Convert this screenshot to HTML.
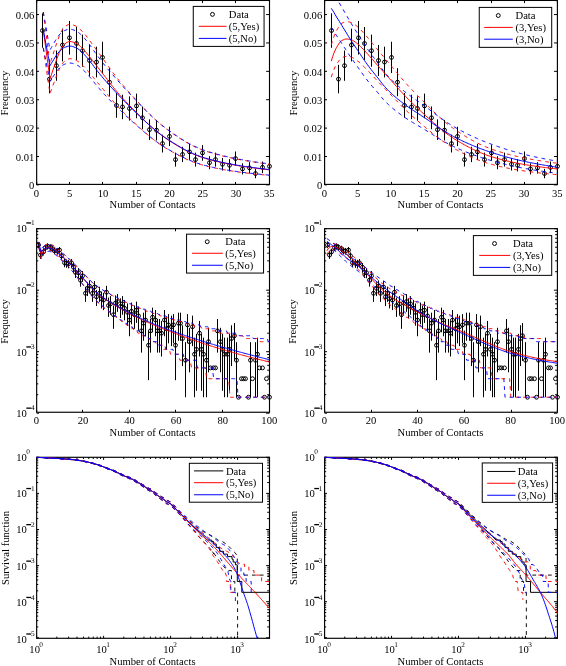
<!DOCTYPE html>
<html><head><meta charset="utf-8"><title>Figure</title><style>html,body{margin:0;padding:0;background:#fff}</style></head><body>
<svg width="566" height="666" viewBox="0 0 566 666" style="font-family:'Liberation Serif',serif;display:block;will-change:transform">
<rect width="566" height="666" fill="#fff"/>
<clipPath id="ca0"><rect x="36.06" y="-0.15" width="236.64" height="185.15"/></clipPath>
<rect x="36.66" y="0.45" width="232.84" height="183.95" fill="none" stroke="#000" stroke-width="1.15"/>
<path d="M36.66 184.4v-2.5M36.66 0.45v2.6M69.5 184.4v-2.5M69.5 0.45v2.6M102.5 184.4v-2.5M102.5 0.45v2.6M136.5 184.4v-2.5M136.5 0.45v2.6M169.5 184.4v-2.5M169.5 0.45v2.6M202.5 184.4v-2.5M202.5 0.45v2.6M235.5 184.4v-2.5M235.5 0.45v2.6M269.5 184.4v-2.5M269.5 0.45v2.6" stroke="#000" stroke-width="1"/>
<text x="36.46" y="196.5" font-size="10.6" text-anchor="middle">0</text>
<text x="69.72" y="196.5" font-size="10.6" text-anchor="middle">5</text>
<text x="102.99" y="196.5" font-size="10.6" text-anchor="middle">10</text>
<text x="136.25" y="196.5" font-size="10.6" text-anchor="middle">15</text>
<text x="169.51" y="196.5" font-size="10.6" text-anchor="middle">20</text>
<text x="202.77" y="196.5" font-size="10.6" text-anchor="middle">25</text>
<text x="236.04" y="196.5" font-size="10.6" text-anchor="middle">30</text>
<text x="269.3" y="196.5" font-size="10.6" text-anchor="middle">35</text>
<path d="M36.66 184.9h2.4M269.5 184.9h-3.4M36.66 156.51h2.4M269.5 156.51h-3.4M36.66 128.12h2.4M269.5 128.12h-3.4M36.66 99.73h2.4M269.5 99.73h-3.4M36.66 71.34h2.4M269.5 71.34h-3.4M36.66 42.95h2.4M269.5 42.95h-3.4M36.66 14.56h2.4M269.5 14.56h-3.4" stroke="#000" stroke-width="1"/>
<text x="34.26" y="188.6" font-size="10.6" text-anchor="end">0</text>
<text x="34.26" y="160.71" font-size="10.6" text-anchor="end">0.01</text>
<text x="34.26" y="132.32" font-size="10.6" text-anchor="end">0.02</text>
<text x="34.26" y="103.93" font-size="10.6" text-anchor="end">0.03</text>
<text x="34.26" y="75.54" font-size="10.6" text-anchor="end">0.04</text>
<text x="34.26" y="47.15" font-size="10.6" text-anchor="end">0.05</text>
<text x="34.26" y="18.76" font-size="10.6" text-anchor="end">0.06</text>
<text x="152.58" y="208.4" font-size="10.6" text-anchor="middle">Number of Contacts</text>
<text transform="translate(8.21 93.12) rotate(-90)" font-size="10.6" text-anchor="middle">Frequency</text>
<g clip-path="url(#ca0)">
<path d="M42.5 13.33V47.78M49.5 64.82V93.34M56.5 50.52V80.8M62.5 28.61V61.41M69.5 20.97V54.6M76.5 26.97V59.95M82.5 34.62V66.75M89.5 45.03V75.96M96.5 46.68V77.41M102.5 41.74V73.06M109.5 68.12V96.23M116.5 93.04V117.77M122.5 94.71V119.2M129.5 96.38V120.62M136.5 93.6V118.25M142.5 106.44V129.15M149.5 119.36V139.97M156.5 119.93V140.44M162.5 134.69V152.52M169.5 126.72V146.04M175.5 152.63V166.58M182.5 146.79V162.1M189.5 143.89V159.83M195.5 152.63V166.58M202.5 145.05V160.74M209.5 156.17V169.24M215.5 152.63V166.58M222.5 157.95V170.55M229.5 159.14V171.43M235.5 151.46V165.69M242.5 163.35V174.44M249.5 162.14V173.59M255.5 168.87V178.22M262.5 161.54V173.16M269.5 160.34V172.29" stroke="#000" stroke-width="1"/>
<g fill="none" stroke="#000" stroke-width="1">
<circle cx="42.5" cy="30.56" r="1.95"/>
<circle cx="49.5" cy="79.08" r="1.95"/>
<circle cx="56.5" cy="65.66" r="1.95"/>
<circle cx="62.5" cy="45.01" r="1.95"/>
<circle cx="69.5" cy="37.78" r="1.95"/>
<circle cx="76.5" cy="43.46" r="1.95"/>
<circle cx="82.5" cy="50.69" r="1.95"/>
<circle cx="89.5" cy="60.5" r="1.95"/>
<circle cx="96.5" cy="62.05" r="1.95"/>
<circle cx="102.5" cy="57.4" r="1.95"/>
<circle cx="109.5" cy="82.18" r="1.95"/>
<circle cx="116.5" cy="105.41" r="1.95"/>
<circle cx="122.5" cy="106.95" r="1.95"/>
<circle cx="129.5" cy="108.5" r="1.95"/>
<circle cx="136.5" cy="105.92" r="1.95"/>
<circle cx="142.5" cy="117.79" r="1.95"/>
<circle cx="149.5" cy="129.67" r="1.95"/>
<circle cx="156.5" cy="130.18" r="1.95"/>
<circle cx="162.5" cy="143.6" r="1.95"/>
<circle cx="169.5" cy="136.38" r="1.95"/>
<circle cx="175.5" cy="159.61" r="1.95"/>
<circle cx="182.5" cy="154.44" r="1.95"/>
<circle cx="189.5" cy="151.86" r="1.95"/>
<circle cx="195.5" cy="159.61" r="1.95"/>
<circle cx="202.5" cy="152.9" r="1.95"/>
<circle cx="209.5" cy="162.7" r="1.95"/>
<circle cx="215.5" cy="159.61" r="1.95"/>
<circle cx="222.5" cy="164.25" r="1.95"/>
<circle cx="229.5" cy="165.28" r="1.95"/>
<circle cx="235.5" cy="158.57" r="1.95"/>
<circle cx="242.5" cy="168.9" r="1.95"/>
<circle cx="249.5" cy="167.87" r="1.95"/>
<circle cx="255.5" cy="173.54" r="1.95"/>
<circle cx="262.5" cy="167.35" r="1.95"/>
<circle cx="269.5" cy="166.32" r="1.95"/>
</g>
<path d="M43.31 30.17L44.64 39.88L45.97 49.59L47.3 59.3L48.63 69.01L49.97 78.72L51.3 74.86L52.63 71L53.96 67.14L55.29 63.27L56.62 59.41L57.95 56.05L59.28 52.69L60.61 49.66L61.94 47.2L63.27 45.5L64.6 44.25L65.93 43.15L67.26 42.28L68.59 41.72L69.92 41.53L71.25 41.65L72.58 41.97L73.91 42.42L75.24 42.95L76.58 43.51L77.91 44.27L79.24 45.32L80.57 46.55L81.9 47.87L83.23 49.19L84.56 50.6L85.89 52.16L87.22 53.81L88.55 55.48L89.88 57.14L91.21 58.8L92.54 60.51L93.87 62.23L95.2 63.95L96.53 65.66L97.86 67.35L99.19 69.04L100.52 70.74L101.86 72.45L103.19 74.18L104.52 75.92L105.85 77.68L107.18 79.43L108.51 81.17L109.84 82.9L111.17 84.61L112.5 86.3L113.83 87.97L115.16 89.6L116.49 91.21L117.82 92.78L119.15 94.32L120.48 95.82L121.81 97.3L123.14 98.75L124.47 100.19L125.8 101.6L127.13 103.01L128.47 104.39L129.8 105.77L131.13 107.13L132.46 108.49L133.79 109.84L135.12 111.17L136.45 112.5L137.78 113.83L139.11 115.16L140.44 116.48L141.77 117.8L143.1 119.11L144.43 120.4L145.76 121.68L147.09 122.94L148.42 124.19L149.75 125.41L151.08 126.61L152.41 127.79L153.75 128.95L155.08 130.08L156.41 131.19L157.74 132.27L159.07 133.33L160.4 134.36L161.73 135.37L163.06 136.35L164.39 137.31L165.72 138.24L167.05 139.15L168.38 140.04L169.71 140.89L171.04 141.74L172.37 142.58L173.7 143.42L175.03 144.25L176.36 145.07L177.69 145.88L179.03 146.67L180.36 147.44L181.69 148.2L183.02 148.95L184.35 149.67L185.68 150.37L187.01 151.06L188.34 151.72L189.67 152.36L191 152.98L192.33 153.58L193.66 154.16L194.99 154.72L196.32 155.26L197.65 155.78L198.98 156.27L200.31 156.75L201.64 157.21L202.97 157.64L204.3 158.06L205.64 158.47L206.97 158.86L208.3 159.24L209.63 159.61L210.96 159.97L212.29 160.32L213.62 160.66L214.95 160.99L216.28 161.3L217.61 161.62L218.94 161.92L220.27 162.22L221.6 162.5L222.93 162.79L224.26 163.06L225.59 163.33L226.92 163.6L228.25 163.86L229.58 164.11L230.92 164.36L232.25 164.6L233.58 164.84L234.91 165.08L236.24 165.31L237.57 165.54L238.9 165.76L240.23 165.97L241.56 166.18L242.89 166.39L244.22 166.59L245.55 166.79L246.88 166.98L248.21 167.17L249.54 167.36L250.87 167.54L252.2 167.72L253.53 167.9L254.86 168.08L256.19 168.25L257.53 168.42L258.86 168.58L260.19 168.75L261.52 168.91L262.85 169.07L264.18 169.23L265.51 169.39L266.84 169.55L268.17 169.7L269.5 169.85" fill="none" stroke="#ff0000" stroke-width="1.0" stroke-linejoin="round"/>
<path d="M43.31 48.04L44.64 57.18L45.97 66.3L47.3 75.4L48.63 84.48L49.97 93.53L51.3 89.93L52.63 86.33L53.96 82.73L55.29 79.12L56.62 75.51L57.95 72.36L59.28 69.22L60.61 66.37L61.94 64.07L63.27 62.47L64.6 61.29L65.93 60.26L67.26 59.44L68.59 58.92L69.92 58.73L71.25 58.85L72.58 59.15L73.91 59.57L75.24 60.07L76.58 60.6L77.91 61.31L79.24 62.3L80.57 63.45L81.9 64.69L83.23 65.93L84.56 67.25L85.89 68.72L87.22 70.26L88.55 71.83L89.88 73.38L91.21 74.94L92.54 76.53L93.87 78.14L95.2 79.75L96.53 81.35L97.86 82.93L99.19 84.51L100.52 86.09L101.86 87.68L103.19 89.3L104.52 90.92L105.85 92.56L107.18 94.19L108.51 95.81L109.84 97.41L111.17 99L112.5 100.57L113.83 102.12L115.16 103.63L116.49 105.12L117.82 106.57L119.15 107.99L120.48 109.38L121.81 110.75L123.14 112.09L124.47 113.41L125.8 114.72L127.13 116.01L128.47 117.29L129.8 118.55L131.13 119.81L132.46 121.05L133.79 122.29L135.12 123.51L136.45 124.73L137.78 125.95L139.11 127.16L140.44 128.37L141.77 129.57L143.1 130.76L144.43 131.94L145.76 133.11L147.09 134.25L148.42 135.38L149.75 136.49L151.08 137.58L152.41 138.65L153.75 139.7L155.08 140.72L156.41 141.72L157.74 142.7L159.07 143.65L160.4 144.58L161.73 145.48L163.06 146.37L164.39 147.22L165.72 148.06L167.05 148.87L168.38 149.66L169.71 150.43L171.04 151.18L172.37 151.93L173.7 152.68L175.03 153.41L176.36 154.14L177.69 154.85L179.03 155.55L180.36 156.24L181.69 156.91L183.02 157.56L184.35 158.2L185.68 158.82L187.01 159.41L188.34 160L189.67 160.56L191 161.1L192.33 161.62L193.66 162.13L194.99 162.62L196.32 163.08L197.65 163.53L198.98 163.96L200.31 164.37L201.64 164.77L202.97 165.15L204.3 165.51L205.64 165.86L206.97 166.2L208.3 166.52L209.63 166.84L210.96 167.15L212.29 167.44L213.62 167.73L214.95 168.01L216.28 168.28L217.61 168.55L218.94 168.81L220.27 169.06L221.6 169.3L222.93 169.54L224.26 169.78L225.59 170.01L226.92 170.23L228.25 170.45L229.58 170.66L230.92 170.87L232.25 171.08L233.58 171.28L234.91 171.48L236.24 171.67L237.57 171.86L238.9 172.05L240.23 172.23L241.56 172.4L242.89 172.57L244.22 172.74L245.55 172.91L246.88 173.07L248.21 173.22L249.54 173.38L250.87 173.53L252.2 173.68L253.53 173.83L254.86 173.97L256.19 174.11L257.53 174.25L258.86 174.39L260.19 174.52L261.52 174.66L262.85 174.79L264.18 174.92L265.51 175.05L266.84 175.18L268.17 175.3L269.5 175.43" fill="none" stroke="#ff0000" stroke-width="0.95" stroke-dasharray="3.8 4" stroke-linejoin="round"/>
<path d="M43.31 12.3L44.64 22.58L45.97 32.87L47.3 43.2L48.63 53.54L49.97 63.91L51.3 59.78L52.63 55.66L53.96 51.54L55.29 47.43L56.62 43.32L57.95 39.74L59.28 36.17L60.61 32.95L61.94 30.34L63.27 28.54L64.6 27.21L65.93 26.04L67.26 25.12L68.59 24.53L69.92 24.32L71.25 24.45L72.58 24.79L73.91 25.27L75.24 25.83L76.58 26.43L77.91 27.23L79.24 28.35L80.57 29.65L81.9 31.05L83.23 32.45L84.56 33.95L85.89 35.61L87.22 37.36L88.55 39.14L89.88 40.9L91.21 42.67L92.54 44.48L93.87 46.31L95.2 48.15L96.53 49.97L97.86 51.77L99.19 53.57L100.52 55.38L101.86 57.21L103.19 59.06L104.52 60.92L105.85 62.8L107.18 64.67L108.51 66.54L109.84 68.39L111.17 70.22L112.5 72.04L113.83 73.82L115.16 75.58L116.49 77.3L117.82 78.99L119.15 80.64L120.48 82.26L121.81 83.85L123.14 85.42L124.47 86.96L125.8 88.49L127.13 90L128.47 91.5L129.8 92.99L131.13 94.46L132.46 95.93L133.79 97.39L135.12 98.84L136.45 100.28L137.78 101.72L139.11 103.16L140.44 104.6L141.77 106.03L143.1 107.45L144.43 108.86L145.76 110.26L147.09 111.63L148.42 112.99L149.75 114.33L151.08 115.64L152.41 116.93L153.75 118.2L155.08 119.44L156.41 120.66L157.74 121.85L159.07 123.01L160.4 124.15L161.73 125.26L163.06 126.34L164.39 127.4L165.72 128.43L167.05 129.43L168.38 130.41L169.71 131.36L171.04 132.3L172.37 133.24L173.7 134.17L175.03 135.09L176.36 136L177.69 136.9L179.03 137.78L180.36 138.65L181.69 139.5L183.02 140.33L184.35 141.14L185.68 141.93L187.01 142.7L188.34 143.44L189.67 144.16L191 144.86L192.33 145.54L193.66 146.2L194.99 146.83L196.32 147.44L197.65 148.02L198.98 148.59L200.31 149.13L201.64 149.65L202.97 150.14L204.3 150.62L205.64 151.08L206.97 151.53L208.3 151.97L209.63 152.39L210.96 152.8L212.29 153.19L213.62 153.58L214.95 153.96L216.28 154.32L217.61 154.68L218.94 155.03L220.27 155.37L221.6 155.7L222.93 156.03L224.26 156.35L225.59 156.66L226.92 156.97L228.25 157.26L229.58 157.56L230.92 157.85L232.25 158.13L233.58 158.41L234.91 158.68L236.24 158.95L237.57 159.21L238.9 159.47L240.23 159.72L241.56 159.97L242.89 160.21L244.22 160.44L245.55 160.68L246.88 160.9L248.21 161.12L249.54 161.34L250.87 161.56L252.2 161.77L253.53 161.98L254.86 162.18L256.19 162.38L257.53 162.58L258.86 162.78L260.19 162.97L261.52 163.17L262.85 163.36L264.18 163.54L265.51 163.73L266.84 163.91L268.17 164.1L269.5 164.28" fill="none" stroke="#ff0000" stroke-width="0.95" stroke-dasharray="3.8 4" stroke-linejoin="round"/>
<path d="M43.31 29.89L44.64 37.04L45.97 44.2L47.3 51.35L48.63 58.5L49.97 65.66L51.3 63.5L52.63 61.34L53.96 59.19L55.29 57.03L56.62 54.87L57.95 53.17L59.28 51.52L60.61 50.06L61.94 48.88L63.27 48.06L64.6 47.43L65.93 46.88L67.26 46.45L68.59 46.17L69.92 46.07L71.25 46.19L72.58 46.52L73.91 46.97L75.24 47.5L76.58 48.06L77.91 48.79L79.24 49.78L80.57 50.95L81.9 52.19L83.23 53.45L84.56 54.79L85.89 56.28L87.22 57.86L88.55 59.48L89.88 61.12L91.21 62.81L92.54 64.58L93.87 66.39L95.2 68.18L96.53 69.92L97.86 71.6L99.19 73.27L100.52 74.91L101.86 76.54L103.19 78.15L104.52 79.73L105.85 81.27L107.18 82.78L108.51 84.26L109.84 85.72L111.17 87.17L112.5 88.61L113.83 90.05L115.16 91.48L116.49 92.91L117.82 94.34L119.15 95.75L120.48 97.15L121.81 98.53L123.14 99.91L124.47 101.27L125.8 102.62L127.13 103.96L128.47 105.29L129.8 106.61L131.13 107.92L132.46 109.22L133.79 110.52L135.12 111.8L136.45 113.07L137.78 114.34L139.11 115.61L140.44 116.88L141.77 118.15L143.1 119.41L144.43 120.65L145.76 121.88L147.09 123.1L148.42 124.3L149.75 125.49L151.08 126.65L152.41 127.79L153.75 128.92L155.08 130.02L156.41 131.1L157.74 132.15L159.07 133.19L160.4 134.2L161.73 135.18L163.06 136.14L164.39 137.08L165.72 138L167.05 138.89L168.38 139.76L169.71 140.61L171.04 141.45L172.37 142.28L173.7 143.12L175.03 143.94L176.36 144.76L177.69 145.56L179.03 146.35L180.36 147.13L181.69 147.89L183.02 148.63L184.35 149.36L185.68 150.06L187.01 150.75L188.34 151.42L189.67 152.06L191 152.68L192.33 153.29L193.66 153.87L194.99 154.43L196.32 154.97L197.65 155.49L198.98 155.99L200.31 156.47L201.64 156.92L202.97 157.36L204.3 157.78L205.64 158.19L206.97 158.58L208.3 158.96L209.63 159.33L210.96 159.69L212.29 160.03L213.62 160.37L214.95 160.7L216.28 161.02L217.61 161.33L218.94 161.64L220.27 161.93L221.6 162.22L222.93 162.5L224.26 162.78L225.59 163.05L226.92 163.31L228.25 163.57L229.58 163.83L230.92 164.08L232.25 164.32L233.58 164.56L234.91 164.79L236.24 165.03L237.57 165.25L238.9 165.47L240.23 165.69L241.56 165.9L242.89 166.11L244.22 166.31L245.55 166.51L246.88 166.7L248.21 166.89L249.54 167.08L250.87 167.26L252.2 167.44L253.53 167.62L254.86 167.79L256.19 167.96L257.53 168.13L258.86 168.3L260.19 168.47L261.52 168.63L262.85 168.79L264.18 168.95L265.51 169.11L266.84 169.26L268.17 169.42L269.5 169.57" fill="none" stroke="#0000ff" stroke-width="1.0" stroke-linejoin="round"/>
<path d="M43.31 47.78L44.64 54.51L45.97 61.24L47.3 67.96L48.63 74.66L49.97 81.35L51.3 79.33L52.63 77.32L53.96 75.3L55.29 73.28L56.62 71.26L57.95 69.66L59.28 68.12L60.61 66.75L61.94 65.64L63.27 64.87L64.6 64.28L65.93 63.76L67.26 63.35L68.59 63.09L69.92 63L71.25 63.12L72.58 63.42L73.91 63.84L75.24 64.34L76.58 64.87L77.91 65.55L79.24 66.49L80.57 67.58L81.9 68.74L83.23 69.93L84.56 71.18L85.89 72.58L87.22 74.05L88.55 75.58L89.88 77.1L91.21 78.68L92.54 80.35L93.87 82.03L95.2 83.71L96.53 85.33L97.86 86.9L99.19 88.45L100.52 89.98L101.86 91.5L103.19 93L104.52 94.47L105.85 95.9L107.18 97.3L108.51 98.68L109.84 100.03L111.17 101.38L112.5 102.71L113.83 104.04L115.16 105.37L116.49 106.7L117.82 108.01L119.15 109.32L120.48 110.61L121.81 111.89L123.14 113.15L124.47 114.41L125.8 115.65L127.13 116.89L128.47 118.11L129.8 119.32L131.13 120.53L132.46 121.72L133.79 122.91L135.12 124.08L136.45 125.25L137.78 126.41L139.11 127.57L140.44 128.73L141.77 129.89L143.1 131.03L144.43 132.17L145.76 133.29L147.09 134.4L148.42 135.49L149.75 136.56L151.08 137.62L152.41 138.65L153.75 139.67L155.08 140.66L156.41 141.64L157.74 142.59L159.07 143.52L160.4 144.43L161.73 145.31L163.06 146.18L164.39 147.02L165.72 147.84L167.05 148.64L168.38 149.42L169.71 150.17L171.04 150.92L172.37 151.66L173.7 152.4L175.03 153.14L176.36 153.86L177.69 154.57L179.03 155.27L180.36 155.96L181.69 156.63L183.02 157.29L184.35 157.92L185.68 158.54L187.01 159.15L188.34 159.73L189.67 160.3L191 160.84L192.33 161.37L193.66 161.87L194.99 162.36L196.32 162.83L197.65 163.28L198.98 163.72L200.31 164.13L201.64 164.52L202.97 164.9L204.3 165.26L205.64 165.61L206.97 165.95L208.3 166.28L209.63 166.6L210.96 166.9L212.29 167.2L213.62 167.49L214.95 167.77L216.28 168.04L217.61 168.31L218.94 168.57L220.27 168.82L221.6 169.06L222.93 169.3L224.26 169.54L225.59 169.77L226.92 169.99L228.25 170.21L229.58 170.42L230.92 170.63L232.25 170.84L233.58 171.04L234.91 171.24L236.24 171.43L237.57 171.62L238.9 171.81L240.23 171.99L241.56 172.16L242.89 172.34L244.22 172.5L245.55 172.67L246.88 172.83L248.21 172.99L249.54 173.14L250.87 173.3L252.2 173.44L253.53 173.59L254.86 173.74L256.19 173.88L257.53 174.02L258.86 174.15L260.19 174.29L261.52 174.42L262.85 174.56L264.18 174.69L265.51 174.82L266.84 174.94L268.17 175.07L269.5 175.2" fill="none" stroke="#0000ff" stroke-width="0.95" stroke-dasharray="3.8 4" stroke-linejoin="round"/>
<path d="M43.31 12L44.64 19.57L45.97 27.15L47.3 34.74L48.63 42.35L49.97 49.97L51.3 47.67L52.63 45.37L53.96 43.07L55.29 40.78L56.62 38.48L57.95 36.68L59.28 34.92L60.61 33.37L61.94 32.12L63.27 31.25L64.6 30.59L65.93 30L67.26 29.54L68.59 29.24L69.92 29.14L71.25 29.27L72.58 29.61L73.91 30.09L75.24 30.65L76.58 31.25L77.91 32.02L79.24 33.08L80.57 34.32L81.9 35.64L83.23 36.98L84.56 38.4L85.89 39.98L87.22 41.66L88.55 43.39L89.88 45.13L91.21 46.93L92.54 48.82L93.87 50.75L95.2 52.66L96.53 54.51L97.86 56.31L99.19 58.08L100.52 59.84L101.86 61.58L103.19 63.3L104.52 65L105.85 66.64L107.18 68.26L108.51 69.84L109.84 71.41L111.17 72.97L112.5 74.51L113.83 76.05L115.16 77.59L116.49 79.13L117.82 80.67L119.15 82.18L120.48 83.69L121.81 85.18L123.14 86.66L124.47 88.13L125.8 89.58L127.13 91.03L128.47 92.47L129.8 93.9L131.13 95.31L132.46 96.72L133.79 98.12L135.12 99.51L136.45 100.89L137.78 102.27L139.11 103.65L140.44 105.03L141.77 106.41L143.1 107.78L144.43 109.13L145.76 110.48L147.09 111.81L148.42 113.12L149.75 114.41L151.08 115.68L152.41 116.94L153.75 118.17L155.08 119.37L156.41 120.56L157.74 121.72L159.07 122.85L160.4 123.96L161.73 125.05L163.06 126.11L164.39 127.15L165.72 128.16L167.05 129.15L168.38 130.11L169.71 131.05L171.04 131.98L172.37 132.9L173.7 133.83L175.03 134.74L176.36 135.65L177.69 136.55L179.03 137.43L180.36 138.3L181.69 139.15L183.02 139.98L184.35 140.79L185.68 141.58L187.01 142.35L188.34 143.1L189.67 143.83L191 144.53L192.33 145.21L193.66 145.87L194.99 146.5L196.32 147.11L197.65 147.7L198.98 148.26L200.31 148.8L201.64 149.32L202.97 149.82L204.3 150.3L205.64 150.76L206.97 151.21L208.3 151.64L209.63 152.06L210.96 152.47L212.29 152.87L213.62 153.26L214.95 153.63L216.28 154L217.61 154.36L218.94 154.7L220.27 155.05L221.6 155.38L222.93 155.7L224.26 156.02L225.59 156.33L226.92 156.64L228.25 156.94L229.58 157.23L230.92 157.52L232.25 157.8L233.58 158.08L234.91 158.35L236.24 158.62L237.57 158.88L238.9 159.14L240.23 159.39L241.56 159.64L242.89 159.88L244.22 160.11L245.55 160.34L246.88 160.57L248.21 160.79L249.54 161.01L250.87 161.22L252.2 161.44L253.53 161.64L254.86 161.85L256.19 162.05L257.53 162.25L258.86 162.45L260.19 162.64L261.52 162.83L262.85 163.02L264.18 163.21L265.51 163.4L266.84 163.58L268.17 163.76L269.5 163.94" fill="none" stroke="#0000ff" stroke-width="0.95" stroke-dasharray="3.8 4" stroke-linejoin="round"/>
</g>
<rect x="193.26" y="6.4" width="70.8" height="40" fill="#fff" stroke="#000" stroke-width="1"/>
<circle cx="212.46" cy="14.37" r="1.95" fill="none" stroke="#000" stroke-width="1"/>
<text x="228.81" y="17.97" font-size="10.6">Data</text>
<path d="M198.81 26.3H226.51" stroke="#ff0000" stroke-width="1"/>
<text x="228.81" y="29.9" font-size="10.6">(5,Yes)</text>
<path d="M198.81 38.4H226.51" stroke="#0000ff" stroke-width="1"/>
<text x="228.81" y="42" font-size="10.6">(5,No)</text>
<clipPath id="ca1"><rect x="324" y="-0.15" width="236.6" height="185.15"/></clipPath>
<rect x="324.6" y="0.45" width="232.8" height="183.95" fill="none" stroke="#000" stroke-width="1.15"/>
<path d="M324.6 184.4v-2.5M324.6 0.45v2.6M358.5 184.4v-2.5M358.5 0.45v2.6M391.5 184.4v-2.5M391.5 0.45v2.6M424.5 184.4v-2.5M424.5 0.45v2.6M457.5 184.4v-2.5M457.5 0.45v2.6M491.5 184.4v-2.5M491.5 0.45v2.6M524.5 184.4v-2.5M524.5 0.45v2.6M557.4 184.4v-2.5M557.4 0.45v2.6" stroke="#000" stroke-width="1"/>
<text x="324.4" y="196.5" font-size="10.6" text-anchor="middle">0</text>
<text x="357.66" y="196.5" font-size="10.6" text-anchor="middle">5</text>
<text x="390.91" y="196.5" font-size="10.6" text-anchor="middle">10</text>
<text x="424.17" y="196.5" font-size="10.6" text-anchor="middle">15</text>
<text x="457.43" y="196.5" font-size="10.6" text-anchor="middle">20</text>
<text x="490.69" y="196.5" font-size="10.6" text-anchor="middle">25</text>
<text x="523.94" y="196.5" font-size="10.6" text-anchor="middle">30</text>
<text x="557.2" y="196.5" font-size="10.6" text-anchor="middle">35</text>
<path d="M324.6 184.9h2.4M557.4 184.9h-3.4M324.6 156.51h2.4M557.4 156.51h-3.4M324.6 128.12h2.4M557.4 128.12h-3.4M324.6 99.73h2.4M557.4 99.73h-3.4M324.6 71.34h2.4M557.4 71.34h-3.4M324.6 42.95h2.4M557.4 42.95h-3.4M324.6 14.56h2.4M557.4 14.56h-3.4" stroke="#000" stroke-width="1"/>
<text x="322.2" y="188.6" font-size="10.6" text-anchor="end">0</text>
<text x="322.2" y="160.71" font-size="10.6" text-anchor="end">0.01</text>
<text x="322.2" y="132.32" font-size="10.6" text-anchor="end">0.02</text>
<text x="322.2" y="103.93" font-size="10.6" text-anchor="end">0.03</text>
<text x="322.2" y="75.54" font-size="10.6" text-anchor="end">0.04</text>
<text x="322.2" y="47.15" font-size="10.6" text-anchor="end">0.05</text>
<text x="322.2" y="18.76" font-size="10.6" text-anchor="end">0.06</text>
<text x="440.5" y="208.4" font-size="10.6" text-anchor="middle">Number of Contacts</text>
<text transform="translate(296.65 93.12) rotate(-90)" font-size="10.6" text-anchor="middle">Frequency</text>
<g clip-path="url(#ca1)">
<path d="M331.5 13.33V47.78M338.5 64.82V93.34M344.5 50.52V80.8M351.5 28.61V61.41M358.5 20.97V54.6M364.5 26.97V59.95M371.5 34.62V66.75M378.5 45.03V75.96M384.5 46.68V77.41M391.5 41.74V73.06M397.5 68.12V96.23M404.5 93.04V117.77M411.5 94.71V119.2M417.5 96.38V120.62M424.5 93.6V118.25M431.5 106.44V129.15M437.5 119.36V139.97M444.5 119.93V140.44M451.5 134.69V152.52M457.5 126.72V146.04M464.5 152.63V166.58M471.5 146.79V162.1M477.5 143.89V159.83M484.5 152.63V166.58M491.5 145.05V160.74M497.5 156.17V169.24M504.5 152.63V166.58M511.5 157.95V170.55M517.5 159.14V171.43M524.5 151.46V165.69M530.5 163.35V174.44M537.5 162.14V173.59M544.5 168.87V178.22M550.5 161.54V173.16M557.5 160.34V172.29" stroke="#000" stroke-width="1"/>
<g fill="none" stroke="#000" stroke-width="1">
<circle cx="331.5" cy="30.56" r="1.95"/>
<circle cx="338.5" cy="79.08" r="1.95"/>
<circle cx="344.5" cy="65.66" r="1.95"/>
<circle cx="351.5" cy="45.01" r="1.95"/>
<circle cx="358.5" cy="37.78" r="1.95"/>
<circle cx="364.5" cy="43.46" r="1.95"/>
<circle cx="371.5" cy="50.69" r="1.95"/>
<circle cx="378.5" cy="60.5" r="1.95"/>
<circle cx="384.5" cy="62.05" r="1.95"/>
<circle cx="391.5" cy="57.4" r="1.95"/>
<circle cx="397.5" cy="82.18" r="1.95"/>
<circle cx="404.5" cy="105.41" r="1.95"/>
<circle cx="411.5" cy="106.95" r="1.95"/>
<circle cx="417.5" cy="108.5" r="1.95"/>
<circle cx="424.5" cy="105.92" r="1.95"/>
<circle cx="431.5" cy="117.79" r="1.95"/>
<circle cx="437.5" cy="129.67" r="1.95"/>
<circle cx="444.5" cy="130.18" r="1.95"/>
<circle cx="451.5" cy="143.6" r="1.95"/>
<circle cx="457.5" cy="136.38" r="1.95"/>
<circle cx="464.5" cy="159.61" r="1.95"/>
<circle cx="471.5" cy="154.44" r="1.95"/>
<circle cx="477.5" cy="151.86" r="1.95"/>
<circle cx="484.5" cy="159.61" r="1.95"/>
<circle cx="491.5" cy="152.9" r="1.95"/>
<circle cx="497.5" cy="162.7" r="1.95"/>
<circle cx="504.5" cy="159.61" r="1.95"/>
<circle cx="511.5" cy="164.25" r="1.95"/>
<circle cx="517.5" cy="165.28" r="1.95"/>
<circle cx="524.5" cy="158.57" r="1.95"/>
<circle cx="530.5" cy="168.9" r="1.95"/>
<circle cx="537.5" cy="167.87" r="1.95"/>
<circle cx="544.5" cy="173.54" r="1.95"/>
<circle cx="550.5" cy="167.35" r="1.95"/>
<circle cx="557.5" cy="166.32" r="1.95"/>
</g>
<path d="M331.25 61.12L332.58 56.79L333.91 53.08L335.24 50.01L336.57 47.42L337.9 45.22L339.23 43.16L340.56 41.5L341.89 40.55L343.22 39.82L344.55 39.29L345.88 39.01L347.21 39L348.55 39.18L349.88 39.48L351.21 39.82L352.54 40.35L353.87 41.13L355.2 42.06L356.53 43.07L357.86 44.08L359.19 45.19L360.52 46.47L361.85 47.83L363.18 49.22L364.51 50.61L365.84 52.02L367.17 53.49L368.5 54.98L369.83 56.49L371.16 57.99L372.49 59.51L373.82 61.05L375.15 62.6L376.48 64.14L377.81 65.66L379.14 67.15L380.47 68.63L381.8 70.1L383.13 71.57L384.46 73.04L385.79 74.51L387.12 75.97L388.45 77.44L389.78 78.92L391.11 80.42L392.44 81.93L393.77 83.44L395.11 84.95L396.44 86.45L397.77 87.94L399.1 89.42L400.43 90.89L401.76 92.34L403.09 93.77L404.42 95.19L405.75 96.58L407.08 97.95L408.41 99.3L409.74 100.63L411.07 101.94L412.4 103.24L413.73 104.53L415.06 105.81L416.39 107.07L417.72 108.33L419.05 109.58L420.38 110.82L421.71 112.05L423.04 113.27L424.37 114.49L425.7 115.71L427.03 116.93L428.36 118.15L429.69 119.37L431.02 120.58L432.35 121.78L433.68 122.97L435.01 124.15L436.34 125.3L437.67 126.45L439 127.57L440.33 128.67L441.67 129.75L443 130.81L444.33 131.84L445.66 132.85L446.99 133.84L448.32 134.81L449.65 135.75L450.98 136.66L452.31 137.56L453.64 138.43L454.97 139.27L456.3 140.09L457.63 140.89L458.96 141.68L460.29 142.46L461.62 143.23L462.95 143.99L464.28 144.74L465.61 145.47L466.94 146.2L468.27 146.91L469.6 147.6L470.93 148.28L472.26 148.95L473.59 149.59L474.92 150.23L476.25 150.84L477.58 151.44L478.91 152.02L480.24 152.59L481.57 153.13L482.9 153.67L484.23 154.18L485.56 154.68L486.89 155.16L488.23 155.63L489.56 156.08L490.89 156.51L492.22 156.93L493.55 157.34L494.88 157.74L496.21 158.13L497.54 158.51L498.87 158.88L500.2 159.24L501.53 159.6L502.86 159.94L504.19 160.28L505.52 160.6L506.85 160.92L508.18 161.24L509.51 161.54L510.84 161.84L512.17 162.13L513.5 162.41L514.83 162.69L516.16 162.96L517.49 163.22L518.82 163.48L520.15 163.74L521.48 163.98L522.81 164.22L524.14 164.46L525.47 164.69L526.8 164.91L528.13 165.13L529.46 165.34L530.79 165.54L532.12 165.75L533.45 165.94L534.79 166.13L536.12 166.32L537.45 166.51L538.78 166.69L540.11 166.87L541.44 167.04L542.77 167.22L544.1 167.39L545.43 167.55L546.76 167.72L548.09 167.89L549.42 168.05L550.75 168.21L552.08 168.37L553.41 168.53L554.74 168.69L556.07 168.84L557.4 169" fill="none" stroke="#ff0000" stroke-width="1.0" stroke-linejoin="round"/>
<path d="M331.25 77.1L332.58 73.05L333.91 69.58L335.24 66.69L336.57 64.27L337.9 62.2L339.23 60.27L340.56 58.71L341.89 57.81L343.22 57.12L344.55 56.63L345.88 56.36L347.21 56.36L348.55 56.53L349.88 56.81L351.21 57.13L352.54 57.62L353.87 58.36L355.2 59.23L356.53 60.18L357.86 61.13L359.19 62.18L360.52 63.37L361.85 64.65L363.18 65.96L364.51 67.26L365.84 68.58L367.17 69.96L368.5 71.36L369.83 72.77L371.16 74.18L372.49 75.6L373.82 77.04L375.15 78.49L376.48 79.93L377.81 81.35L379.14 82.74L380.47 84.12L381.8 85.5L383.13 86.87L384.46 88.24L385.79 89.6L387.12 90.97L388.45 92.34L389.78 93.72L391.11 95.11L392.44 96.51L393.77 97.92L395.11 99.31L396.44 100.71L397.77 102.09L399.1 103.46L400.43 104.82L401.76 106.16L403.09 107.49L404.42 108.8L405.75 110.08L407.08 111.35L408.41 112.59L409.74 113.82L411.07 115.03L412.4 116.23L413.73 117.41L415.06 118.59L416.39 119.75L417.72 120.9L419.05 122.05L420.38 123.18L421.71 124.31L423.04 125.43L424.37 126.55L425.7 127.66L427.03 128.78L428.36 129.89L429.69 131L431.02 132.11L432.35 133.2L433.68 134.28L435.01 135.35L436.34 136.4L437.67 137.43L439 138.45L440.33 139.44L441.67 140.42L443 141.37L444.33 142.31L445.66 143.22L446.99 144.11L448.32 144.98L449.65 145.82L450.98 146.64L452.31 147.44L453.64 148.22L454.97 148.98L456.3 149.71L457.63 150.43L458.96 151.13L460.29 151.82L461.62 152.5L462.95 153.18L464.28 153.84L465.61 154.5L466.94 155.14L468.27 155.76L469.6 156.38L470.93 156.98L472.26 157.56L473.59 158.13L474.92 158.69L476.25 159.23L477.58 159.75L478.91 160.26L480.24 160.75L481.57 161.23L482.9 161.7L484.23 162.14L485.56 162.58L486.89 163L488.23 163.4L489.56 163.79L490.89 164.17L492.22 164.53L493.55 164.88L494.88 165.23L496.21 165.56L497.54 165.89L498.87 166.21L500.2 166.52L501.53 166.82L502.86 167.12L504.19 167.41L505.52 167.69L506.85 167.96L508.18 168.23L509.51 168.49L510.84 168.74L512.17 168.99L513.5 169.23L514.83 169.46L516.16 169.69L517.49 169.91L518.82 170.13L520.15 170.35L521.48 170.55L522.81 170.76L524.14 170.96L525.47 171.15L526.8 171.34L528.13 171.52L529.46 171.69L530.79 171.87L532.12 172.03L533.45 172.2L534.79 172.36L536.12 172.52L537.45 172.67L538.78 172.82L540.11 172.97L541.44 173.11L542.77 173.26L544.1 173.4L545.43 173.54L546.76 173.68L548.09 173.81L549.42 173.95L550.75 174.08L552.08 174.21L553.41 174.34L554.74 174.47L556.07 174.6L557.4 174.73" fill="none" stroke="#ff0000" stroke-width="0.95" stroke-dasharray="3.8 4" stroke-linejoin="round"/>
<path d="M331.25 45.13L332.58 40.53L333.91 36.59L335.24 33.32L336.57 30.57L337.9 28.23L339.23 26.06L340.56 24.29L341.89 23.28L343.22 22.51L344.55 21.95L345.88 21.65L347.21 21.64L348.55 21.84L349.88 22.15L351.21 22.52L352.54 23.07L353.87 23.9L355.2 24.89L356.53 25.95L357.86 27.03L359.19 28.21L360.52 29.56L361.85 31.01L363.18 32.49L364.51 33.96L365.84 35.46L367.17 37.01L368.5 38.61L369.83 40.21L371.16 41.81L372.49 43.42L373.82 45.06L375.15 46.71L376.48 48.35L377.81 49.97L379.14 51.56L380.47 53.13L381.8 54.71L383.13 56.27L384.46 57.84L385.79 59.41L387.12 60.97L388.45 62.55L389.78 64.13L391.11 65.73L392.44 67.35L393.77 68.97L395.11 70.58L396.44 72.19L397.77 73.79L399.1 75.38L400.43 76.95L401.76 78.51L403.09 80.05L404.42 81.57L405.75 83.07L407.08 84.55L408.41 86L409.74 87.44L411.07 88.85L412.4 90.26L413.73 91.65L415.06 93.03L416.39 94.4L417.72 95.75L419.05 97.1L420.38 98.45L421.71 99.78L423.04 101.11L424.37 102.43L425.7 103.76L427.03 105.08L428.36 106.41L429.69 107.74L431.02 109.06L432.35 110.37L433.68 111.66L435.01 112.95L436.34 114.21L437.67 115.46L439 116.69L440.33 117.89L441.67 119.08L443 120.24L444.33 121.37L445.66 122.49L446.99 123.57L448.32 124.64L449.65 125.67L450.98 126.68L452.31 127.67L453.64 128.63L454.97 129.57L456.3 130.48L457.63 131.36L458.96 132.23L460.29 133.1L461.62 133.95L462.95 134.8L464.28 135.63L465.61 136.45L466.94 137.26L468.27 138.05L469.6 138.83L470.93 139.59L472.26 140.33L473.59 141.06L474.92 141.77L476.25 142.46L477.58 143.13L478.91 143.78L480.24 144.42L481.57 145.04L482.9 145.63L484.23 146.22L485.56 146.78L486.89 147.32L488.23 147.85L489.56 148.36L490.89 148.85L492.22 149.33L493.55 149.8L494.88 150.25L496.21 150.7L497.54 151.13L498.87 151.55L500.2 151.96L501.53 152.37L502.86 152.76L504.19 153.15L505.52 153.52L506.85 153.89L508.18 154.25L509.51 154.6L510.84 154.94L512.17 155.27L513.5 155.6L514.83 155.92L516.16 156.23L517.49 156.53L518.82 156.83L520.15 157.12L521.48 157.41L522.81 157.69L524.14 157.96L525.47 158.23L526.8 158.49L528.13 158.74L529.46 158.98L530.79 159.22L532.12 159.46L533.45 159.69L534.79 159.91L536.12 160.13L537.45 160.34L538.78 160.56L540.11 160.76L541.44 160.97L542.77 161.17L544.1 161.37L545.43 161.57L546.76 161.77L548.09 161.96L549.42 162.15L550.75 162.34L552.08 162.53L553.41 162.72L554.74 162.9L556.07 163.09L557.4 163.27" fill="none" stroke="#ff0000" stroke-width="0.95" stroke-dasharray="3.8 4" stroke-linejoin="round"/>
<path d="M331.25 8.31L332.58 10.21L333.91 12.48L335.24 14.79L336.57 17.02L337.9 19.1L339.23 21.18L340.56 23.37L341.89 25.58L343.22 27.76L344.55 29.89L345.88 32.03L347.21 34.24L348.55 36.44L349.88 38.59L351.21 40.67L352.54 42.7L353.87 44.69L355.2 46.67L356.53 48.65L357.86 50.61L359.19 52.61L360.52 54.63L361.85 56.65L363.18 58.63L364.51 60.55L365.84 62.43L367.17 64.28L368.5 66.1L369.83 67.89L371.16 69.63L372.49 71.32L373.82 72.96L375.15 74.59L376.48 76.22L377.81 77.87L379.14 79.58L380.47 81.35L381.8 83.11L383.13 84.8L384.46 86.38L385.79 87.86L387.12 89.26L388.45 90.61L389.78 91.92L391.11 93.2L392.44 94.44L393.77 95.64L395.11 96.81L396.44 97.94L397.77 99.04L399.1 100.12L400.43 101.18L401.76 102.22L403.09 103.25L404.42 104.27L405.75 105.26L407.08 106.22L408.41 107.15L409.74 108.05L411.07 108.94L412.4 109.82L413.73 110.69L415.06 111.55L416.39 112.4L417.72 113.26L419.05 114.12L420.38 114.99L421.71 115.85L423.04 116.73L424.37 117.61L425.7 118.51L427.03 119.42L428.36 120.34L429.69 121.26L431.02 122.19L432.35 123.12L433.68 124.05L435.01 124.97L436.34 125.88L437.67 126.79L439 127.68L440.33 128.57L441.67 129.44L443 130.29L444.33 131.13L445.66 131.96L446.99 132.77L448.32 133.56L449.65 134.34L450.98 135.1L452.31 135.84L453.64 136.56L454.97 137.27L456.3 137.95L457.63 138.62L458.96 139.28L460.29 139.92L461.62 140.56L462.95 141.19L464.28 141.81L465.61 142.41L466.94 143.01L468.27 143.6L469.6 144.18L470.93 144.76L472.26 145.32L473.59 145.87L474.92 146.41L476.25 146.95L477.58 147.47L478.91 147.99L480.24 148.5L481.57 148.99L482.9 149.48L484.23 149.97L485.56 150.44L486.89 150.9L488.23 151.36L489.56 151.81L490.89 152.25L492.22 152.68L493.55 153.11L494.88 153.54L496.21 153.95L497.54 154.37L498.87 154.77L500.2 155.17L501.53 155.57L502.86 155.95L504.19 156.34L505.52 156.71L506.85 157.08L508.18 157.44L509.51 157.8L510.84 158.15L512.17 158.5L513.5 158.84L514.83 159.17L516.16 159.5L517.49 159.82L518.82 160.13L520.15 160.44L521.48 160.75L522.81 161.04L524.14 161.34L525.47 161.62L526.8 161.9L528.13 162.18L529.46 162.45L530.79 162.71L532.12 162.97L533.45 163.23L534.79 163.48L536.12 163.72L537.45 163.97L538.78 164.21L540.11 164.45L541.44 164.68L542.77 164.91L544.1 165.14L545.43 165.36L546.76 165.59L548.09 165.81L549.42 166.03L550.75 166.24L552.08 166.46L553.41 166.67L554.74 166.88L556.07 167.09L557.4 167.3" fill="none" stroke="#0000ff" stroke-width="1.0" stroke-linejoin="round"/>
<path d="M331.25 27.4L332.58 29.21L333.91 31.35L335.24 33.53L336.57 35.64L337.9 37.6L339.23 39.57L340.56 41.64L341.89 43.72L343.22 45.78L344.55 47.78L345.88 49.8L347.21 51.87L348.55 53.95L349.88 55.97L351.21 57.93L352.54 59.83L353.87 61.71L355.2 63.57L356.53 65.42L357.86 67.26L359.19 69.13L360.52 71.03L361.85 72.92L363.18 74.77L364.51 76.57L365.84 78.33L367.17 80.06L368.5 81.77L369.83 83.43L371.16 85.06L372.49 86.63L373.82 88.17L375.15 89.68L376.48 91.2L377.81 92.73L379.14 94.33L380.47 95.98L381.8 97.61L383.13 99.18L384.46 100.65L385.79 102.01L387.12 103.31L388.45 104.56L389.78 105.77L391.11 106.96L392.44 108.11L393.77 109.22L395.11 110.29L396.44 111.34L397.77 112.36L399.1 113.35L400.43 114.33L401.76 115.29L403.09 116.24L404.42 117.17L405.75 118.09L407.08 118.97L408.41 119.82L409.74 120.65L411.07 121.47L412.4 122.27L413.73 123.06L415.06 123.85L416.39 124.64L417.72 125.42L419.05 126.21L420.38 127L421.71 127.79L423.04 128.59L424.37 129.4L425.7 130.22L427.03 131.05L428.36 131.88L429.69 132.73L431.02 133.57L432.35 134.41L433.68 135.26L435.01 136.09L436.34 136.92L437.67 137.74L439 138.55L440.33 139.35L441.67 140.14L443 140.91L444.33 141.67L445.66 142.42L446.99 143.15L448.32 143.86L449.65 144.56L450.98 145.24L452.31 145.9L453.64 146.55L454.97 147.18L456.3 147.8L457.63 148.4L458.96 148.98L460.29 149.56L461.62 150.13L462.95 150.69L464.28 151.24L465.61 151.78L466.94 152.31L468.27 152.84L469.6 153.35L470.93 153.86L472.26 154.36L473.59 154.85L474.92 155.33L476.25 155.8L477.58 156.26L478.91 156.72L480.24 157.17L481.57 157.61L482.9 158.04L484.23 158.46L485.56 158.87L486.89 159.28L488.23 159.68L489.56 160.08L490.89 160.46L492.22 160.84L493.55 161.21L494.88 161.58L496.21 161.95L497.54 162.31L498.87 162.66L500.2 163.01L501.53 163.35L502.86 163.69L504.19 164.02L505.52 164.34L506.85 164.66L508.18 164.97L509.51 165.28L510.84 165.58L512.17 165.88L513.5 166.17L514.83 166.46L516.16 166.74L517.49 167.01L518.82 167.28L520.15 167.55L521.48 167.81L522.81 168.06L524.14 168.31L525.47 168.55L526.8 168.79L528.13 169.03L529.46 169.25L530.79 169.48L532.12 169.7L533.45 169.92L534.79 170.13L536.12 170.34L537.45 170.54L538.78 170.74L540.11 170.94L541.44 171.14L542.77 171.33L544.1 171.53L545.43 171.72L546.76 171.9L548.09 172.09L549.42 172.27L550.75 172.45L552.08 172.63L553.41 172.81L554.74 172.98L556.07 173.15L557.4 173.33" fill="none" stroke="#0000ff" stroke-width="0.95" stroke-dasharray="3.8 4" stroke-linejoin="round"/>
<path d="M331.25 -10.79L332.58 -8.78L333.91 -6.39L335.24 -3.95L336.57 -1.6L337.9 0.6L339.23 2.8L340.56 5.11L341.89 7.44L343.22 9.75L344.55 12L345.88 14.27L347.21 16.6L348.55 18.93L349.88 21.21L351.21 23.42L352.54 25.56L353.87 27.68L355.2 29.78L356.53 31.87L357.86 33.96L359.19 36.08L360.52 38.23L361.85 40.37L363.18 42.48L364.51 44.52L365.84 46.52L367.17 48.5L368.5 50.44L369.83 52.35L371.16 54.21L372.49 56.01L373.82 57.76L375.15 59.5L376.48 61.24L377.81 63L379.14 64.84L380.47 66.73L381.8 68.61L383.13 70.43L384.46 72.12L385.79 73.7L387.12 75.21L388.45 76.66L389.78 78.06L391.11 79.44L392.44 80.78L393.77 82.07L395.11 83.32L396.44 84.54L397.77 85.73L399.1 86.89L400.43 88.03L401.76 89.16L403.09 90.27L404.42 91.37L405.75 92.44L407.08 93.47L408.41 94.48L409.74 95.46L411.07 96.42L412.4 97.37L413.73 98.31L415.06 99.24L416.39 100.17L417.72 101.1L419.05 102.03L420.38 102.97L421.71 103.91L423.04 104.87L424.37 105.83L425.7 106.8L427.03 107.79L428.36 108.79L429.69 109.8L431.02 110.81L432.35 111.83L433.68 112.84L435.01 113.84L436.34 114.84L437.67 115.83L439 116.81L440.33 117.78L441.67 118.73L443 119.67L444.33 120.6L445.66 121.51L446.99 122.4L448.32 123.27L449.65 124.12L450.98 124.96L452.31 125.77L453.64 126.57L454.97 127.35L456.3 128.11L457.63 128.85L458.96 129.57L460.29 130.29L461.62 130.99L462.95 131.69L464.28 132.37L465.61 133.05L466.94 133.71L468.27 134.37L469.6 135.02L470.93 135.65L472.26 136.28L473.59 136.89L474.92 137.5L476.25 138.09L477.58 138.68L478.91 139.26L480.24 139.83L481.57 140.38L482.9 140.93L484.23 141.47L485.56 142L486.89 142.53L488.23 143.04L489.56 143.54L490.89 144.04L492.22 144.53L493.55 145.01L494.88 145.49L496.21 145.96L497.54 146.43L498.87 146.88L500.2 147.34L501.53 147.78L502.86 148.22L504.19 148.66L505.52 149.08L506.85 149.5L508.18 149.92L509.51 150.32L510.84 150.72L512.17 151.12L513.5 151.5L514.83 151.88L516.16 152.26L517.49 152.62L518.82 152.98L520.15 153.34L521.48 153.68L522.81 154.03L524.14 154.36L525.47 154.69L526.8 155.01L528.13 155.33L529.46 155.64L530.79 155.94L532.12 156.24L533.45 156.54L534.79 156.83L536.12 157.11L537.45 157.39L538.78 157.67L540.11 157.95L541.44 158.22L542.77 158.49L544.1 158.75L545.43 159.01L546.76 159.27L548.09 159.53L549.42 159.78L550.75 160.04L552.08 160.29L553.41 160.54L554.74 160.78L556.07 161.03L557.4 161.27" fill="none" stroke="#0000ff" stroke-width="0.95" stroke-dasharray="3.8 4" stroke-linejoin="round"/>
</g>
<rect x="479.25" y="7.4" width="72.45" height="39.95" fill="#fff" stroke="#000" stroke-width="1"/>
<circle cx="498.3" cy="15.55" r="1.95" fill="none" stroke="#000" stroke-width="1"/>
<text x="515.5" y="19.15" font-size="10.6">Data</text>
<path d="M484.2 27.4H512.8" stroke="#ff0000" stroke-width="1"/>
<text x="515.5" y="31" font-size="10.6">(3,Yes)</text>
<path d="M484.2 39.2H512.8" stroke="#0000ff" stroke-width="1"/>
<text x="515.5" y="42.8" font-size="10.6">(3,No)</text>
<clipPath id="cb0"><rect x="36.06" y="228.06" width="236.64" height="184.79"/></clipPath>
<rect x="36.66" y="228.66" width="232.84" height="183.59" fill="none" stroke="#000" stroke-width="1.15"/>
<path d="M36.66 412.25v-2.5M36.66 228.66v2.6M82.5 412.25v-2.5M82.5 228.66v2.6M129.5 412.25v-2.5M129.5 228.66v2.6M175.5 412.25v-2.5M175.5 228.66v2.6M222.5 412.25v-2.5M222.5 228.66v2.6M269.5 412.25v-2.5M269.5 228.66v2.6" stroke="#000" stroke-width="1"/>
<text x="36.46" y="424.35" font-size="10.6" text-anchor="middle">0</text>
<text x="83.03" y="424.35" font-size="10.6" text-anchor="middle">20</text>
<text x="129.6" y="424.35" font-size="10.6" text-anchor="middle">40</text>
<text x="176.16" y="424.35" font-size="10.6" text-anchor="middle">60</text>
<text x="222.73" y="424.35" font-size="10.6" text-anchor="middle">80</text>
<text x="269.3" y="424.35" font-size="10.6" text-anchor="middle">100</text>
<path d="M36.66 413.2h2.4M269.5 413.2h-3.4M36.66 351.7h2.4M269.5 351.7h-3.4M36.66 290.2h2.4M269.5 290.2h-3.4M36.66 228.7h2.4M269.5 228.7h-3.4" stroke="#000" stroke-width="1"/>
<path d="M36.66 394.69h1.6M269.5 394.69h-2.3M36.66 383.86h1.6M269.5 383.86h-2.3M36.66 376.17h1.6M269.5 376.17h-2.3M36.66 370.21h1.6M269.5 370.21h-2.3M36.66 365.34h1.6M269.5 365.34h-2.3M36.66 361.23h1.6M269.5 361.23h-2.3M36.66 357.66h1.6M269.5 357.66h-2.3M36.66 354.51h1.6M269.5 354.51h-2.3M36.66 333.19h1.6M269.5 333.19h-2.3M36.66 322.36h1.6M269.5 322.36h-2.3M36.66 314.67h1.6M269.5 314.67h-2.3M36.66 308.71h1.6M269.5 308.71h-2.3M36.66 303.84h1.6M269.5 303.84h-2.3M36.66 299.73h1.6M269.5 299.73h-2.3M36.66 296.16h1.6M269.5 296.16h-2.3M36.66 293.01h1.6M269.5 293.01h-2.3M36.66 271.69h1.6M269.5 271.69h-2.3M36.66 260.86h1.6M269.5 260.86h-2.3M36.66 253.17h1.6M269.5 253.17h-2.3M36.66 247.21h1.6M269.5 247.21h-2.3M36.66 242.34h1.6M269.5 242.34h-2.3M36.66 238.23h1.6M269.5 238.23h-2.3M36.66 234.66h1.6M269.5 234.66h-2.3M36.66 231.51h1.6M269.5 231.51h-2.3" stroke="#000" stroke-width="1"/>
<text x="16.31" y="416.9" font-size="10.6">10</text>
<rect x="26.31" y="407.5" width="4.8" height="1.3" fill="#000"/>
<text x="30.91" y="410.4" font-size="7.3" style="text-rendering:geometricPrecision">4</text>
<text x="16.31" y="355.7" font-size="10.6">10</text>
<rect x="26.31" y="346.3" width="4.8" height="1.3" fill="#000"/>
<text x="30.91" y="349.2" font-size="7.3" style="text-rendering:geometricPrecision">3</text>
<text x="16.31" y="293.75" font-size="10.6">10</text>
<rect x="26.31" y="284.35" width="4.8" height="1.3" fill="#000"/>
<text x="30.91" y="287.25" font-size="7.3" style="text-rendering:geometricPrecision">2</text>
<text x="16.31" y="231.7" font-size="10.6">10</text>
<rect x="26.31" y="222.3" width="4.8" height="1.3" fill="#000"/>
<text x="30.91" y="225.2" font-size="7.3" style="text-rendering:geometricPrecision">1</text>
<text x="152.58" y="436.25" font-size="10.6" text-anchor="middle">Number of Contacts</text>
<text transform="translate(7.96 321.45) rotate(-90)" font-size="10.6" text-anchor="middle">Frequency</text>
<g clip-path="url(#cb0)">
<path d="M38.5 242.15V248.14M40.5 251.68V258.93M43.5 248.68V255.5M45.5 244.64V250.94M47.5 243.37V249.5M50.5 244.37V250.62M52.5 245.69V252.12M54.5 247.61V254.28M57.5 247.92V254.64M59.5 246.99V253.58M61.5 252.43V259.78M64.5 258.84V267.21M66.5 259.33V267.79M68.5 259.83V268.37M71.5 259V267.4M73.5 263.05V272.18M75.5 267.86V277.94M78.5 268.09V278.22M80.5 274.97V286.68M82.5 271.04V281.81M85.5 286.78V301.9M87.5 282.34V296.05M89.5 280.38V293.53M92.5 286.78V301.9M94.5 281.14V294.51M96.5 289.88V306.08M99.5 286.78V301.9M101.5 291.59V308.43M103.5 292.8V310.11M106.5 285.83V300.63M108.5 297.56V316.88M110.5 296.11V314.78M113.5 305.47V328.83M115.5 295.41V313.78M117.5 294.07V311.89M120.5 298.33V317.99M122.5 296.11V314.78M124.5 299.93V320.35M127.5 303.48V325.73M129.5 310.02V336.24M131.5 302.54V324.29M134.5 305.47V328.83M136.5 301.64V322.91M138.5 306.53V330.52M141.5 319.03V352.62M143.5 312.66V340.77M145.5 310.02V336.24M148.5 330.63V380.18M150.5 319.03V352.62M152.5 307.64V332.31M155.5 310.02V336.24M157.5 319.03V352.62M159.5 319.03V352.62M161.5 320.94V356.48M164.5 310.02V336.24M166.5 317.27V349.19M168.5 314.1V343.33M171.5 315.64V346.12M173.5 314.1V343.33M175.5 330.63V380.18M178.5 312.66V340.77M180.5 312.66V340.77M182.5 325.28V366.08M185.5 342.16V397.23M187.5 314.1V343.33M189.5 327.8V372.32M192.5 315.64V346.12M194.5 337.63V397.23M196.5 333.86V390.8M199.5 320.94V356.48M201.5 333.86V390.8M203.5 337.63V397.23M206.5 342.16V397.23M208.5 327.8V372.32M217.5 319.03V352.62M220.5 327.8V372.32M222.5 333.86V390.8M224.5 337.63V397.23M227.5 337.63V397.23M229.5 333.86V390.8M231.5 325.28V366.08M234.5 323.01V360.9M236.5 342.16V397.23M250.5 342.16V397.23M255.5 342.16V397.23M257.5 337.63V397.23" stroke="#000" stroke-width="1"/>
<g fill="none" stroke="#000" stroke-width="1">
<circle cx="38.5" cy="244.98" r="1.95"/>
<circle cx="40.5" cy="255.06" r="1.95"/>
<circle cx="43.5" cy="251.87" r="1.95"/>
<circle cx="45.5" cy="247.6" r="1.95"/>
<circle cx="47.5" cy="246.26" r="1.95"/>
<circle cx="50.5" cy="247.31" r="1.95"/>
<circle cx="52.5" cy="248.71" r="1.95"/>
<circle cx="54.5" cy="250.74" r="1.95"/>
<circle cx="57.5" cy="251.07" r="1.95"/>
<circle cx="59.5" cy="250.08" r="1.95"/>
<circle cx="61.5" cy="255.85" r="1.95"/>
<circle cx="64.5" cy="262.7" r="1.95"/>
<circle cx="66.5" cy="263.23" r="1.95"/>
<circle cx="68.5" cy="263.76" r="1.95"/>
<circle cx="71.5" cy="262.87" r="1.95"/>
<circle cx="73.5" cy="267.22" r="1.95"/>
<circle cx="75.5" cy="272.43" r="1.95"/>
<circle cx="78.5" cy="272.68" r="1.95"/>
<circle cx="80.5" cy="280.19" r="1.95"/>
<circle cx="82.5" cy="275.88" r="1.95"/>
<circle cx="85.5" cy="293.29" r="1.95"/>
<circle cx="87.5" cy="288.32" r="1.95"/>
<circle cx="89.5" cy="286.15" r="1.95"/>
<circle cx="92.5" cy="293.29" r="1.95"/>
<circle cx="94.5" cy="287" r="1.95"/>
<circle cx="96.5" cy="296.77" r="1.95"/>
<circle cx="99.5" cy="293.29" r="1.95"/>
<circle cx="101.5" cy="298.71" r="1.95"/>
<circle cx="103.5" cy="300.08" r="1.95"/>
<circle cx="106.5" cy="292.22" r="1.95"/>
<circle cx="108.5" cy="305.51" r="1.95"/>
<circle cx="110.5" cy="303.84" r="1.95"/>
<circle cx="113.5" cy="314.67" r="1.95"/>
<circle cx="115.5" cy="303.05" r="1.95"/>
<circle cx="117.5" cy="301.52" r="1.95"/>
<circle cx="120.5" cy="306.39" r="1.95"/>
<circle cx="122.5" cy="303.84" r="1.95"/>
<circle cx="124.5" cy="308.23" r="1.95"/>
<circle cx="127.5" cy="312.35" r="1.95"/>
<circle cx="129.5" cy="320.03" r="1.95"/>
<circle cx="131.5" cy="311.26" r="1.95"/>
<circle cx="134.5" cy="314.67" r="1.95"/>
<circle cx="136.5" cy="310.21" r="1.95"/>
<circle cx="138.5" cy="315.92" r="1.95"/>
<circle cx="141.5" cy="330.86" r="1.95"/>
<circle cx="143.5" cy="323.18" r="1.95"/>
<circle cx="145.5" cy="320.03" r="1.95"/>
<circle cx="148.5" cy="345.26" r="1.95"/>
<circle cx="150.5" cy="330.86" r="1.95"/>
<circle cx="152.5" cy="317.22" r="1.95"/>
<circle cx="155.5" cy="320.03" r="1.95"/>
<circle cx="157.5" cy="330.86" r="1.95"/>
<circle cx="159.5" cy="330.86" r="1.95"/>
<circle cx="161.5" cy="333.19" r="1.95"/>
<circle cx="164.5" cy="320.03" r="1.95"/>
<circle cx="166.5" cy="328.72" r="1.95"/>
<circle cx="168.5" cy="324.9" r="1.95"/>
<circle cx="171.5" cy="326.75" r="1.95"/>
<circle cx="173.5" cy="324.9" r="1.95"/>
<circle cx="175.5" cy="345.26" r="1.95"/>
<circle cx="178.5" cy="323.18" r="1.95"/>
<circle cx="180.5" cy="323.18" r="1.95"/>
<circle cx="182.5" cy="338.55" r="1.95"/>
<circle cx="185.5" cy="360.21" r="1.95"/>
<circle cx="187.5" cy="324.9" r="1.95"/>
<circle cx="189.5" cy="341.69" r="1.95"/>
<circle cx="192.5" cy="326.75" r="1.95"/>
<circle cx="194.5" cy="354.25" r="1.95"/>
<circle cx="196.5" cy="349.38" r="1.95"/>
<circle cx="199.5" cy="333.19" r="1.95"/>
<circle cx="201.5" cy="349.38" r="1.95"/>
<circle cx="203.5" cy="354.25" r="1.95"/>
<circle cx="206.5" cy="360.21" r="1.95"/>
<circle cx="208.5" cy="341.69" r="1.95"/>
<circle cx="210.5" cy="367.89" r="1.95"/>
<circle cx="213.5" cy="367.89" r="1.95"/>
<circle cx="215.5" cy="367.89" r="1.95"/>
<circle cx="217.5" cy="330.86" r="1.95"/>
<circle cx="220.5" cy="341.69" r="1.95"/>
<circle cx="222.5" cy="349.38" r="1.95"/>
<circle cx="224.5" cy="354.25" r="1.95"/>
<circle cx="227.5" cy="354.25" r="1.95"/>
<circle cx="229.5" cy="349.38" r="1.95"/>
<circle cx="231.5" cy="338.55" r="1.95"/>
<circle cx="234.5" cy="335.73" r="1.95"/>
<circle cx="236.5" cy="360.21" r="1.95"/>
<circle cx="238.5" cy="397.23" r="1.95"/>
<circle cx="241.5" cy="378.72" r="1.95"/>
<circle cx="243.5" cy="378.72" r="1.95"/>
<circle cx="245.5" cy="378.72" r="1.95"/>
<circle cx="248.5" cy="397.23" r="1.95"/>
<circle cx="250.5" cy="360.21" r="1.95"/>
<circle cx="252.5" cy="378.72" r="1.95"/>
<circle cx="255.5" cy="360.21" r="1.95"/>
<circle cx="257.5" cy="354.25" r="1.95"/>
<circle cx="259.5" cy="367.89" r="1.95"/>
<circle cx="262.5" cy="367.89" r="1.95"/>
<circle cx="264.5" cy="397.23" r="1.95"/>
<circle cx="266.5" cy="378.72" r="1.95"/>
<circle cx="269.5" cy="397.23" r="1.95"/>
</g>
<path d="M38.99 244.91L40.15 249.47L41.32 254.97L42.48 252.64L43.65 250.51L44.81 248.8L45.97 247.7L47.14 247.16L48.3 246.95L49.47 247.07L50.63 247.32L51.79 247.78L52.96 248.42L54.12 249.17L55.29 250.03L56.45 250.93L57.62 251.87L58.78 252.83L59.94 253.85L61.11 254.93L62.27 256.04L63.44 257.18L64.6 258.31L65.77 259.44L66.93 260.55L68.09 261.68L69.26 262.82L70.42 263.99L71.59 265.2L72.75 266.45L73.91 267.75L75.08 269.09L76.24 270.44L77.41 271.81L78.57 273.17L79.74 274.53L80.9 275.87L82.06 277.2L83.23 278.49L84.39 279.81L85.56 281.16L86.72 282.53L87.88 283.89L89.05 285.24L90.21 286.56L91.38 287.83L92.54 289.05L93.71 290.21L94.87 291.29L96.03 292.31L97.2 293.29L98.36 294.23L99.53 295.14L100.69 296.02L101.86 296.87L103.02 297.71L104.18 298.52L105.35 299.32L106.51 300.11L107.68 300.88L108.84 301.63L110 302.35L111.17 303.06L112.33 303.76L113.5 304.45L114.66 305.13L115.83 305.81L116.99 306.48L118.15 307.16L119.32 307.83L120.48 308.51L121.65 309.18L122.81 309.84L123.97 310.5L125.14 311.16L126.3 311.8L127.47 312.44L128.63 313.07L129.8 313.69L130.96 314.3L132.12 314.9L133.29 315.5L134.45 316.08L135.62 316.66L136.78 317.24L137.95 317.8L139.11 318.37L140.27 318.92L141.44 319.47L142.6 320.01L143.77 320.55L144.93 321.09L146.09 321.61L147.26 322.14L148.42 322.65L149.59 323.17L150.75 323.68L151.92 324.18L153.08 324.68L154.24 325.18L155.41 325.67L156.57 326.15L157.74 326.63L158.9 327.11L160.07 327.58L161.23 328.04L162.39 328.51L163.56 328.97L164.72 329.42L165.89 329.88L167.05 330.33L168.21 330.78L169.38 331.22L170.54 331.67L171.71 332.11L172.87 332.55L174.04 332.99L175.2 333.43L176.36 333.86L177.53 334.3L178.69 334.73L179.86 335.17L181.02 335.6L182.19 336.03L183.35 336.45L184.51 336.88L185.68 337.3L186.84 337.72L188.01 338.14L189.17 338.56L190.33 338.98L191.5 339.39L192.66 339.8L193.83 340.21L194.99 340.62L196.16 341.03L197.32 341.43L198.48 341.83L199.65 342.23L200.81 342.62L201.98 343.01L203.14 343.4L204.3 343.79L205.47 344.18L206.63 344.56L207.8 344.94L208.96 345.32L210.13 345.69L211.29 346.07L212.45 346.44L213.62 346.8L214.78 347.17L215.95 347.53L217.11 347.89L218.28 348.24L219.44 348.6L220.6 348.95L221.77 349.3L222.93 349.64L224.1 349.99L225.26 350.33L226.42 350.67L227.59 351.01L228.75 351.34L229.92 351.68L231.08 352.01L232.25 352.34L233.41 352.66L234.57 352.99L235.74 353.31L236.9 353.64L238.07 353.96L239.23 354.28L240.4 354.59L241.56 354.91L242.72 355.22L243.89 355.53L245.05 355.84L246.22 356.15L247.38 356.46L248.54 356.77L249.71 357.07L250.87 357.37L252.04 357.67L253.2 357.97L254.37 358.27L255.53 358.56L256.69 358.86L257.86 359.15L259.02 359.44L260.19 359.73L261.35 360.02L262.51 360.31L263.68 360.59L264.84 360.88L266.01 361.16L267.17 361.44L268.34 361.72L269.5 362" fill="none" stroke="#ff0000" stroke-width="1.0" stroke-linejoin="round"/>
<path d="M38.99 248.19L40.15 253.06L41.32 258.98L42.48 256.47L43.65 254.17L44.81 252.34L45.97 251.16L47.14 250.59L48.3 250.36L49.47 250.49L50.63 250.76L51.79 251.25L52.96 251.93L54.12 252.74L55.29 253.66L56.45 254.62L57.62 255.64L58.78 256.68L59.94 257.77L61.11 258.93L62.27 260.14L63.44 261.37L64.6 262.6L65.77 263.83L66.93 265.05L68.09 266.28L69.26 267.53L70.42 268.81L71.59 270.14L72.75 271.52L73.91 272.96L75.08 274.44L76.24 275.95L77.41 277.47L78.57 279L79.74 280.53L80.9 282.04L82.06 283.54L83.23 285.02L84.39 286.51L85.56 288.06L86.72 289.63L87.88 291.21L89.05 292.77L90.21 294.31L91.38 295.8L92.54 296.77L93.71 298.05L94.87 299.38L96.03 300.79L97.2 301.52L98.36 303.05L99.53 303.84L100.69 304.67L101.86 305.51L103.02 307.29L104.18 308.23L105.35 309.2L106.51 310.21L107.68 311.26L108.84 311.26L110 312.35L111.17 313.49L112.33 314.67L113.5 314.67L114.66 315.92L115.83 317.22L116.99 317.22L118.15 318.59L119.32 320.03L120.48 320.03L121.65 321.56L122.81 321.56L123.97 323.18L125.14 323.18L126.3 324.9L127.47 324.9L128.63 326.75L129.8 326.75L130.96 326.75L132.12 328.72L133.29 328.72L134.45 330.86L135.62 330.86L136.78 330.86L137.95 333.19L139.11 333.19L140.27 333.19L141.44 335.73L142.6 335.73L143.77 335.73L144.93 335.73L146.09 338.55L147.26 338.55L148.42 338.55L149.59 338.55L150.75 341.69L151.92 341.69L153.08 341.69L154.24 341.69L155.41 341.69L156.57 345.26L157.74 345.26L158.9 345.26L160.07 345.26L161.23 345.26L162.39 345.26L163.56 349.38L164.72 349.38L165.89 349.38L167.05 349.38L168.21 349.38L169.38 349.38L170.54 354.25L171.71 354.25L172.87 354.25L174.04 354.25L175.2 354.25L176.36 354.25L177.53 354.25L178.69 354.25L179.86 360.21L181.02 360.21L182.19 360.21L183.35 360.21L184.51 360.21L185.68 360.21L186.84 360.21L188.01 360.21L189.17 360.21L190.33 360.21L191.5 367.89L192.66 367.89L193.83 367.89L194.99 367.89L196.16 367.89L197.32 367.89L198.48 367.89L199.65 367.89L200.81 367.89L201.98 367.89L203.14 367.89L204.3 367.89L205.47 367.89L206.63 378.72L207.8 378.72L208.96 378.72L210.13 378.72L211.29 378.72L212.45 378.72L213.62 378.72L214.78 378.72L215.95 378.72L217.11 378.72L218.28 378.72L219.44 378.72L220.6 378.72L221.77 378.72L222.93 378.72L224.1 378.72L225.26 378.72L226.42 378.72L227.59 378.72L228.75 378.72L229.92 397.23L231.08 397.23L232.25 397.23L233.41 397.23L234.57 397.23L235.74 397.23L236.9 397.23L238.07 397.23L239.23 397.23L240.4 397.23L241.56 397.23L242.72 397.23L243.89 397.23L245.05 397.23L246.22 397.23L247.38 397.23L248.54 397.23L249.71 397.23L250.87 397.23L252.04 397.23L253.2 397.23L254.37 397.23L255.53 397.23L256.69 397.23L257.86 397.23L259.02 397.23L260.19 397.23L261.35 397.23L262.51 397.23L263.68 397.23L264.84 397.23L266.01 397.23L267.17 397.23L268.34 397.23L269.5 397.23" fill="none" stroke="#ff0000" stroke-width="0.95" stroke-dasharray="3.8 4" stroke-linejoin="round"/>
<path d="M38.99 241.99L40.15 246.3L41.32 251.48L42.48 249.3L43.65 247.28L44.81 245.67L45.97 244.63L47.14 244.12L48.3 243.92L49.47 244.04L50.63 244.27L51.79 244.71L52.96 245.31L54.12 246.02L55.29 246.83L56.45 247.68L57.62 248.57L58.78 249.48L59.94 250.43L61.11 251.44L62.27 252.49L63.44 253.55L64.6 254.61L65.77 255.67L66.93 256.71L68.09 257.76L69.26 258.82L70.42 259.91L71.59 261.03L72.75 262.19L73.91 263.4L75.08 264.63L76.24 265.88L77.41 267.14L78.57 268.39L79.74 269.63L80.9 270.86L82.06 272.07L83.23 273.26L84.39 274.45L85.56 275.68L86.72 276.92L87.88 278.15L89.05 279.37L90.21 280.56L91.38 281.7L92.54 282.64L93.71 283.76L94.87 284.93L96.03 285.74L97.2 286.57L98.36 287.43L99.53 288.32L100.69 288.78L101.86 289.72L103.02 290.2L104.18 291.19L105.35 291.7L106.51 292.75L107.68 293.29L108.84 293.84L110 294.4L111.17 294.97L112.33 295.56L113.5 296.16L114.66 296.77L115.83 297.4L116.99 298.05L118.15 298.71L119.32 299.38L120.48 300.08L121.65 300.08L122.81 300.79L123.97 301.52L125.14 302.27L126.3 302.27L127.47 303.05L128.63 303.84L129.8 303.84L130.96 304.67L132.12 305.51L133.29 305.51L134.45 306.39L135.62 306.39L136.78 307.29L137.95 307.29L139.11 308.23L140.27 308.23L141.44 309.2L142.6 309.2L143.77 310.21L144.93 310.21L146.09 311.26L147.26 311.26L148.42 311.26L149.59 312.35L150.75 312.35L151.92 312.35L153.08 313.49L154.24 313.49L155.41 314.67L156.57 314.67L157.74 314.67L158.9 314.67L160.07 315.92L161.23 315.92L162.39 315.92L163.56 317.22L164.72 317.22L165.89 317.22L167.05 317.22L168.21 318.59L169.38 318.59L170.54 318.59L171.71 318.59L172.87 320.03L174.04 320.03L175.2 320.03L176.36 320.03L177.53 321.56L178.69 321.56L179.86 321.56L181.02 321.56L182.19 323.18L183.35 323.18L184.51 323.18L185.68 323.18L186.84 323.18L188.01 324.9L189.17 324.9L190.33 324.9L191.5 324.9L192.66 324.9L193.83 324.9L194.99 326.75L196.16 326.75L197.32 326.75L198.48 326.75L199.65 326.75L200.81 326.75L201.98 328.72L203.14 328.72L204.3 328.72L205.47 328.72L206.63 328.72L207.8 328.72L208.96 328.72L210.13 330.86L211.29 330.86L212.45 330.86L213.62 330.86L214.78 330.86L215.95 330.86L217.11 330.86L218.28 330.86L219.44 333.19L220.6 333.19L221.77 333.19L222.93 333.19L224.1 333.19L225.26 333.19L226.42 333.19L227.59 333.19L228.75 333.19L229.92 333.19L231.08 335.73L232.25 335.73L233.41 335.73L234.57 335.73L235.74 335.73L236.9 335.73L238.07 335.73L239.23 335.73L240.4 335.73L241.56 335.73L242.72 335.73L243.89 338.55L245.05 338.55L246.22 338.55L247.38 338.55L248.54 338.55L249.71 338.55L250.87 338.55L252.04 338.55L253.2 338.55L254.37 338.55L255.53 338.55L256.69 338.55L257.86 338.55L259.02 338.55L260.19 341.69L261.35 341.69L262.51 341.69L263.68 341.69L264.84 341.69L266.01 341.69L267.17 341.69L268.34 341.69L269.5 341.69" fill="none" stroke="#ff0000" stroke-width="0.95" stroke-dasharray="3.8 4" stroke-linejoin="round"/>
<path d="M38.99 244.86L40.15 248.14L41.32 251.87L42.48 250.69L43.65 249.56L44.81 248.73L45.97 248.19L47.14 247.92L48.3 247.81L49.47 247.93L50.63 248.19L51.79 248.64L52.96 249.27L54.12 250.01L55.29 250.87L56.45 251.83L57.62 252.84L58.78 253.83L59.94 254.83L61.11 255.81L62.27 256.79L63.44 257.78L64.6 258.8L65.77 259.85L66.93 260.91L68.09 262L69.26 263.11L70.42 264.24L71.59 265.41L72.75 266.62L73.91 267.87L75.08 269.16L76.24 270.48L77.41 271.8L78.57 273.13L79.74 274.45L80.9 275.76L82.06 277.05L83.23 278.32L84.39 279.61L85.56 280.95L86.72 282.3L87.88 283.66L89.05 285L90.21 286.31L91.38 287.58L92.54 288.79L93.71 289.94L94.87 291.01L96.03 292.03L97.2 292.99L98.36 293.92L99.53 294.82L100.69 295.69L101.86 296.53L103.02 297.36L104.18 298.16L105.35 298.95L106.51 299.73L107.68 300.48L108.84 301.22L110 301.94L111.17 302.63L112.33 303.32L113.5 304L114.66 304.67L115.83 305.33L116.99 306L118.15 306.66L119.32 307.32L120.48 307.98L121.65 308.64L122.81 309.29L123.97 309.94L125.14 310.58L126.3 311.21L127.47 311.84L128.63 312.45L129.8 313.05L130.96 313.65L132.12 314.24L133.29 314.81L134.45 315.39L135.62 315.95L136.78 316.51L137.95 317.06L139.11 317.61L140.27 318.15L141.44 318.68L142.6 319.21L143.77 319.73L144.93 320.25L146.09 320.76L147.26 321.27L148.42 321.77L149.59 322.27L150.75 322.76L151.92 323.24L153.08 323.73L154.24 324.2L155.41 324.68L156.57 325.14L157.74 325.61L158.9 326.06L160.07 326.52L161.23 326.97L162.39 327.41L163.56 327.85L164.72 328.29L165.89 328.73L167.05 329.16L168.21 329.59L169.38 330.01L170.54 330.44L171.71 330.86L172.87 331.28L174.04 331.7L175.2 332.11L176.36 332.53L177.53 332.94L178.69 333.35L179.86 333.75L181.02 334.16L182.19 334.56L183.35 334.96L184.51 335.35L185.68 335.75L186.84 336.14L188.01 336.53L189.17 336.91L190.33 337.3L191.5 337.68L192.66 338.06L193.83 338.43L194.99 338.81L196.16 339.18L197.32 339.55L198.48 339.92L199.65 340.29L200.81 340.65L201.98 341.02L203.14 341.38L204.3 341.74L205.47 342.1L206.63 342.45L207.8 342.81L208.96 343.16L210.13 343.51L211.29 343.86L212.45 344.21L213.62 344.56L214.78 344.9L215.95 345.25L217.11 345.59L218.28 345.93L219.44 346.27L220.6 346.61L221.77 346.94L222.93 347.28L224.1 347.61L225.26 347.95L226.42 348.28L227.59 348.61L228.75 348.94L229.92 349.27L231.08 349.59L232.25 349.92L233.41 350.24L234.57 350.57L235.74 350.89L236.9 351.21L238.07 351.53L239.23 351.85L240.4 352.17L241.56 352.48L242.72 352.8L243.89 353.11L245.05 353.43L246.22 353.74L247.38 354.05L248.54 354.36L249.71 354.67L250.87 354.98L252.04 355.28L253.2 355.59L254.37 355.89L255.53 356.19L256.69 356.5L257.86 356.8L259.02 357.1L260.19 357.39L261.35 357.69L262.51 357.99L263.68 358.28L264.84 358.58L266.01 358.87L267.17 359.16L268.34 359.45L269.5 359.74" fill="none" stroke="#0000ff" stroke-width="1.0" stroke-linejoin="round"/>
<path d="M38.99 248.14L40.15 251.63L41.32 255.64L42.48 254.37L43.65 253.15L44.81 252.26L45.97 251.69L47.14 251.4L48.3 251.28L49.47 251.42L50.63 251.69L51.79 252.18L52.96 252.84L54.12 253.64L55.29 254.57L56.45 255.6L57.62 256.68L58.78 257.75L59.94 258.83L61.11 259.89L62.27 260.95L63.44 262.03L64.6 263.14L65.77 264.28L66.93 265.44L68.09 266.63L69.26 267.84L70.42 269.09L71.59 270.37L72.75 271.7L73.91 273.09L75.08 274.53L76.24 275.99L77.41 277.46L78.57 278.95L79.74 280.43L80.9 281.91L82.06 283.37L83.23 284.82L84.39 286.29L85.56 287.82L86.72 289.38L87.88 290.94L89.05 292.5L90.21 294.02L91.38 295.5L92.54 296.16L93.71 298.05L94.87 298.71L96.03 300.08L97.2 301.52L98.36 302.27L99.53 303.84L100.69 304.67L101.86 305.51L103.02 306.39L104.18 307.29L105.35 308.23L106.51 309.2L107.68 310.21L108.84 311.26L110 312.35L111.17 312.35L112.33 313.49L113.5 314.67L114.66 315.92L115.83 315.92L116.99 317.22L118.15 317.22L119.32 318.59L120.48 320.03L121.65 320.03L122.81 321.56L123.97 321.56L125.14 323.18L126.3 323.18L127.47 324.9L128.63 324.9L129.8 326.75L130.96 326.75L132.12 326.75L133.29 328.72L134.45 328.72L135.62 328.72L136.78 330.86L137.95 330.86L139.11 330.86L140.27 333.19L141.44 333.19L142.6 333.19L143.77 335.73L144.93 335.73L146.09 335.73L147.26 335.73L148.42 338.55L149.59 338.55L150.75 338.55L151.92 338.55L153.08 341.69L154.24 341.69L155.41 341.69L156.57 341.69L157.74 341.69L158.9 345.26L160.07 345.26L161.23 345.26L162.39 345.26L163.56 345.26L164.72 345.26L165.89 349.38L167.05 349.38L168.21 349.38L169.38 349.38L170.54 349.38L171.71 349.38L172.87 349.38L174.04 354.25L175.2 354.25L176.36 354.25L177.53 354.25L178.69 354.25L179.86 354.25L181.02 354.25L182.19 354.25L183.35 354.25L184.51 360.21L185.68 360.21L186.84 360.21L188.01 360.21L189.17 360.21L190.33 360.21L191.5 360.21L192.66 360.21L193.83 360.21L194.99 360.21L196.16 360.21L197.32 367.89L198.48 367.89L199.65 367.89L200.81 367.89L201.98 367.89L203.14 367.89L204.3 367.89L205.47 367.89L206.63 367.89L207.8 367.89L208.96 367.89L210.13 367.89L211.29 367.89L212.45 367.89L213.62 378.72L214.78 378.72L215.95 378.72L217.11 378.72L218.28 378.72L219.44 378.72L220.6 378.72L221.77 378.72L222.93 378.72L224.1 378.72L225.26 378.72L226.42 378.72L227.59 378.72L228.75 378.72L229.92 378.72L231.08 378.72L232.25 378.72L233.41 378.72L234.57 378.72L235.74 378.72L236.9 378.72L238.07 397.23L239.23 397.23L240.4 397.23L241.56 397.23L242.72 397.23L243.89 397.23L245.05 397.23L246.22 397.23L247.38 397.23L248.54 397.23L249.71 397.23L250.87 397.23L252.04 397.23L253.2 397.23L254.37 397.23L255.53 397.23L256.69 397.23L257.86 397.23L259.02 397.23L260.19 397.23L261.35 397.23L262.51 397.23L263.68 397.23L264.84 397.23L266.01 397.23L267.17 397.23L268.34 397.23L269.5 397.23" fill="none" stroke="#0000ff" stroke-width="0.95" stroke-dasharray="3.8 4" stroke-linejoin="round"/>
<path d="M38.99 241.95L40.15 245.05L41.32 248.57L42.48 247.45L43.65 246.39L44.81 245.6L45.97 245.1L47.14 244.84L48.3 244.73L49.47 244.85L50.63 245.1L51.79 245.52L52.96 246.11L54.12 246.82L55.29 247.63L56.45 248.53L57.62 249.48L58.78 250.41L59.94 251.35L61.11 252.28L62.27 253.19L63.44 254.12L64.6 255.07L65.77 256.05L66.93 257.04L68.09 258.06L69.26 259.09L70.42 260.14L71.59 261.23L72.75 262.35L73.91 263.51L75.08 264.7L76.24 265.91L77.41 267.13L78.57 268.35L79.74 269.56L80.9 270.76L82.06 271.94L83.23 273.1L84.39 274.28L85.56 275.49L86.72 276.72L87.88 277.94L89.05 279.16L90.21 280.34L91.38 281.47L92.54 282.64L93.71 283.38L94.87 284.53L96.03 285.33L97.2 286.15L98.36 287L99.53 287.88L100.69 288.78L101.86 289.25L103.02 290.2L104.18 290.69L105.35 291.7L106.51 292.22L107.68 292.75L108.84 293.29L110 293.84L111.17 294.97L112.33 295.56L113.5 296.16L114.66 296.16L115.83 296.77L116.99 297.4L118.15 298.05L119.32 298.71L120.48 299.38L121.65 300.08L122.81 300.08L123.97 300.79L125.14 301.52L126.3 302.27L127.47 302.27L128.63 303.05L129.8 303.84L130.96 303.84L132.12 304.67L133.29 305.51L134.45 305.51L135.62 306.39L136.78 306.39L137.95 307.29L139.11 307.29L140.27 308.23L141.44 308.23L142.6 309.2L143.77 309.2L144.93 309.2L146.09 310.21L147.26 310.21L148.42 311.26L149.59 311.26L150.75 311.26L151.92 312.35L153.08 312.35L154.24 312.35L155.41 313.49L156.57 313.49L157.74 313.49L158.9 314.67L160.07 314.67L161.23 314.67L162.39 315.92L163.56 315.92L164.72 315.92L165.89 315.92L167.05 317.22L168.21 317.22L169.38 317.22L170.54 318.59L171.71 318.59L172.87 318.59L174.04 318.59L175.2 318.59L176.36 320.03L177.53 320.03L178.69 320.03L179.86 320.03L181.02 321.56L182.19 321.56L183.35 321.56L184.51 321.56L185.68 321.56L186.84 323.18L188.01 323.18L189.17 323.18L190.33 323.18L191.5 323.18L192.66 323.18L193.83 324.9L194.99 324.9L196.16 324.9L197.32 324.9L198.48 324.9L199.65 324.9L200.81 326.75L201.98 326.75L203.14 326.75L204.3 326.75L205.47 326.75L206.63 326.75L207.8 326.75L208.96 328.72L210.13 328.72L211.29 328.72L212.45 328.72L213.62 328.72L214.78 328.72L215.95 328.72L217.11 330.86L218.28 330.86L219.44 330.86L220.6 330.86L221.77 330.86L222.93 330.86L224.1 330.86L225.26 330.86L226.42 330.86L227.59 333.19L228.75 333.19L229.92 333.19L231.08 333.19L232.25 333.19L233.41 333.19L234.57 333.19L235.74 333.19L236.9 333.19L238.07 333.19L239.23 335.73L240.4 335.73L241.56 335.73L242.72 335.73L243.89 335.73L245.05 335.73L246.22 335.73L247.38 335.73L248.54 335.73L249.71 335.73L250.87 335.73L252.04 335.73L253.2 338.55L254.37 338.55L255.53 338.55L256.69 338.55L257.86 338.55L259.02 338.55L260.19 338.55L261.35 338.55L262.51 338.55L263.68 338.55L264.84 338.55L266.01 338.55L267.17 338.55L268.34 341.69L269.5 341.69" fill="none" stroke="#0000ff" stroke-width="0.95" stroke-dasharray="3.8 4" stroke-linejoin="round"/>
</g>
<rect x="186.56" y="234.16" width="77" height="38.9" fill="#fff" stroke="#000" stroke-width="1"/>
<circle cx="207.24" cy="241.76" r="1.95" fill="none" stroke="#000" stroke-width="1"/>
<text x="225.36" y="245.36" font-size="10.6">Data</text>
<path d="M192.06 253.26H222.81" stroke="#ff0000" stroke-width="1"/>
<text x="225.36" y="256.86" font-size="10.6">(5,Yes)</text>
<path d="M192.06 265.26H222.81" stroke="#0000ff" stroke-width="1"/>
<text x="225.36" y="268.86" font-size="10.6">(5,No)</text>
<clipPath id="cb1"><rect x="324" y="228.06" width="236.6" height="184.79"/></clipPath>
<rect x="324.6" y="228.66" width="232.8" height="183.59" fill="none" stroke="#000" stroke-width="1.15"/>
<path d="M324.6 412.25v-2.5M324.6 228.66v2.6M371.5 412.25v-2.5M371.5 228.66v2.6M417.5 412.25v-2.5M417.5 228.66v2.6M464.5 412.25v-2.5M464.5 228.66v2.6M511.5 412.25v-2.5M511.5 228.66v2.6M557.4 412.25v-2.5M557.4 228.66v2.6" stroke="#000" stroke-width="1"/>
<text x="324.4" y="424.35" font-size="10.6" text-anchor="middle">0</text>
<text x="370.96" y="424.35" font-size="10.6" text-anchor="middle">20</text>
<text x="417.52" y="424.35" font-size="10.6" text-anchor="middle">40</text>
<text x="464.08" y="424.35" font-size="10.6" text-anchor="middle">60</text>
<text x="510.64" y="424.35" font-size="10.6" text-anchor="middle">80</text>
<text x="557.2" y="424.35" font-size="10.6" text-anchor="middle">100</text>
<path d="M324.6 413.2h2.4M557.4 413.2h-3.4M324.6 351.7h2.4M557.4 351.7h-3.4M324.6 290.2h2.4M557.4 290.2h-3.4M324.6 228.7h2.4M557.4 228.7h-3.4" stroke="#000" stroke-width="1"/>
<path d="M324.6 394.69h1.6M557.4 394.69h-2.3M324.6 383.86h1.6M557.4 383.86h-2.3M324.6 376.17h1.6M557.4 376.17h-2.3M324.6 370.21h1.6M557.4 370.21h-2.3M324.6 365.34h1.6M557.4 365.34h-2.3M324.6 361.23h1.6M557.4 361.23h-2.3M324.6 357.66h1.6M557.4 357.66h-2.3M324.6 354.51h1.6M557.4 354.51h-2.3M324.6 333.19h1.6M557.4 333.19h-2.3M324.6 322.36h1.6M557.4 322.36h-2.3M324.6 314.67h1.6M557.4 314.67h-2.3M324.6 308.71h1.6M557.4 308.71h-2.3M324.6 303.84h1.6M557.4 303.84h-2.3M324.6 299.73h1.6M557.4 299.73h-2.3M324.6 296.16h1.6M557.4 296.16h-2.3M324.6 293.01h1.6M557.4 293.01h-2.3M324.6 271.69h1.6M557.4 271.69h-2.3M324.6 260.86h1.6M557.4 260.86h-2.3M324.6 253.17h1.6M557.4 253.17h-2.3M324.6 247.21h1.6M557.4 247.21h-2.3M324.6 242.34h1.6M557.4 242.34h-2.3M324.6 238.23h1.6M557.4 238.23h-2.3M324.6 234.66h1.6M557.4 234.66h-2.3M324.6 231.51h1.6M557.4 231.51h-2.3" stroke="#000" stroke-width="1"/>
<text x="304.25" y="416.9" font-size="10.6">10</text>
<rect x="314.25" y="407.5" width="4.8" height="1.3" fill="#000"/>
<text x="318.85" y="410.4" font-size="7.3" style="text-rendering:geometricPrecision">4</text>
<text x="304.25" y="355.7" font-size="10.6">10</text>
<rect x="314.25" y="346.3" width="4.8" height="1.3" fill="#000"/>
<text x="318.85" y="349.2" font-size="7.3" style="text-rendering:geometricPrecision">3</text>
<text x="304.25" y="293.75" font-size="10.6">10</text>
<rect x="314.25" y="284.35" width="4.8" height="1.3" fill="#000"/>
<text x="318.85" y="287.25" font-size="7.3" style="text-rendering:geometricPrecision">2</text>
<text x="304.25" y="231.7" font-size="10.6">10</text>
<rect x="314.25" y="222.3" width="4.8" height="1.3" fill="#000"/>
<text x="318.85" y="225.2" font-size="7.3" style="text-rendering:geometricPrecision">1</text>
<text x="440.5" y="436.25" font-size="10.6" text-anchor="middle">Number of Contacts</text>
<text transform="translate(296.4 321.45) rotate(-90)" font-size="10.6" text-anchor="middle">Frequency</text>
<g clip-path="url(#cb1)">
<path d="M327.5 242.15V248.14M329.5 251.68V258.93M331.5 248.68V255.5M334.5 244.64V250.94M336.5 243.37V249.5M338.5 244.37V250.62M341.5 245.69V252.12M343.5 247.61V254.28M345.5 247.92V254.64M348.5 246.99V253.58M350.5 252.43V259.78M352.5 258.84V267.21M355.5 259.33V267.79M357.5 259.83V268.37M359.5 259V267.4M362.5 263.05V272.18M364.5 267.86V277.94M366.5 268.09V278.22M369.5 274.97V286.68M371.5 271.04V281.81M373.5 286.78V301.9M376.5 282.34V296.05M378.5 280.38V293.53M380.5 286.78V301.9M383.5 281.14V294.51M385.5 289.88V306.08M387.5 286.78V301.9M389.5 291.59V308.43M392.5 292.8V310.11M394.5 285.83V300.63M396.5 297.56V316.88M399.5 296.11V314.78M401.5 305.47V328.83M403.5 295.41V313.78M406.5 294.07V311.89M408.5 298.33V317.99M410.5 296.11V314.78M413.5 299.93V320.35M415.5 303.48V325.73M417.5 310.02V336.24M420.5 302.54V324.29M422.5 305.47V328.83M424.5 301.64V322.91M427.5 306.53V330.52M429.5 319.03V352.62M431.5 312.66V340.77M434.5 310.02V336.24M436.5 330.63V380.18M438.5 319.03V352.62M441.5 307.64V332.31M443.5 310.02V336.24M445.5 319.03V352.62M448.5 319.03V352.62M450.5 320.94V356.48M452.5 310.02V336.24M455.5 317.27V349.19M457.5 314.1V343.33M459.5 315.64V346.12M462.5 314.1V343.33M464.5 330.63V380.18M466.5 312.66V340.77M469.5 312.66V340.77M471.5 325.28V366.08M473.5 342.16V397.23M476.5 314.1V343.33M478.5 327.8V372.32M480.5 315.64V346.12M483.5 337.63V397.23M485.5 333.86V390.8M487.5 320.94V356.48M490.5 333.86V390.8M492.5 337.63V397.23M494.5 342.16V397.23M497.5 327.8V372.32M506.5 319.03V352.62M508.5 327.8V372.32M511.5 333.86V390.8M513.5 337.63V397.23M515.5 337.63V397.23M518.5 333.86V390.8M520.5 325.28V366.08M522.5 323.01V360.9M525.5 342.16V397.23M538.5 342.16V397.23M543.5 342.16V397.23M545.5 337.63V397.23" stroke="#000" stroke-width="1"/>
<g fill="none" stroke="#000" stroke-width="1">
<circle cx="327.5" cy="244.98" r="1.95"/>
<circle cx="329.5" cy="255.06" r="1.95"/>
<circle cx="331.5" cy="251.87" r="1.95"/>
<circle cx="334.5" cy="247.6" r="1.95"/>
<circle cx="336.5" cy="246.26" r="1.95"/>
<circle cx="338.5" cy="247.31" r="1.95"/>
<circle cx="341.5" cy="248.71" r="1.95"/>
<circle cx="343.5" cy="250.74" r="1.95"/>
<circle cx="345.5" cy="251.07" r="1.95"/>
<circle cx="348.5" cy="250.08" r="1.95"/>
<circle cx="350.5" cy="255.85" r="1.95"/>
<circle cx="352.5" cy="262.7" r="1.95"/>
<circle cx="355.5" cy="263.23" r="1.95"/>
<circle cx="357.5" cy="263.76" r="1.95"/>
<circle cx="359.5" cy="262.87" r="1.95"/>
<circle cx="362.5" cy="267.22" r="1.95"/>
<circle cx="364.5" cy="272.43" r="1.95"/>
<circle cx="366.5" cy="272.68" r="1.95"/>
<circle cx="369.5" cy="280.19" r="1.95"/>
<circle cx="371.5" cy="275.88" r="1.95"/>
<circle cx="373.5" cy="293.29" r="1.95"/>
<circle cx="376.5" cy="288.32" r="1.95"/>
<circle cx="378.5" cy="286.15" r="1.95"/>
<circle cx="380.5" cy="293.29" r="1.95"/>
<circle cx="383.5" cy="287" r="1.95"/>
<circle cx="385.5" cy="296.77" r="1.95"/>
<circle cx="387.5" cy="293.29" r="1.95"/>
<circle cx="389.5" cy="298.71" r="1.95"/>
<circle cx="392.5" cy="300.08" r="1.95"/>
<circle cx="394.5" cy="292.22" r="1.95"/>
<circle cx="396.5" cy="305.51" r="1.95"/>
<circle cx="399.5" cy="303.84" r="1.95"/>
<circle cx="401.5" cy="314.67" r="1.95"/>
<circle cx="403.5" cy="303.05" r="1.95"/>
<circle cx="406.5" cy="301.52" r="1.95"/>
<circle cx="408.5" cy="306.39" r="1.95"/>
<circle cx="410.5" cy="303.84" r="1.95"/>
<circle cx="413.5" cy="308.23" r="1.95"/>
<circle cx="415.5" cy="312.35" r="1.95"/>
<circle cx="417.5" cy="320.03" r="1.95"/>
<circle cx="420.5" cy="311.26" r="1.95"/>
<circle cx="422.5" cy="314.67" r="1.95"/>
<circle cx="424.5" cy="310.21" r="1.95"/>
<circle cx="427.5" cy="315.92" r="1.95"/>
<circle cx="429.5" cy="330.86" r="1.95"/>
<circle cx="431.5" cy="323.18" r="1.95"/>
<circle cx="434.5" cy="320.03" r="1.95"/>
<circle cx="436.5" cy="345.26" r="1.95"/>
<circle cx="438.5" cy="330.86" r="1.95"/>
<circle cx="441.5" cy="317.22" r="1.95"/>
<circle cx="443.5" cy="320.03" r="1.95"/>
<circle cx="445.5" cy="330.86" r="1.95"/>
<circle cx="448.5" cy="330.86" r="1.95"/>
<circle cx="450.5" cy="333.19" r="1.95"/>
<circle cx="452.5" cy="320.03" r="1.95"/>
<circle cx="455.5" cy="328.72" r="1.95"/>
<circle cx="457.5" cy="324.9" r="1.95"/>
<circle cx="459.5" cy="326.75" r="1.95"/>
<circle cx="462.5" cy="324.9" r="1.95"/>
<circle cx="464.5" cy="345.26" r="1.95"/>
<circle cx="466.5" cy="323.18" r="1.95"/>
<circle cx="469.5" cy="323.18" r="1.95"/>
<circle cx="471.5" cy="338.55" r="1.95"/>
<circle cx="473.5" cy="360.21" r="1.95"/>
<circle cx="476.5" cy="324.9" r="1.95"/>
<circle cx="478.5" cy="341.69" r="1.95"/>
<circle cx="480.5" cy="326.75" r="1.95"/>
<circle cx="483.5" cy="354.25" r="1.95"/>
<circle cx="485.5" cy="349.38" r="1.95"/>
<circle cx="487.5" cy="333.19" r="1.95"/>
<circle cx="490.5" cy="349.38" r="1.95"/>
<circle cx="492.5" cy="354.25" r="1.95"/>
<circle cx="494.5" cy="360.21" r="1.95"/>
<circle cx="497.5" cy="341.69" r="1.95"/>
<circle cx="499.5" cy="367.89" r="1.95"/>
<circle cx="501.5" cy="367.89" r="1.95"/>
<circle cx="504.5" cy="367.89" r="1.95"/>
<circle cx="506.5" cy="330.86" r="1.95"/>
<circle cx="508.5" cy="341.69" r="1.95"/>
<circle cx="511.5" cy="349.38" r="1.95"/>
<circle cx="513.5" cy="354.25" r="1.95"/>
<circle cx="515.5" cy="354.25" r="1.95"/>
<circle cx="518.5" cy="349.38" r="1.95"/>
<circle cx="520.5" cy="338.55" r="1.95"/>
<circle cx="522.5" cy="335.73" r="1.95"/>
<circle cx="525.5" cy="360.21" r="1.95"/>
<circle cx="527.5" cy="397.23" r="1.95"/>
<circle cx="529.5" cy="378.72" r="1.95"/>
<circle cx="531.5" cy="378.72" r="1.95"/>
<circle cx="534.5" cy="378.72" r="1.95"/>
<circle cx="536.5" cy="397.23" r="1.95"/>
<circle cx="538.5" cy="360.21" r="1.95"/>
<circle cx="541.5" cy="378.72" r="1.95"/>
<circle cx="543.5" cy="360.21" r="1.95"/>
<circle cx="545.5" cy="354.25" r="1.95"/>
<circle cx="548.5" cy="367.89" r="1.95"/>
<circle cx="550.5" cy="367.89" r="1.95"/>
<circle cx="552.5" cy="397.23" r="1.95"/>
<circle cx="555.5" cy="378.72" r="1.95"/>
<circle cx="557.5" cy="397.23" r="1.95"/>
</g>
<path d="M326.93 250.87L328.09 248.87L329.26 247.64L330.42 246.84L331.58 246.53L332.75 246.49L333.91 246.63L335.08 246.96L336.24 247.43L337.4 248.01L338.57 248.7L339.73 249.43L340.9 250.21L342.06 251.03L343.22 251.87L344.39 252.71L345.55 253.58L346.72 254.47L347.88 255.4L349.04 256.38L350.21 257.39L351.37 258.43L352.54 259.47L353.7 260.51L354.86 261.56L356.03 262.62L357.19 263.7L358.36 264.81L359.52 265.94L360.68 267.12L361.85 268.36L363.01 269.62L364.18 270.91L365.34 272.21L366.5 273.5L367.67 274.78L368.83 276.04L370 277.28L371.16 278.49L372.32 279.71L373.49 280.94L374.65 282.17L375.82 283.4L376.98 284.62L378.14 285.81L379.31 286.97L380.47 288.09L381.64 289.17L382.8 290.2L383.96 291.19L385.13 292.15L386.29 293.09L387.46 294L388.62 294.89L389.78 295.75L390.95 296.59L392.11 297.41L393.28 298.2L394.44 298.97L395.6 299.72L396.77 300.43L397.93 301.12L399.1 301.79L400.26 302.45L401.42 303.1L402.59 303.75L403.75 304.39L404.92 305.04L406.08 305.69L407.24 306.34L408.41 307L409.57 307.66L410.74 308.31L411.9 308.96L413.06 309.61L414.23 310.25L415.39 310.88L416.56 311.51L417.72 312.13L418.88 312.74L420.05 313.34L421.21 313.94L422.38 314.53L423.54 315.12L424.7 315.7L425.87 316.27L427.03 316.84L428.2 317.41L429.36 317.97L430.52 318.52L431.69 319.07L432.85 319.61L434.02 320.15L435.18 320.68L436.34 321.21L437.51 321.73L438.67 322.25L439.84 322.76L441 323.26L442.16 323.76L443.33 324.25L444.49 324.73L445.66 325.2L446.82 325.66L447.98 326.12L449.15 326.58L450.31 327.03L451.48 327.48L452.64 327.93L453.8 328.38L454.97 328.83L456.13 329.28L457.3 329.73L458.46 330.19L459.62 330.65L460.79 331.11L461.95 331.58L463.12 332.05L464.28 332.53L465.44 333.01L466.61 333.51L467.77 334.01L468.94 334.52L470.1 335.03L471.26 335.55L472.43 336.07L473.59 336.6L474.76 337.12L475.92 337.65L477.08 338.17L478.25 338.69L479.41 339.21L480.58 339.73L481.74 340.24L482.9 340.75L484.07 341.25L485.23 341.74L486.4 342.23L487.56 342.71L488.72 343.19L489.89 343.68L491.05 344.17L492.22 344.66L493.38 345.15L494.54 345.64L495.71 346.13L496.87 346.62L498.04 347.09L499.2 347.57L500.36 348.03L501.53 348.49L502.69 348.94L503.86 349.37L505.02 349.8L506.18 350.21L507.35 350.6L508.51 350.99L509.68 351.35L510.84 351.7L512 352.04L513.17 352.37L514.33 352.7L515.5 353.03L516.66 353.35L517.82 353.67L518.99 353.98L520.15 354.29L521.32 354.59L522.48 354.89L523.64 355.18L524.81 355.47L525.97 355.76L527.14 356.04L528.3 356.31L529.46 356.58L530.63 356.85L531.79 357.11L532.96 357.36L534.12 357.62L535.28 357.86L536.45 358.1L537.61 358.34L538.78 358.57L539.94 358.8L541.1 359.02L542.27 359.24L543.43 359.45L544.6 359.66L545.76 359.86L546.92 360.06L548.09 360.25L549.25 360.44L550.42 360.62L551.58 360.8L552.74 360.97L553.91 361.14L555.07 361.3L556.24 361.46L557.4 361.61" fill="none" stroke="#ff0000" stroke-width="1.0" stroke-linejoin="round"/>
<path d="M326.93 254.57L328.09 252.41L329.26 251.11L330.42 250.25L331.58 249.92L332.75 249.88L333.91 250.03L335.08 250.37L336.24 250.88L337.4 251.5L338.57 252.23L339.73 253.01L340.9 253.85L342.06 254.73L343.22 255.64L344.39 256.55L345.55 257.48L346.72 258.44L347.88 259.45L349.04 260.51L350.21 261.61L351.37 262.73L352.54 263.86L353.7 265L354.86 266.15L356.03 267.31L357.19 268.49L358.36 269.71L359.52 270.96L360.68 272.27L361.85 273.63L363.01 275.04L364.18 276.47L365.34 277.92L366.5 279.37L367.67 280.81L368.83 282.23L370 283.64L371.16 285.02L372.32 286.4L373.49 287.8L374.65 289.22L375.82 290.64L376.98 292.05L378.14 293.44L379.31 294.79L380.47 295.56L381.64 296.77L382.8 298.05L383.96 299.38L385.13 300.08L386.29 301.52L387.46 302.27L388.62 303.84L389.78 304.67L390.95 305.51L392.11 306.39L393.28 307.29L394.44 308.23L395.6 309.2L396.77 310.21L397.93 311.26L399.1 312.35L400.26 312.35L401.42 313.49L402.59 314.67L403.75 314.67L404.92 315.92L406.08 317.22L407.24 317.22L408.41 318.59L409.57 318.59L410.74 320.03L411.9 320.03L413.06 321.56L414.23 323.18L415.39 323.18L416.56 323.18L417.72 324.9L418.88 324.9L420.05 326.75L421.21 326.75L422.38 328.72L423.54 328.72L424.7 328.72L425.87 330.86L427.03 330.86L428.2 330.86L429.36 333.19L430.52 333.19L431.69 333.19L432.85 335.73L434.02 335.73L435.18 335.73L436.34 335.73L437.51 338.55L438.67 338.55L439.84 338.55L441 338.55L442.16 341.69L443.33 341.69L444.49 341.69L445.66 341.69L446.82 341.69L447.98 345.26L449.15 345.26L450.31 345.26L451.48 345.26L452.64 345.26L453.8 345.26L454.97 349.38L456.13 349.38L457.3 349.38L458.46 349.38L459.62 349.38L460.79 349.38L461.95 349.38L463.12 354.25L464.28 354.25L465.44 354.25L466.61 354.25L467.77 354.25L468.94 354.25L470.1 354.25L471.26 360.21L472.43 360.21L473.59 360.21L474.76 360.21L475.92 360.21L477.08 360.21L478.25 360.21L479.41 360.21L480.58 367.89L481.74 367.89L482.9 367.89L484.07 367.89L485.23 367.89L486.4 367.89L487.56 367.89L488.72 367.89L489.89 367.89L491.05 367.89L492.22 378.72L493.38 378.72L494.54 378.72L495.71 378.72L496.87 378.72L498.04 378.72L499.2 378.72L500.36 378.72L501.53 378.72L502.69 378.72L503.86 378.72L505.02 378.72L506.18 378.72L507.35 378.72L508.51 378.72L509.68 378.72L510.84 397.23L512 397.23L513.17 397.23L514.33 397.23L515.5 397.23L516.66 397.23L517.82 397.23L518.99 397.23L520.15 397.23L521.32 397.23L522.48 397.23L523.64 397.23L524.81 397.23L525.97 397.23L527.14 397.23L528.3 397.23L529.46 397.23L530.63 397.23L531.79 397.23L532.96 397.23L534.12 397.23L535.28 397.23L536.45 397.23L537.61 397.23L538.78 397.23L539.94 397.23L541.1 397.23L542.27 397.23L543.43 397.23L544.6 397.23L545.76 397.23L546.92 397.23L548.09 397.23L549.25 397.23L550.42 397.23L551.58 397.23L552.74 397.23L553.91 397.23L555.07 397.23L556.24 397.23L557.4 397.23" fill="none" stroke="#ff0000" stroke-width="0.95" stroke-dasharray="3.8 4" stroke-linejoin="round"/>
<path d="M326.93 247.63L328.09 245.73L329.26 244.58L330.42 243.82L331.58 243.53L332.75 243.49L333.91 243.62L335.08 243.93L336.24 244.37L337.4 244.93L338.57 245.57L339.73 246.26L340.9 247L342.06 247.77L343.22 248.57L344.39 249.36L345.55 250.17L346.72 251.01L347.88 251.89L349.04 252.81L350.21 253.76L351.37 254.72L352.54 255.7L353.7 256.67L354.86 257.65L356.03 258.63L357.19 259.64L358.36 260.67L359.52 261.72L360.68 262.82L361.85 263.96L363.01 265.13L364.18 266.31L365.34 267.5L366.5 268.69L367.67 269.86L368.83 271.02L370 272.15L371.16 273.26L372.32 274.36L373.49 275.48L374.65 276.6L375.82 277.71L376.98 278.81L378.14 279.89L379.31 280.93L380.47 281.92L381.64 283.01L382.8 283.76L383.96 284.53L385.13 285.33L386.29 286.15L387.46 287L388.62 287.88L389.78 288.78L390.95 289.25L392.11 290.2L393.28 290.69L394.44 291.7L395.6 292.22L396.77 292.75L397.93 293.29L399.1 293.84L400.26 294.4L401.42 294.97L402.59 295.56L403.75 296.16L404.92 296.77L406.08 297.4L407.24 298.05L408.41 298.71L409.57 298.71L410.74 299.38L411.9 300.08L413.06 300.79L414.23 301.52L415.39 301.52L416.56 302.27L417.72 303.05L418.88 303.05L420.05 303.84L421.21 304.67L422.38 304.67L423.54 305.51L424.7 305.51L425.87 306.39L427.03 306.39L428.2 307.29L429.36 307.29L430.52 308.23L431.69 308.23L432.85 309.2L434.02 309.2L435.18 310.21L436.34 310.21L437.51 311.26L438.67 311.26L439.84 311.26L441 312.35L442.16 312.35L443.33 313.49L444.49 313.49L445.66 313.49L446.82 314.67L447.98 314.67L449.15 314.67L450.31 314.67L451.48 315.92L452.64 315.92L453.8 315.92L454.97 317.22L456.13 317.22L457.3 317.22L458.46 317.22L459.62 318.59L460.79 318.59L461.95 318.59L463.12 318.59L464.28 320.03L465.44 320.03L466.61 320.03L467.77 321.56L468.94 321.56L470.1 321.56L471.26 321.56L472.43 323.18L473.59 323.18L474.76 323.18L475.92 323.18L477.08 324.9L478.25 324.9L479.41 324.9L480.58 324.9L481.74 324.9L482.9 326.75L484.07 326.75L485.23 326.75L486.4 326.75L487.56 326.75L488.72 328.72L489.89 328.72L491.05 328.72L492.22 328.72L493.38 328.72L494.54 330.86L495.71 330.86L496.87 330.86L498.04 330.86L499.2 330.86L500.36 330.86L501.53 330.86L502.69 333.19L503.86 333.19L505.02 333.19L506.18 333.19L507.35 333.19L508.51 333.19L509.68 333.19L510.84 333.19L512 335.73L513.17 335.73L514.33 335.73L515.5 335.73L516.66 335.73L517.82 335.73L518.99 335.73L520.15 335.73L521.32 335.73L522.48 335.73L523.64 335.73L524.81 338.55L525.97 338.55L527.14 338.55L528.3 338.55L529.46 338.55L530.63 338.55L531.79 338.55L532.96 338.55L534.12 338.55L535.28 338.55L536.45 338.55L537.61 338.55L538.78 338.55L539.94 338.55L541.1 338.55L542.27 338.55L543.43 341.69L544.6 341.69L545.76 341.69L546.92 341.69L548.09 341.69L549.25 341.69L550.42 341.69L551.58 341.69L552.74 341.69L553.91 341.69L555.07 341.69L556.24 341.69L557.4 341.69" fill="none" stroke="#ff0000" stroke-width="0.95" stroke-dasharray="3.8 4" stroke-linejoin="round"/>
<path d="M326.93 241.38L328.09 242.2L329.26 243.07L330.42 243.95L331.58 244.86L332.75 245.82L333.91 246.79L335.08 247.73L336.24 248.7L337.4 249.72L338.57 250.75L339.73 251.77L340.9 252.78L342.06 253.75L343.22 254.76L344.39 255.87L345.55 256.97L346.72 257.95L347.88 258.88L349.04 259.78L350.21 260.64L351.37 261.48L352.54 262.32L353.7 263.13L354.86 263.92L356.03 264.69L357.19 265.48L358.36 266.3L359.52 267.15L360.68 268.07L361.85 269.04L363.01 270.04L364.18 271.07L365.34 272.11L366.5 273.14L367.67 274.18L368.83 275.19L370 276.18L371.16 277.15L372.32 278.1L373.49 279.05L374.65 280L375.82 280.95L376.98 281.89L378.14 282.82L379.31 283.74L380.47 284.66L381.64 285.57L382.8 286.47L383.96 287.36L385.13 288.26L386.29 289.15L387.46 290.04L388.62 290.92L389.78 291.79L390.95 292.66L392.11 293.51L393.28 294.35L394.44 295.18L395.6 295.99L396.77 296.78L397.93 297.57L399.1 298.34L400.26 299.11L401.42 299.88L402.59 300.64L403.75 301.41L404.92 302.19L406.08 302.97L407.24 303.76L408.41 304.57L409.57 305.39L410.74 306.21L411.9 307.03L413.06 307.84L414.23 308.64L415.39 309.43L416.56 310.2L417.72 310.94L418.88 311.67L420.05 312.38L421.21 313.08L422.38 313.77L423.54 314.45L424.7 315.12L425.87 315.78L427.03 316.44L428.2 317.08L429.36 317.71L430.52 318.34L431.69 318.96L432.85 319.58L434.02 320.19L435.18 320.79L436.34 321.39L437.51 321.98L438.67 322.57L439.84 323.15L441 323.73L442.16 324.3L443.33 324.86L444.49 325.41L445.66 325.96L446.82 326.5L447.98 327.03L449.15 327.56L450.31 328.09L451.48 328.61L452.64 329.13L453.8 329.64L454.97 330.16L456.13 330.67L457.3 331.18L458.46 331.7L459.62 332.21L460.79 332.72L461.95 333.24L463.12 333.76L464.28 334.28L465.44 334.8L466.61 335.33L467.77 335.86L468.94 336.4L470.1 336.93L471.26 337.47L472.43 338.01L473.59 338.55L474.76 339.09L475.92 339.62L477.08 340.15L478.25 340.68L479.41 341.2L480.58 341.72L481.74 342.23L482.9 342.74L484.07 343.24L485.23 343.73L486.4 344.22L487.56 344.69L488.72 345.17L489.89 345.64L491.05 346.12L492.22 346.6L493.38 347.07L494.54 347.54L495.71 348.01L496.87 348.48L498.04 348.93L499.2 349.39L500.36 349.83L501.53 350.26L502.69 350.69L503.86 351.11L505.02 351.51L506.18 351.91L507.35 352.29L508.51 352.66L509.68 353.01L510.84 353.35L512 353.68L513.17 354.01L514.33 354.34L515.5 354.65L516.66 354.97L517.82 355.28L518.99 355.59L520.15 355.89L521.32 356.19L522.48 356.48L523.64 356.77L524.81 357.06L525.97 357.34L527.14 357.61L528.3 357.88L529.46 358.15L530.63 358.41L531.79 358.67L532.96 358.93L534.12 359.18L535.28 359.42L536.45 359.66L537.61 359.9L538.78 360.13L539.94 360.35L541.1 360.58L542.27 360.79L543.43 361.01L544.6 361.21L545.76 361.42L546.92 361.62L548.09 361.81L549.25 362L550.42 362.19L551.58 362.37L552.74 362.55L553.91 362.72L555.07 362.88L556.24 363.05L557.4 363.21" fill="none" stroke="#0000ff" stroke-width="1.0" stroke-linejoin="round"/>
<path d="M326.93 244.44L328.09 245.31L329.26 246.23L330.42 247.16L331.58 248.14L332.75 249.16L333.91 250.19L335.08 251.2L336.24 252.23L337.4 253.32L338.57 254.43L339.73 255.53L340.9 256.61L342.06 257.67L343.22 258.75L344.39 259.95L345.55 261.15L346.72 262.21L347.88 263.23L349.04 264.2L350.21 265.14L351.37 266.06L352.54 266.98L353.7 267.87L354.86 268.73L356.03 269.58L357.19 270.45L358.36 271.35L359.52 272.3L360.68 273.31L361.85 274.38L363.01 275.5L364.18 276.65L365.34 277.81L366.5 278.97L367.67 280.13L368.83 281.27L370 282.39L371.16 283.49L372.32 284.57L373.49 285.65L374.65 286.74L375.82 287.82L376.98 288.9L378.14 289.97L379.31 291.04L380.47 292.1L381.64 293.16L382.8 294.2L383.96 295.25L385.13 295.56L386.29 296.77L387.46 298.05L388.62 298.71L389.78 300.08L390.95 300.79L392.11 302.27L393.28 303.05L394.44 303.84L395.6 304.67L396.77 305.51L397.93 306.39L399.1 307.29L400.26 308.23L401.42 309.2L402.59 310.21L403.75 311.26L404.92 312.35L406.08 313.49L407.24 314.67L408.41 314.67L409.57 315.92L410.74 317.22L411.9 318.59L413.06 320.03L414.23 320.03L415.39 321.56L416.56 321.56L417.72 323.18L418.88 324.9L420.05 324.9L421.21 326.75L422.38 326.75L423.54 328.72L424.7 328.72L425.87 328.72L427.03 330.86L428.2 330.86L429.36 333.19L430.52 333.19L431.69 333.19L432.85 335.73L434.02 335.73L435.18 335.73L436.34 335.73L437.51 338.55L438.67 338.55L439.84 338.55L441 341.69L442.16 341.69L443.33 341.69L444.49 341.69L445.66 345.26L446.82 345.26L447.98 345.26L449.15 345.26L450.31 345.26L451.48 349.38L452.64 349.38L453.8 349.38L454.97 349.38L456.13 349.38L457.3 349.38L458.46 354.25L459.62 354.25L460.79 354.25L461.95 354.25L463.12 354.25L464.28 354.25L465.44 354.25L466.61 360.21L467.77 360.21L468.94 360.21L470.1 360.21L471.26 360.21L472.43 360.21L473.59 360.21L474.76 360.21L475.92 367.89L477.08 367.89L478.25 367.89L479.41 367.89L480.58 367.89L481.74 367.89L482.9 367.89L484.07 367.89L485.23 367.89L486.4 367.89L487.56 378.72L488.72 378.72L489.89 378.72L491.05 378.72L492.22 378.72L493.38 378.72L494.54 378.72L495.71 378.72L496.87 378.72L498.04 378.72L499.2 378.72L500.36 378.72L501.53 378.72L502.69 378.72L503.86 378.72L505.02 397.23L506.18 397.23L507.35 397.23L508.51 397.23L509.68 397.23L510.84 397.23L512 397.23L513.17 397.23L514.33 397.23L515.5 397.23L516.66 397.23L517.82 397.23L518.99 397.23L520.15 397.23L521.32 397.23L522.48 397.23L523.64 397.23L524.81 397.23L525.97 397.23L527.14 397.23L528.3 397.23L529.46 397.23L530.63 397.23L531.79 397.23L532.96 397.23L534.12 397.23L535.28 397.23L536.45 397.23L537.61 397.23L538.78 397.23L539.94 397.23L541.1 397.23L542.27 397.23L543.43 397.23L544.6 397.23L545.76 397.23L546.92 397.23L548.09 397.23L549.25 397.23L550.42 397.23L551.58 397.23L552.74 397.23L553.91 397.23L555.07 397.23L556.24 397.23L557.4 397.23" fill="none" stroke="#0000ff" stroke-width="0.95" stroke-dasharray="3.8 4" stroke-linejoin="round"/>
<path d="M326.93 238.64L328.09 239.42L329.26 240.24L330.42 241.08L331.58 241.95L332.75 242.85L333.91 243.77L335.08 244.66L336.24 245.57L337.4 246.54L338.57 247.51L339.73 248.47L340.9 249.42L342.06 250.34L343.22 251.28L344.39 252.33L345.55 253.36L346.72 254.28L347.88 255.15L349.04 255.99L350.21 256.79L351.37 257.58L352.54 258.36L353.7 259.11L354.86 259.84L356.03 260.56L357.19 261.29L358.36 262.05L359.52 262.84L360.68 263.69L361.85 264.58L363.01 265.51L364.18 266.46L365.34 267.41L366.5 268.36L367.67 269.31L368.83 270.24L370 271.15L371.16 272.03L372.32 272.9L373.49 273.77L374.65 274.63L375.82 275.49L376.98 276.34L378.14 277.18L379.31 278.02L380.47 278.85L381.64 279.67L382.8 280.48L383.96 281.28L385.13 281.92L386.29 283.01L387.46 283.76L388.62 284.53L389.78 285.33L390.95 286.15L392.11 286.57L393.28 287.43L394.44 288.32L395.6 288.78L396.77 289.72L397.93 290.2L399.1 291.19L400.26 291.7L401.42 292.22L402.59 292.75L403.75 293.84L404.92 294.4L406.08 294.97L407.24 295.56L408.41 296.16L409.57 296.77L410.74 298.05L411.9 298.71L413.06 299.38L414.23 300.08L415.39 300.79L416.56 301.52L417.72 301.52L418.88 302.27L420.05 303.05L421.21 303.84L422.38 303.84L423.54 304.67L424.7 305.51L425.87 305.51L427.03 306.39L428.2 307.29L429.36 307.29L430.52 308.23L431.69 308.23L432.85 309.2L434.02 309.2L435.18 310.21L436.34 310.21L437.51 311.26L438.67 311.26L439.84 312.35L441 312.35L442.16 313.49L443.33 313.49L444.49 313.49L445.66 314.67L446.82 314.67L447.98 314.67L449.15 315.92L450.31 315.92L451.48 315.92L452.64 317.22L453.8 317.22L454.97 317.22L456.13 318.59L457.3 318.59L458.46 318.59L459.62 320.03L460.79 320.03L461.95 320.03L463.12 320.03L464.28 321.56L465.44 321.56L466.61 321.56L467.77 321.56L468.94 323.18L470.1 323.18L471.26 323.18L472.43 323.18L473.59 324.9L474.76 324.9L475.92 324.9L477.08 324.9L478.25 326.75L479.41 326.75L480.58 326.75L481.74 326.75L482.9 326.75L484.07 328.72L485.23 328.72L486.4 328.72L487.56 328.72L488.72 328.72L489.89 330.86L491.05 330.86L492.22 330.86L493.38 330.86L494.54 330.86L495.71 330.86L496.87 330.86L498.04 333.19L499.2 333.19L500.36 333.19L501.53 333.19L502.69 333.19L503.86 333.19L505.02 333.19L506.18 335.73L507.35 335.73L508.51 335.73L509.68 335.73L510.84 335.73L512 335.73L513.17 335.73L514.33 335.73L515.5 335.73L516.66 335.73L517.82 335.73L518.99 338.55L520.15 338.55L521.32 338.55L522.48 338.55L523.64 338.55L524.81 338.55L525.97 338.55L527.14 338.55L528.3 338.55L529.46 338.55L530.63 338.55L531.79 338.55L532.96 338.55L534.12 338.55L535.28 338.55L536.45 341.69L537.61 341.69L538.78 341.69L539.94 341.69L541.1 341.69L542.27 341.69L543.43 341.69L544.6 341.69L545.76 341.69L546.92 341.69L548.09 341.69L549.25 341.69L550.42 341.69L551.58 341.69L552.74 341.69L553.91 341.69L555.07 341.69L556.24 341.69L557.4 341.69" fill="none" stroke="#0000ff" stroke-width="0.95" stroke-dasharray="3.8 4" stroke-linejoin="round"/>
</g>
<rect x="473.4" y="235.6" width="78.3" height="39.76" fill="#fff" stroke="#000" stroke-width="1"/>
<circle cx="494.53" cy="243.55" r="1.95" fill="none" stroke="#000" stroke-width="1"/>
<text x="513.05" y="247.15" font-size="10.6">Data</text>
<path d="M479.25 255.4H510.2" stroke="#ff0000" stroke-width="1"/>
<text x="513.05" y="259" font-size="10.6">(3,Yes)</text>
<path d="M479.25 267.4H510.2" stroke="#0000ff" stroke-width="1"/>
<text x="513.05" y="271" font-size="10.6">(3,No)</text>
<clipPath id="cd0"><rect x="36.06" y="456.7" width="234.04" height="182.2"/></clipPath>
<rect x="36.66" y="457.3" width="232.84" height="181" fill="none" stroke="#000" stroke-width="1.15"/>
<path d="M36.66 638.3v-2.5M36.66 457.3v2.6M103.62 638.3v-2.5M103.62 457.3v2.6M170.59 638.3v-2.5M170.59 457.3v2.6M237.55 638.3v-2.5M237.55 457.3v2.6" stroke="#000" stroke-width="1"/>
<path d="M56.82 638.3v-1.7M56.82 457.3v1.7M68.61 638.3v-1.7M68.61 457.3v1.7M76.98 638.3v-1.7M76.98 457.3v1.7M83.47 638.3v-1.7M83.47 457.3v1.7M88.77 638.3v-1.7M88.77 457.3v1.7M93.25 638.3v-1.7M93.25 457.3v1.7M97.13 638.3v-1.7M97.13 457.3v1.7M100.56 638.3v-1.7M100.56 457.3v1.7M123.78 638.3v-1.7M123.78 457.3v1.7M135.57 638.3v-1.7M135.57 457.3v1.7M143.94 638.3v-1.7M143.94 457.3v1.7M150.43 638.3v-1.7M150.43 457.3v1.7M155.73 638.3v-1.7M155.73 457.3v1.7M160.21 638.3v-1.7M160.21 457.3v1.7M164.1 638.3v-1.7M164.1 457.3v1.7M167.52 638.3v-1.7M167.52 457.3v1.7M190.74 638.3v-1.7M190.74 457.3v1.7M202.54 638.3v-1.7M202.54 457.3v1.7M210.9 638.3v-1.7M210.9 457.3v1.7M217.39 638.3v-1.7M217.39 457.3v1.7M222.69 638.3v-1.7M222.69 457.3v1.7M227.18 638.3v-1.7M227.18 457.3v1.7M231.06 638.3v-1.7M231.06 457.3v1.7M234.49 638.3v-1.7M234.49 457.3v1.7M257.71 638.3v-1.7M257.71 457.3v1.7M269.5 638.3v-1.7M269.5 457.3v1.7" stroke="#000" stroke-width="1"/>
<text x="29.36" y="653.2" font-size="10.6">10</text>
<text x="39.36" y="646.7" font-size="7.3" style="text-rendering:geometricPrecision">0</text>
<text x="96.32" y="653.2" font-size="10.6">10</text>
<text x="106.32" y="646.7" font-size="7.3" style="text-rendering:geometricPrecision">1</text>
<text x="163.29" y="653.2" font-size="10.6">10</text>
<text x="173.29" y="646.7" font-size="7.3" style="text-rendering:geometricPrecision">2</text>
<text x="230.25" y="653.2" font-size="10.6">10</text>
<text x="240.25" y="646.7" font-size="7.3" style="text-rendering:geometricPrecision">3</text>
<path d="M36.66 637.8h2.4M269.5 637.8h-3.4M36.66 601.7h2.4M269.5 601.7h-3.4M36.66 565.6h2.4M269.5 565.6h-3.4M36.66 529.5h2.4M269.5 529.5h-3.4M36.66 493.4h2.4M269.5 493.4h-3.4M36.66 457.3h2.4M269.5 457.3h-3.4" stroke="#000" stroke-width="1"/>
<path d="M36.66 626.93h1.6M269.5 626.93h-2.3M36.66 620.58h1.6M269.5 620.58h-2.3M36.66 616.07h1.6M269.5 616.07h-2.3M36.66 612.57h1.6M269.5 612.57h-2.3M36.66 609.71h1.6M269.5 609.71h-2.3M36.66 607.29h1.6M269.5 607.29h-2.3M36.66 605.2h1.6M269.5 605.2h-2.3M36.66 603.35h1.6M269.5 603.35h-2.3M36.66 590.83h1.6M269.5 590.83h-2.3M36.66 584.48h1.6M269.5 584.48h-2.3M36.66 579.97h1.6M269.5 579.97h-2.3M36.66 576.47h1.6M269.5 576.47h-2.3M36.66 573.61h1.6M269.5 573.61h-2.3M36.66 571.19h1.6M269.5 571.19h-2.3M36.66 569.1h1.6M269.5 569.1h-2.3M36.66 567.25h1.6M269.5 567.25h-2.3M36.66 554.73h1.6M269.5 554.73h-2.3M36.66 548.38h1.6M269.5 548.38h-2.3M36.66 543.87h1.6M269.5 543.87h-2.3M36.66 540.37h1.6M269.5 540.37h-2.3M36.66 537.51h1.6M269.5 537.51h-2.3M36.66 535.09h1.6M269.5 535.09h-2.3M36.66 533h1.6M269.5 533h-2.3M36.66 531.15h1.6M269.5 531.15h-2.3M36.66 518.63h1.6M269.5 518.63h-2.3M36.66 512.28h1.6M269.5 512.28h-2.3M36.66 507.77h1.6M269.5 507.77h-2.3M36.66 504.27h1.6M269.5 504.27h-2.3M36.66 501.41h1.6M269.5 501.41h-2.3M36.66 498.99h1.6M269.5 498.99h-2.3M36.66 496.9h1.6M269.5 496.9h-2.3M36.66 495.05h1.6M269.5 495.05h-2.3M36.66 482.53h1.6M269.5 482.53h-2.3M36.66 476.18h1.6M269.5 476.18h-2.3M36.66 471.67h1.6M269.5 471.67h-2.3M36.66 468.17h1.6M269.5 468.17h-2.3M36.66 465.31h1.6M269.5 465.31h-2.3M36.66 462.89h1.6M269.5 462.89h-2.3M36.66 460.8h1.6M269.5 460.8h-2.3M36.66 458.95h1.6M269.5 458.95h-2.3" stroke="#000" stroke-width="1"/>
<text x="16.31" y="642.75" font-size="10.6">10</text>
<rect x="26.31" y="633.35" width="4.8" height="1.3" fill="#000"/>
<text x="30.91" y="636.25" font-size="7.3" style="text-rendering:geometricPrecision">5</text>
<text x="16.31" y="606.2" font-size="10.6">10</text>
<rect x="26.31" y="596.8" width="4.8" height="1.3" fill="#000"/>
<text x="30.91" y="599.7" font-size="7.3" style="text-rendering:geometricPrecision">4</text>
<text x="16.31" y="569.9" font-size="10.6">10</text>
<rect x="26.31" y="560.5" width="4.8" height="1.3" fill="#000"/>
<text x="30.91" y="563.4" font-size="7.3" style="text-rendering:geometricPrecision">3</text>
<text x="16.31" y="533.4" font-size="10.6">10</text>
<rect x="26.31" y="524" width="4.8" height="1.3" fill="#000"/>
<text x="30.91" y="526.9" font-size="7.3" style="text-rendering:geometricPrecision">2</text>
<text x="16.31" y="497.3" font-size="10.6">10</text>
<rect x="26.31" y="487.9" width="4.8" height="1.3" fill="#000"/>
<text x="30.91" y="490.8" font-size="7.3" style="text-rendering:geometricPrecision">1</text>
<text x="16.31" y="460.9" font-size="10.6">10</text>
<text x="26.31" y="454.4" font-size="7.3" style="text-rendering:geometricPrecision">0</text>
<text x="152.58" y="665.3" font-size="10.6" text-anchor="middle">Number of Contacts</text>
<text transform="translate(8.56 548) rotate(-90)" font-size="10.6" text-anchor="middle">Survival function</text>
<g clip-path="url(#cd0)">
<path d="M36.66 457.3L56.82 458.53L68.61 459.34L76.98 460.28L83.47 461.37L88.77 462.53L93.25 463.71L97.13 464.89L100.56 466.05L103.62 467.27L106.4 468.44L108.93 469.45L111.25 470.27L113.41 471.13L115.42 472.04L117.29 473.07L119.06 473.99L120.72 474.8L122.29 475.6L123.78 476.22L125.2 477.02L126.55 477.41L127.85 477.93L129.08 478.53L130.27 478.99L131.41 479.64L132.51 480.08L133.57 480.74L134.59 481.3L135.57 481.85L136.53 482.61L137.45 483.09L138.34 483.62L139.21 483.99L140.06 484.57L140.88 485.19L141.67 485.73L142.45 486.34L143.2 486.88L143.94 487.36L144.66 487.71L145.36 488.21L146.04 488.67L146.71 489.22L147.36 489.68L148 489.96L148.63 490.32L149.24 490.75L149.84 490.92L150.43 491.21L151 491.71L151.57 492.17L152.12 492.48L152.67 492.81L153.2 493.11L153.72 493.61L154.24 493.98L154.75 494.43L155.24 494.85L155.73 495.31L156.21 495.54L156.68 496.06L157.15 496.59L157.61 496.9L158.06 497.04L158.5 497.58L158.94 497.87L159.37 498.39L159.8 498.59L160.21 498.82L160.63 499.26L161.03 499.5L161.43 499.71L161.83 499.87L162.22 500.21L162.61 500.34L162.99 500.47L163.36 500.6L163.73 501.13L164.1 501.5L164.46 501.78L164.82 502.01L165.17 502.25L165.52 502.55L165.86 502.99L166.2 503.5L166.54 503.71L166.87 503.77L167.2 503.88L167.52 503.98L167.84 504.09L168.16 504.15L168.48 504.37L168.79 504.48L169.1 504.7L169.4 504.99L169.7 505.16L170 505.33L170.29 505.39L170.59 505.51L181.2 515.99L182.2 517.1L183.2 518.22L184.2 519.34L185.2 520.47L186.2 521.61L187.2 522.75L188.2 523.9L189.2 525.05L190.2 526.21L191.2 527.37L192.2 528.54L193.2 529.74L194.2 530.96L195.2 532.2L196.2 533.44L197.2 534.67L198.2 535.89L199.2 537.09L200.2 538.25L201.2 539.37L202.2 540.43L203.2 541.42L204.2 542.37L205.2 543.31L206.2 544.26L207.2 545.25L208.2 546.31L209.2 547.46L210.2 548.69L211.2 549.99L212.2 551.36L213.2 552.78L214.07 554.05L211.75 550.76L216.26 556.39L219.63 561.46L223.01 565.62L227.51 570.69L231.46 570.59L231.46 581.46L234.83 581.46L234.83 592.33L237.6 592.33L237.6 700" fill="none" stroke="#000000" stroke-width="0.95" stroke-dasharray="3.8 4" stroke-linejoin="round"/>
<path d="M36.66 457.3L56.82 458.33L68.61 459.07L76.98 459.95L83.47 460.97L88.77 462.06L93.25 463.18L97.13 464.3L100.56 465.4L103.62 466.56L106.4 467.65L108.93 468.6L111.25 469.37L113.41 470.19L115.42 471.05L117.29 472.01L119.06 472.88L120.72 473.64L122.29 474.39L123.78 474.97L125.2 475.71L126.55 476.08L127.85 476.56L129.08 477.12L130.27 477.55L131.41 478.15L132.51 478.56L133.57 479.18L134.59 479.71L135.57 480.23L136.53 480.94L137.45 481.39L138.34 481.89L139.21 482.24L140.06 482.77L140.88 483.36L141.67 483.86L142.45 484.43L143.2 484.93L143.94 485.38L144.66 485.71L145.36 486.17L146.04 486.6L146.71 487.11L147.36 487.54L148 487.79L148.63 488.13L149.24 488.52L149.84 488.68L150.43 488.95L151 489.4L151.57 489.83L152.12 490.12L152.67 490.41L153.2 490.69L153.72 491.15L154.24 491.49L154.75 491.9L155.24 492.29L155.73 492.71L156.21 492.91L156.68 493.39L157.15 493.87L157.61 494.16L158.06 494.29L158.5 494.77L158.94 495.04L159.37 495.51L159.8 495.69L160.21 495.9L160.63 496.29L161.03 496.51L161.43 496.7L161.83 496.85L162.22 497.15L162.61 497.27L162.99 497.39L163.36 497.51L163.73 497.98L164.1 498.31L164.46 498.56L164.82 498.77L165.17 498.99L165.52 499.25L165.86 499.65L166.2 500.1L166.54 500.29L166.87 500.34L167.2 500.44L167.52 500.53L167.84 500.63L168.16 500.68L168.48 500.88L168.79 500.98L169.1 501.17L169.4 501.43L169.7 501.58L170 501.73L170.29 501.79L170.59 501.89L181.2 513.02L182.2 514.01L183.2 514.98L184.2 515.94L185.2 516.88L186.2 517.81L187.2 518.73L188.2 519.64L189.2 520.53L190.2 521.4L191.2 522.26L192.2 523.11L193.2 523.96L194.2 524.8L195.2 525.64L196.2 526.47L197.2 527.28L198.2 528.07L199.2 528.83L200.2 529.56L201.2 530.26L202.2 530.92L203.2 531.52L204.2 532.09L205.2 532.61L206.2 533.11L207.2 533.59L208.2 534.07L209.2 534.54L210.2 535.03L211.2 535.54L212.2 536.09L213.2 536.68L214.2 537.3L215.2 537.97L216.2 538.66L217.2 539.38L218.2 540.11L218.84 540.58L221.89 541.19L226.95 544.57L230.89 548.51L234.83 552.45L237.31 555.83L237.31 575.1L271 575.1" fill="none" stroke="#000000" stroke-width="0.95" stroke-dasharray="3.8 4" stroke-linejoin="round"/>
<path d="M36.66 457.3L56.82 458.43L68.61 459.21L76.98 460.12L83.47 461.16L88.77 462.3L93.25 463.44L97.13 464.59L100.56 465.72L103.62 466.91L106.4 468.04L108.93 469.02L111.25 469.81L113.41 470.65L115.42 471.54L117.29 472.53L119.06 473.43L120.72 474.21L122.29 474.98L123.78 475.58L125.2 476.35L126.55 476.73L127.85 477.23L129.08 477.81L130.27 478.26L131.41 478.88L132.51 479.3L133.57 479.94L134.59 480.49L135.57 481.02L136.53 481.75L137.45 482.22L138.34 482.73L139.21 483.09L140.06 483.64L140.88 484.25L141.67 484.77L142.45 485.36L143.2 485.88L143.94 486.34L144.66 486.68L145.36 487.16L146.04 487.6L146.71 488.13L147.36 488.57L148 488.83L148.63 489.19L149.24 489.59L149.84 489.76L150.43 490.04L151 490.51L151.57 490.95L152.12 491.26L152.67 491.57L153.2 491.85L153.72 492.33L154.24 492.69L154.75 493.11L155.24 493.51L155.73 493.96L156.21 494.17L156.68 494.67L157.15 495.17L157.61 495.47L158.06 495.6L158.5 496.11L158.94 496.39L159.37 496.89L159.8 497.07L160.21 497.29L160.63 497.7L161.03 497.93L161.43 498.13L161.83 498.29L162.22 498.61L162.61 498.73L162.99 498.85L163.36 498.98L163.73 499.48L164.1 499.82L164.46 500.09L164.82 500.31L165.17 500.54L165.52 500.81L165.86 501.23L166.2 501.71L166.54 501.91L166.87 501.96L167.2 502.06L167.52 502.16L167.84 502.27L168.16 502.32L168.48 502.53L168.79 502.63L169.1 502.84L169.4 503.1L169.7 503.27L170 503.43L170.29 503.49L170.59 503.6L181.2 514.4L191.8 525.21L202.4 534.75L207.25 540.07L211.75 540.07L211.75 541.53L213.44 541.53L213.44 544.01L216.26 544.01L216.26 547.38L219.63 547.38L219.63 551.32L223.57 551.32L223.57 554.14L227.51 554.14L227.51 556.61L232.02 556.61L232.02 559.2L233.14 559.2L233.14 562.02L235.4 562.02L235.4 564.83L237.31 564.83L237.31 581.46L241.8 581.46L241.8 592.33L271 592.33" fill="none" stroke="#000000" stroke-width="1.0" stroke-linejoin="round"/>
<path d="M36.66 457.3L56.82 458.53L68.61 459.34L76.98 460.28L83.47 461.37L88.77 462.53L93.25 463.71L97.13 464.89L100.56 466.05L103.62 467.27L106.4 468.44L108.93 469.45L111.25 470.27L113.41 471.13L115.42 472.04L117.29 473.07L119.06 473.99L120.72 474.8L122.29 475.6L123.78 476.22L125.2 477.02L126.55 477.41L127.85 477.93L129.08 478.53L130.27 478.99L131.41 479.64L132.51 480.08L133.57 480.74L134.59 481.3L135.57 481.85L136.53 482.61L137.45 483.09L138.34 483.62L139.21 483.99L140.06 484.57L140.88 485.19L141.67 485.73L142.45 486.34L143.2 486.88L143.94 487.36L144.66 487.71L145.36 488.21L146.04 488.67L146.71 489.22L147.36 489.68L148 489.96L148.63 490.32L149.24 490.75L149.84 490.92L150.43 491.21L151 491.71L151.57 492.17L152.12 492.48L152.67 492.81L153.2 493.11L153.72 493.61L154.24 493.98L154.75 494.43L155.24 494.85L155.73 495.31L156.21 495.54L156.68 496.06L157.15 496.59L157.61 496.9L158.06 497.04L158.5 497.58L158.94 497.87L159.37 498.39L159.8 498.59L160.21 498.82L160.63 499.26L161.03 499.5L161.43 499.71L161.83 499.87L162.22 500.21L162.61 500.34L162.99 500.47L163.36 500.6L163.73 501.13L164.1 501.5L164.46 501.78L164.82 502.01L165.17 502.25L165.52 502.55L165.86 502.99L166.2 503.5L166.54 503.71L166.87 503.77L167.2 503.88L167.52 503.98L167.84 504.09L168.16 504.15L168.48 504.37L168.79 504.48L169.1 504.7L169.4 504.99L169.7 505.16L170 505.33L170.29 505.39L170.59 505.51L181.2 516.2L182.2 517.41L183.2 518.61L184.2 519.81L185.2 521L186.2 522.18L187.2 523.36L188.2 524.53L189.2 525.7L190.2 526.86L191.2 528.02L192.2 529.17L193.2 530.3L194.2 531.41L195.2 532.52L196.2 533.61L197.2 534.71L198.2 535.81L199.2 536.92L200.2 538.04L201.2 539.18L202.2 540.35L203.2 541.51L204.2 542.64L205.2 543.76L206.2 544.9L207.2 546.07L208.2 547.31L209.2 548.65L210.2 550.11L211.2 551.76L212.2 553.92L213.2 555.79L214.2 557.23L215.2 558.53L216.2 559.91L217.2 561.45L218.2 563.07L219.2 564.7L220.2 566.29L221.2 567.86L222.2 569.43L223.01 570.69L224.7 570.59L226.4 576.1L226.4 581.46L230.3 581.46L230.3 592.33L235 592.33" fill="none" stroke="#ff0000" stroke-width="0.95" stroke-dasharray="3.8 4" stroke-linejoin="round"/>
<path d="M36.66 457.3L56.82 458.33L68.61 459.07L76.98 459.95L83.47 460.97L88.77 462.06L93.25 463.18L97.13 464.3L100.56 465.4L103.62 466.56L106.4 467.65L108.93 468.6L111.25 469.37L113.41 470.19L115.42 471.05L117.29 472.01L119.06 472.88L120.72 473.64L122.29 474.39L123.78 474.97L125.2 475.71L126.55 476.08L127.85 476.56L129.08 477.12L130.27 477.55L131.41 478.15L132.51 478.56L133.57 479.18L134.59 479.71L135.57 480.23L136.53 480.94L137.45 481.39L138.34 481.89L139.21 482.24L140.06 482.77L140.88 483.36L141.67 483.86L142.45 484.43L143.2 484.93L143.94 485.38L144.66 485.71L145.36 486.17L146.04 486.6L146.71 487.11L147.36 487.54L148 487.79L148.63 488.13L149.24 488.52L149.84 488.68L150.43 488.95L151 489.4L151.57 489.83L152.12 490.12L152.67 490.41L153.2 490.69L153.72 491.15L154.24 491.49L154.75 491.9L155.24 492.29L155.73 492.71L156.21 492.91L156.68 493.39L157.15 493.87L157.61 494.16L158.06 494.29L158.5 494.77L158.94 495.04L159.37 495.51L159.8 495.69L160.21 495.9L160.63 496.29L161.03 496.51L161.43 496.7L161.83 496.85L162.22 497.15L162.61 497.27L162.99 497.39L163.36 497.51L163.73 497.98L164.1 498.31L164.46 498.56L164.82 498.77L165.17 498.99L165.52 499.25L165.86 499.65L166.2 500.1L166.54 500.29L166.87 500.34L167.2 500.44L167.52 500.53L167.84 500.63L168.16 500.68L168.48 500.88L168.79 500.98L169.1 501.17L169.4 501.43L169.7 501.58L170 501.73L170.29 501.79L170.59 501.89L181.2 513.23L182.2 514.23L183.2 515.23L184.2 516.21L185.2 517.19L186.2 518.16L187.2 519.11L188.2 520.06L189.2 521.01L190.2 521.94L191.2 522.86L192.2 523.77L193.2 524.67L194.2 525.56L195.2 526.44L196.2 527.31L197.2 528.18L198.2 529.04L199.2 529.89L200.2 530.75L201.2 531.6L202.2 532.46L203.2 533.32L204.2 534.18L205.2 535.03L206.2 535.89L207.2 536.74L208.2 537.59L209.2 538.43L210.2 539.28L211.2 540.13L212.2 540.97L213.2 541.81L214.2 542.67L215.2 543.55L216.2 544.42L217.2 545.28L218.2 546.11L219.2 546.89L220.2 547.61L221.2 548.26L222.2 548.85L223.2 549.4L224.2 549.92L225.2 550.43L226.2 550.95L227.2 551.48L228.2 552.06L229.2 552.68L230.2 553.38L231.2 554.17L232.2 555.15L233.2 556.27L234.2 557.44L235.2 558.62L236.2 559.88L237.2 561.19L237.65 561.79L239.9 564.24L244.6 564.24L244.6 567.09L248.9 567.09L248.9 570.59L254 570.59L254 575.1L261.6 575.1L261.6 581.46L271 581.46" fill="none" stroke="#ff0000" stroke-width="0.95" stroke-dasharray="3.8 4" stroke-linejoin="round"/>
<path d="M36.66 457.3L56.82 458.43L68.61 459.21L76.98 460.12L83.47 461.16L88.77 462.3L93.25 463.44L97.13 464.59L100.56 465.72L103.62 466.91L106.4 468.04L108.93 469.02L111.25 469.81L113.41 470.65L115.42 471.54L117.29 472.53L119.06 473.43L120.72 474.21L122.29 474.98L123.78 475.58L125.2 476.35L126.55 476.73L127.85 477.23L129.08 477.81L130.27 478.26L131.41 478.88L132.51 479.3L133.57 479.94L134.59 480.49L135.57 481.02L136.53 481.75L137.45 482.22L138.34 482.73L139.21 483.09L140.06 483.64L140.88 484.25L141.67 484.77L142.45 485.36L143.2 485.88L143.94 486.34L144.66 486.68L145.36 487.16L146.04 487.6L146.71 488.13L147.36 488.57L148 488.83L148.63 489.19L149.24 489.59L149.84 489.76L150.43 490.04L151 490.51L151.57 490.95L152.12 491.26L152.67 491.57L153.2 491.85L153.72 492.33L154.24 492.69L154.75 493.11L155.24 493.51L155.73 493.96L156.21 494.17L156.68 494.67L157.15 495.17L157.61 495.47L158.06 495.6L158.5 496.11L158.94 496.39L159.37 496.89L159.8 497.07L160.21 497.29L160.63 497.7L161.03 497.93L161.43 498.13L161.83 498.29L162.22 498.61L162.61 498.73L162.99 498.85L163.36 498.98L163.73 499.48L164.1 499.82L164.46 500.09L164.82 500.31L165.17 500.54L165.52 500.81L165.86 501.23L166.2 501.71L166.54 501.91L166.87 501.96L167.2 502.06L167.52 502.16L167.84 502.27L168.16 502.32L168.48 502.53L168.79 502.63L169.1 502.84L169.4 503.1L169.7 503.27L170 503.43L170.29 503.49L170.59 503.6L171.6 505.26L172.6 506.2L173.6 507.15L174.6 508.11L175.6 509.08L176.6 510.05L177.6 511.03L178.6 512.01L179.6 513.01L180.6 514.01L181.6 515.02L182.6 516.05L183.6 517.09L184.6 518.15L185.6 519.22L186.6 520.3L187.6 521.37L188.6 522.43L189.6 523.49L190.6 524.53L191.6 525.54L192.6 526.53L193.6 527.51L194.6 528.47L195.6 529.43L196.6 530.37L197.6 531.31L198.6 532.24L199.6 533.18L200.6 534.11L201.6 535.05L202.6 536L203.6 536.94L204.6 537.88L205.6 538.8L206.6 539.73L207.6 540.66L208.6 541.6L209.6 542.54L210.6 543.5L211.6 544.48L212.6 545.48L213.6 546.5L214.6 547.55L215.6 548.62L216.6 549.71L217.6 550.82L218.6 551.93L219.6 553.05L220.6 554.18L221.6 555.32L222.6 556.48L223.6 557.65L224.6 558.82L225.6 559.99L226.6 561.16L227.6 562.32L228.6 563.47L229.6 564.63L230.6 565.79L231.6 566.96L232.6 568.11L233.6 569.27L234.6 570.42L235.6 571.56L236.6 572.7L237.6 573.82L238.6 574.93L239.6 576.03L240.6 577.12L241.6 578.19L242.6 579.26L243.6 580.32L244.6 581.37L245.6 582.41L246.6 583.46L247.6 584.5L248.6 585.54L249.6 586.58L250.6 587.63L251.6 588.68L252.6 589.73L253.6 590.8L254.6 591.87L255.6 592.95L256.6 594.05L257.6 595.14L258.6 596.25L259.6 597.35L260.6 598.47L261.6 599.58L262.6 600.7L263.6 601.82L264.6 602.95L265.6 604.08L266.6 605.2L267.6 606.34L268.6 607.47L269.6 608.6L270.6 609.74L271 610.2" fill="none" stroke="#ff0000" stroke-width="1.0" stroke-linejoin="round"/>
<path d="M36.66 457.3L56.82 458.53L68.61 459.34L76.98 460.28L83.47 461.37L88.77 462.53L93.25 463.71L97.13 464.89L100.56 466.05L103.62 467.27L106.4 468.44L108.93 469.45L111.25 470.27L113.41 471.13L115.42 472.04L117.29 473.07L119.06 473.99L120.72 474.8L122.29 475.6L123.78 476.22L125.2 477.02L126.55 477.41L127.85 477.93L129.08 478.53L130.27 478.99L131.41 479.64L132.51 480.08L133.57 480.74L134.59 481.3L135.57 481.85L136.53 482.61L137.45 483.09L138.34 483.62L139.21 483.99L140.06 484.57L140.88 485.19L141.67 485.73L142.45 486.34L143.2 486.88L143.94 487.36L144.66 487.71L145.36 488.21L146.04 488.67L146.71 489.22L147.36 489.68L148 489.96L148.63 490.32L149.24 490.75L149.84 490.92L150.43 491.21L151 491.71L151.57 492.17L152.12 492.48L152.67 492.81L153.2 493.11L153.72 493.61L154.24 493.98L154.75 494.43L155.24 494.85L155.73 495.31L156.21 495.54L156.68 496.06L157.15 496.59L157.61 496.9L158.06 497.04L158.5 497.58L158.94 497.87L159.37 498.39L159.8 498.59L160.21 498.82L160.63 499.26L161.03 499.5L161.43 499.71L161.83 499.87L162.22 500.21L162.61 500.34L162.99 500.47L163.36 500.6L163.73 501.13L164.1 501.5L164.46 501.78L164.82 502.01L165.17 502.25L165.52 502.55L165.86 502.99L166.2 503.5L166.54 503.71L166.87 503.77L167.2 503.88L167.52 503.98L167.84 504.09L168.16 504.15L168.48 504.37L168.79 504.48L169.1 504.7L169.4 504.99L169.7 505.16L170 505.33L170.29 505.39L170.59 505.51L181.2 515.78L182.2 517.03L183.2 518.26L184.2 519.46L185.2 520.65L186.2 521.81L187.2 522.95L188.2 524.07L189.2 525.15L190.2 526.22L191.2 527.25L192.2 528.26L193.2 529.23L194.2 530.15L195.2 531.05L196.2 531.93L197.2 532.8L198.2 533.66L199.2 534.52L200.2 535.4L201.2 536.29L202.2 537.21L203.2 538.16L204.2 539.11L205.2 540.07L206.2 541.03L207.2 542L208.2 542.99L209.2 543.99L210.2 545.01L211.2 546.06L212.2 547.13L213.2 548.22L214.2 549.35L215.2 550.53L216.2 551.81L217.2 553.23L218.2 554.76L219.2 556.39L220.2 558.06L221.2 559.75L222.2 561.42L223.2 563.18L224.2 564.96L225.2 566.67L226.2 568.2L227.2 569.58L228.08 570.69L228.1 572.4L229.8 580L230.8 581.46L230.8 592.33L235.4 592.33L235.4 603" fill="none" stroke="#0000ff" stroke-width="0.95" stroke-dasharray="3.8 4" stroke-linejoin="round"/>
<path d="M36.66 457.3L56.82 458.33L68.61 459.07L76.98 459.95L83.47 460.97L88.77 462.06L93.25 463.18L97.13 464.3L100.56 465.4L103.62 466.56L106.4 467.65L108.93 468.6L111.25 469.37L113.41 470.19L115.42 471.05L117.29 472.01L119.06 472.88L120.72 473.64L122.29 474.39L123.78 474.97L125.2 475.71L126.55 476.08L127.85 476.56L129.08 477.12L130.27 477.55L131.41 478.15L132.51 478.56L133.57 479.18L134.59 479.71L135.57 480.23L136.53 480.94L137.45 481.39L138.34 481.89L139.21 482.24L140.06 482.77L140.88 483.36L141.67 483.86L142.45 484.43L143.2 484.93L143.94 485.38L144.66 485.71L145.36 486.17L146.04 486.6L146.71 487.11L147.36 487.54L148 487.79L148.63 488.13L149.24 488.52L149.84 488.68L150.43 488.95L151 489.4L151.57 489.83L152.12 490.12L152.67 490.41L153.2 490.69L153.72 491.15L154.24 491.49L154.75 491.9L155.24 492.29L155.73 492.71L156.21 492.91L156.68 493.39L157.15 493.87L157.61 494.16L158.06 494.29L158.5 494.77L158.94 495.04L159.37 495.51L159.8 495.69L160.21 495.9L160.63 496.29L161.03 496.51L161.43 496.7L161.83 496.85L162.22 497.15L162.61 497.27L162.99 497.39L163.36 497.51L163.73 497.98L164.1 498.31L164.46 498.56L164.82 498.77L165.17 498.99L165.52 499.25L165.86 499.65L166.2 500.1L166.54 500.29L166.87 500.34L167.2 500.44L167.52 500.53L167.84 500.63L168.16 500.68L168.48 500.88L168.79 500.98L169.1 501.17L169.4 501.43L169.7 501.58L170 501.73L170.29 501.79L170.59 501.89L181.2 512.6L182.2 513.46L183.2 514.31L184.2 515.16L185.2 516.01L186.2 516.85L187.2 517.69L188.2 518.53L189.2 519.36L190.2 520.19L191.2 521.01L192.2 521.83L193.2 522.65L194.2 523.47L195.2 524.29L196.2 525.11L197.2 525.92L198.2 526.72L199.2 527.52L200.2 528.3L201.2 529.07L202.2 529.83L203.2 530.57L204.2 531.29L205.2 532L206.2 532.69L207.2 533.37L208.2 534.06L209.2 534.74L210.2 535.42L211.2 536.12L212.2 536.82L213.2 537.55L214.2 538.31L215.2 539.09L216.2 539.89L217.2 540.68L218.2 541.44L219.2 542.17L220.2 542.83L221.2 543.41L222.2 543.92L223.2 544.43L224.2 544.99L225.2 545.65L226.2 546.48L227.2 547.47L228.2 548.57L229.2 549.74L230.2 551.01L231.2 552.38L232.2 553.84L233.2 555.35L234.2 557.02L235.2 558.82L236.2 560.66L237.2 562.41L238.2 564.01L239.2 565.42L240.2 566.7L241.02 567.65L241 571.49L243.8 571.49L243.8 575.1L246.1 575.1L246.1 581.46L251.2 581.46L251.2 592.33L256 592.33" fill="none" stroke="#0000ff" stroke-width="0.95" stroke-dasharray="3.8 4" stroke-linejoin="round"/>
<path d="M36.66 457.3L56.82 458.43L68.61 459.21L76.98 460.12L83.47 461.16L88.77 462.3L93.25 463.44L97.13 464.59L100.56 465.72L103.62 466.91L106.4 468.04L108.93 469.02L111.25 469.81L113.41 470.65L115.42 471.54L117.29 472.53L119.06 473.43L120.72 474.21L122.29 474.98L123.78 475.58L125.2 476.35L126.55 476.73L127.85 477.23L129.08 477.81L130.27 478.26L131.41 478.88L132.51 479.3L133.57 479.94L134.59 480.49L135.57 481.02L136.53 481.75L137.45 482.22L138.34 482.73L139.21 483.09L140.06 483.64L140.88 484.25L141.67 484.77L142.45 485.36L143.2 485.88L143.94 486.34L144.66 486.68L145.36 487.16L146.04 487.6L146.71 488.13L147.36 488.57L148 488.83L148.63 489.19L149.24 489.59L149.84 489.76L150.43 490.04L151 490.51L151.57 490.95L152.12 491.26L152.67 491.57L153.2 491.85L153.72 492.33L154.24 492.69L154.75 493.11L155.24 493.51L155.73 493.96L156.21 494.17L156.68 494.67L157.15 495.17L157.61 495.47L158.06 495.6L158.5 496.11L158.94 496.39L159.37 496.89L159.8 497.07L160.21 497.29L160.63 497.7L161.03 497.93L161.43 498.13L161.83 498.29L162.22 498.61L162.61 498.73L162.99 498.85L163.36 498.98L163.73 499.48L164.1 499.82L164.46 500.09L164.82 500.31L165.17 500.54L165.52 500.81L165.86 501.23L166.2 501.71L166.54 501.91L166.87 501.96L167.2 502.06L167.52 502.16L167.84 502.27L168.16 502.32L168.48 502.53L168.79 502.63L169.1 502.84L169.4 503.1L169.7 503.27L170 503.43L170.29 503.49L170.59 503.6L171.3 504.95L172 505.57L172.7 506.19L173.4 506.82L174.1 507.46L174.8 508.09L175.5 508.73L176.2 509.38L176.9 510.03L177.6 510.68L178.3 511.33L179 511.99L179.7 512.65L180.4 513.32L181.1 513.99L181.8 514.66L182.5 515.35L183.2 516.05L183.9 516.76L184.6 517.48L185.3 518.2L186 518.92L186.7 519.64L187.4 520.36L188.1 521.07L188.8 521.78L189.5 522.48L190.2 523.17L190.9 523.84L191.6 524.5L192.3 525.14L193 525.76L193.7 526.38L194.4 526.98L195.1 527.58L195.8 528.17L196.5 528.75L197.2 529.33L197.9 529.91L198.6 530.48L199.3 531.06L200 531.65L200.7 532.23L201.4 532.83L202.1 533.43L202.8 534.04L203.5 534.65L204.2 535.27L204.9 535.88L205.6 536.5L206.3 537.12L207 537.74L207.7 538.37L208.4 539L209.1 539.63L209.8 540.27L210.5 540.91L211.2 541.55L211.9 542.2L212.6 542.85L213.3 543.51L214 544.18L214.7 544.85L215.4 545.53L216.1 546.22L216.8 546.91L217.5 547.6L218.2 548.3L218.9 549.01L219.6 549.72L220.3 550.43L221 551.14L221.7 551.84L222.4 552.54L223.1 553.25L223.8 553.96L224.5 554.69L225.2 555.44L225.9 556.2L226.6 557L227.3 557.82L228 558.67L228.7 559.55L229.4 560.45L230.1 561.39L230.8 562.37L231.5 563.38L232.2 564.45L232.9 565.56L233.6 566.73L234.3 567.95L235 569.23L235.7 570.6L236.4 572.07L237.1 573.65L237.8 575.36L238.5 577.43L239.2 579.7L239.9 581.9L240.6 584.02L241.3 586.13L242 588.24L242.7 590.32L243.4 592.39L244.1 594.4L244.8 596.37L245.5 598.32L246.2 600.29L246.9 602.33L247.6 604.47L248.3 606.72L249 609.07L249.7 611.5L250.4 613.97L251.1 616.45L251.8 618.96L252.5 621.52L253.2 624.11L253.9 626.7L254.6 629.26L255.3 631.78L256 634.3L256.7 636.81L257.4 639.34L258.1 641.87L258.8 644.4L259.5 646.93L260.2 649.47L260.9 652.01L261.6 654.55L262 656" fill="none" stroke="#0000ff" stroke-width="1.0" stroke-linejoin="round"/>
</g>
<rect x="189.36" y="463.3" width="73.15" height="38.9" fill="#fff" stroke="#000" stroke-width="1"/>
<path d="M194.06 470.9H223.26" stroke="#000000" stroke-width="1"/>
<text x="225.96" y="474.5" font-size="10.6">Data</text>
<path d="M194.06 482.7H223.26" stroke="#ff0000" stroke-width="1"/>
<text x="225.96" y="486.3" font-size="10.6">(5,Yes)</text>
<path d="M194.06 494.75H223.26" stroke="#0000ff" stroke-width="1"/>
<text x="225.96" y="498.35" font-size="10.6">(5,No)</text>
<clipPath id="cd1"><rect x="324" y="456.7" width="234" height="182.2"/></clipPath>
<rect x="324.6" y="457.3" width="232.8" height="181" fill="none" stroke="#000" stroke-width="1.15"/>
<path d="M324.6 638.3v-2.5M324.6 457.3v2.6M391.55 638.3v-2.5M391.55 457.3v2.6M458.5 638.3v-2.5M458.5 457.3v2.6M525.46 638.3v-2.5M525.46 457.3v2.6" stroke="#000" stroke-width="1"/>
<path d="M344.75 638.3v-1.7M344.75 457.3v1.7M356.54 638.3v-1.7M356.54 457.3v1.7M364.91 638.3v-1.7M364.91 457.3v1.7M371.4 638.3v-1.7M371.4 457.3v1.7M376.7 638.3v-1.7M376.7 457.3v1.7M381.18 638.3v-1.7M381.18 457.3v1.7M385.06 638.3v-1.7M385.06 457.3v1.7M388.49 638.3v-1.7M388.49 457.3v1.7M411.71 638.3v-1.7M411.71 457.3v1.7M423.5 638.3v-1.7M423.5 457.3v1.7M431.86 638.3v-1.7M431.86 457.3v1.7M438.35 638.3v-1.7M438.35 457.3v1.7M443.65 638.3v-1.7M443.65 457.3v1.7M448.13 638.3v-1.7M448.13 457.3v1.7M452.02 638.3v-1.7M452.02 457.3v1.7M455.44 638.3v-1.7M455.44 457.3v1.7M478.66 638.3v-1.7M478.66 457.3v1.7M490.45 638.3v-1.7M490.45 457.3v1.7M498.81 638.3v-1.7M498.81 457.3v1.7M505.3 638.3v-1.7M505.3 457.3v1.7M510.6 638.3v-1.7M510.6 457.3v1.7M515.08 638.3v-1.7M515.08 457.3v1.7M518.97 638.3v-1.7M518.97 457.3v1.7M522.39 638.3v-1.7M522.39 457.3v1.7M545.61 638.3v-1.7M545.61 457.3v1.7M557.4 638.3v-1.7M557.4 457.3v1.7" stroke="#000" stroke-width="1"/>
<text x="317.3" y="653.2" font-size="10.6">10</text>
<text x="327.3" y="646.7" font-size="7.3" style="text-rendering:geometricPrecision">0</text>
<text x="384.25" y="653.2" font-size="10.6">10</text>
<text x="394.25" y="646.7" font-size="7.3" style="text-rendering:geometricPrecision">1</text>
<text x="451.2" y="653.2" font-size="10.6">10</text>
<text x="461.2" y="646.7" font-size="7.3" style="text-rendering:geometricPrecision">2</text>
<text x="518.16" y="653.2" font-size="10.6">10</text>
<text x="528.16" y="646.7" font-size="7.3" style="text-rendering:geometricPrecision">3</text>
<path d="M324.6 637.8h2.4M557.4 637.8h-3.4M324.6 601.7h2.4M557.4 601.7h-3.4M324.6 565.6h2.4M557.4 565.6h-3.4M324.6 529.5h2.4M557.4 529.5h-3.4M324.6 493.4h2.4M557.4 493.4h-3.4M324.6 457.3h2.4M557.4 457.3h-3.4" stroke="#000" stroke-width="1"/>
<path d="M324.6 626.93h1.6M557.4 626.93h-2.3M324.6 620.58h1.6M557.4 620.58h-2.3M324.6 616.07h1.6M557.4 616.07h-2.3M324.6 612.57h1.6M557.4 612.57h-2.3M324.6 609.71h1.6M557.4 609.71h-2.3M324.6 607.29h1.6M557.4 607.29h-2.3M324.6 605.2h1.6M557.4 605.2h-2.3M324.6 603.35h1.6M557.4 603.35h-2.3M324.6 590.83h1.6M557.4 590.83h-2.3M324.6 584.48h1.6M557.4 584.48h-2.3M324.6 579.97h1.6M557.4 579.97h-2.3M324.6 576.47h1.6M557.4 576.47h-2.3M324.6 573.61h1.6M557.4 573.61h-2.3M324.6 571.19h1.6M557.4 571.19h-2.3M324.6 569.1h1.6M557.4 569.1h-2.3M324.6 567.25h1.6M557.4 567.25h-2.3M324.6 554.73h1.6M557.4 554.73h-2.3M324.6 548.38h1.6M557.4 548.38h-2.3M324.6 543.87h1.6M557.4 543.87h-2.3M324.6 540.37h1.6M557.4 540.37h-2.3M324.6 537.51h1.6M557.4 537.51h-2.3M324.6 535.09h1.6M557.4 535.09h-2.3M324.6 533h1.6M557.4 533h-2.3M324.6 531.15h1.6M557.4 531.15h-2.3M324.6 518.63h1.6M557.4 518.63h-2.3M324.6 512.28h1.6M557.4 512.28h-2.3M324.6 507.77h1.6M557.4 507.77h-2.3M324.6 504.27h1.6M557.4 504.27h-2.3M324.6 501.41h1.6M557.4 501.41h-2.3M324.6 498.99h1.6M557.4 498.99h-2.3M324.6 496.9h1.6M557.4 496.9h-2.3M324.6 495.05h1.6M557.4 495.05h-2.3M324.6 482.53h1.6M557.4 482.53h-2.3M324.6 476.18h1.6M557.4 476.18h-2.3M324.6 471.67h1.6M557.4 471.67h-2.3M324.6 468.17h1.6M557.4 468.17h-2.3M324.6 465.31h1.6M557.4 465.31h-2.3M324.6 462.89h1.6M557.4 462.89h-2.3M324.6 460.8h1.6M557.4 460.8h-2.3M324.6 458.95h1.6M557.4 458.95h-2.3" stroke="#000" stroke-width="1"/>
<text x="304.25" y="642.75" font-size="10.6">10</text>
<rect x="314.25" y="633.35" width="4.8" height="1.3" fill="#000"/>
<text x="318.85" y="636.25" font-size="7.3" style="text-rendering:geometricPrecision">5</text>
<text x="304.25" y="606.2" font-size="10.6">10</text>
<rect x="314.25" y="596.8" width="4.8" height="1.3" fill="#000"/>
<text x="318.85" y="599.7" font-size="7.3" style="text-rendering:geometricPrecision">4</text>
<text x="304.25" y="569.9" font-size="10.6">10</text>
<rect x="314.25" y="560.5" width="4.8" height="1.3" fill="#000"/>
<text x="318.85" y="563.4" font-size="7.3" style="text-rendering:geometricPrecision">3</text>
<text x="304.25" y="533.4" font-size="10.6">10</text>
<rect x="314.25" y="524" width="4.8" height="1.3" fill="#000"/>
<text x="318.85" y="526.9" font-size="7.3" style="text-rendering:geometricPrecision">2</text>
<text x="304.25" y="497.3" font-size="10.6">10</text>
<rect x="314.25" y="487.9" width="4.8" height="1.3" fill="#000"/>
<text x="318.85" y="490.8" font-size="7.3" style="text-rendering:geometricPrecision">1</text>
<text x="304.25" y="460.9" font-size="10.6">10</text>
<text x="314.25" y="454.4" font-size="7.3" style="text-rendering:geometricPrecision">0</text>
<text x="440.5" y="665.3" font-size="10.6" text-anchor="middle">Number of Contacts</text>
<text transform="translate(297 548) rotate(-90)" font-size="10.6" text-anchor="middle">Survival function</text>
<g clip-path="url(#cd1)">
<path d="M324.6 457.3L344.75 458.53L356.54 459.34L364.91 460.28L371.4 461.37L376.7 462.53L381.18 463.71L385.06 464.89L388.49 466.05L391.55 467.27L394.32 468.44L396.85 469.45L399.18 470.27L401.34 471.13L403.34 472.04L405.22 473.07L406.98 473.99L408.64 474.8L410.22 475.6L411.71 476.22L413.13 477.02L414.48 477.41L415.77 477.93L417.01 478.53L418.19 478.99L419.34 479.64L420.43 480.08L421.49 480.74L422.51 481.3L423.5 481.85L424.45 482.61L425.37 483.09L426.27 483.62L427.14 483.99L427.98 484.57L428.8 485.19L429.59 485.73L430.37 486.34L431.12 486.88L431.86 487.36L432.58 487.71L433.28 488.21L433.96 488.67L434.63 489.22L435.29 489.68L435.92 489.96L436.55 490.32L437.16 490.75L437.76 490.92L438.35 491.21L438.93 491.71L439.49 492.17L440.04 492.48L440.59 492.81L441.12 493.11L441.64 493.61L442.16 493.98L442.66 494.43L443.16 494.85L443.65 495.31L444.13 495.54L444.6 496.06L445.07 496.59L445.53 496.9L445.98 497.04L446.42 497.58L446.86 497.87L447.29 498.39L447.71 498.59L448.13 498.82L448.55 499.26L448.95 499.5L449.35 499.71L449.75 499.87L450.14 500.21L450.52 500.34L450.9 500.47L451.28 500.6L451.65 501.13L452.02 501.5L452.38 501.78L452.73 502.01L453.09 502.25L453.43 502.55L453.78 502.99L454.12 503.5L454.45 503.71L454.79 503.77L455.12 503.88L455.44 503.98L455.76 504.09L456.08 504.15L456.39 504.37L456.7 504.48L457.01 504.7L457.32 504.99L457.62 505.16L457.92 505.33L458.21 505.39L458.5 505.51L469.94 515.99L470.94 517.1L471.94 518.22L472.94 519.34L473.94 520.47L474.94 521.61L475.94 522.75L476.94 523.9L477.94 525.05L478.94 526.21L479.94 527.37L480.94 528.54L481.94 529.74L482.94 530.96L483.94 532.2L484.94 533.44L485.94 534.67L486.94 535.89L487.94 537.09L488.94 538.25L489.94 539.37L490.94 540.43L491.94 541.42L492.94 542.37L493.94 543.31L494.94 544.26L495.94 545.25L496.94 546.31L497.94 547.46L498.94 548.69L499.94 549.99L500.94 551.36L501.94 552.78L502.81 554.05L500.49 550.76L505 556.39L508.37 561.46L511.75 565.62L516.25 570.69L520.2 570.59L520.2 581.46L523.57 581.46L523.57 592.33L526.34 592.33L526.34 700" fill="none" stroke="#000000" stroke-width="0.95" stroke-dasharray="3.8 4" stroke-linejoin="round"/>
<path d="M324.6 457.3L344.75 458.33L356.54 459.07L364.91 459.95L371.4 460.97L376.7 462.06L381.18 463.18L385.06 464.3L388.49 465.4L391.55 466.56L394.32 467.65L396.85 468.6L399.18 469.37L401.34 470.19L403.34 471.05L405.22 472.01L406.98 472.88L408.64 473.64L410.22 474.39L411.71 474.97L413.13 475.71L414.48 476.08L415.77 476.56L417.01 477.12L418.19 477.55L419.34 478.15L420.43 478.56L421.49 479.18L422.51 479.71L423.5 480.23L424.45 480.94L425.37 481.39L426.27 481.89L427.14 482.24L427.98 482.77L428.8 483.36L429.59 483.86L430.37 484.43L431.12 484.93L431.86 485.38L432.58 485.71L433.28 486.17L433.96 486.6L434.63 487.11L435.29 487.54L435.92 487.79L436.55 488.13L437.16 488.52L437.76 488.68L438.35 488.95L438.93 489.4L439.49 489.83L440.04 490.12L440.59 490.41L441.12 490.69L441.64 491.15L442.16 491.49L442.66 491.9L443.16 492.29L443.65 492.71L444.13 492.91L444.6 493.39L445.07 493.87L445.53 494.16L445.98 494.29L446.42 494.77L446.86 495.04L447.29 495.51L447.71 495.69L448.13 495.9L448.55 496.29L448.95 496.51L449.35 496.7L449.75 496.85L450.14 497.15L450.52 497.27L450.9 497.39L451.28 497.51L451.65 497.98L452.02 498.31L452.38 498.56L452.73 498.77L453.09 498.99L453.43 499.25L453.78 499.65L454.12 500.1L454.45 500.29L454.79 500.34L455.12 500.44L455.44 500.53L455.76 500.63L456.08 500.68L456.39 500.88L456.7 500.98L457.01 501.17L457.32 501.43L457.62 501.58L457.92 501.73L458.21 501.79L458.5 501.89L469.94 513.02L470.94 514.01L471.94 514.98L472.94 515.94L473.94 516.88L474.94 517.81L475.94 518.73L476.94 519.64L477.94 520.53L478.94 521.4L479.94 522.26L480.94 523.11L481.94 523.96L482.94 524.8L483.94 525.64L484.94 526.47L485.94 527.28L486.94 528.07L487.94 528.83L488.94 529.56L489.94 530.26L490.94 530.92L491.94 531.52L492.94 532.09L493.94 532.61L494.94 533.11L495.94 533.59L496.94 534.07L497.94 534.54L498.94 535.03L499.94 535.54L500.94 536.09L501.94 536.68L502.94 537.3L503.94 537.97L504.94 538.66L505.94 539.38L506.94 540.11L507.58 540.58L510.63 541.19L515.69 544.57L519.63 548.51L523.57 552.45L526.05 555.83L526.05 575.1L559.74 575.1" fill="none" stroke="#000000" stroke-width="0.95" stroke-dasharray="3.8 4" stroke-linejoin="round"/>
<path d="M324.6 457.3L344.75 458.43L356.54 459.21L364.91 460.12L371.4 461.16L376.7 462.3L381.18 463.44L385.06 464.59L388.49 465.72L391.55 466.91L394.32 468.04L396.85 469.02L399.18 469.81L401.34 470.65L403.34 471.54L405.22 472.53L406.98 473.43L408.64 474.21L410.22 474.98L411.71 475.58L413.13 476.35L414.48 476.73L415.77 477.23L417.01 477.81L418.19 478.26L419.34 478.88L420.43 479.3L421.49 479.94L422.51 480.49L423.5 481.02L424.45 481.75L425.37 482.22L426.27 482.73L427.14 483.09L427.98 483.64L428.8 484.25L429.59 484.77L430.37 485.36L431.12 485.88L431.86 486.34L432.58 486.68L433.28 487.16L433.96 487.6L434.63 488.13L435.29 488.57L435.92 488.83L436.55 489.19L437.16 489.59L437.76 489.76L438.35 490.04L438.93 490.51L439.49 490.95L440.04 491.26L440.59 491.57L441.12 491.85L441.64 492.33L442.16 492.69L442.66 493.11L443.16 493.51L443.65 493.96L444.13 494.17L444.6 494.67L445.07 495.17L445.53 495.47L445.98 495.6L446.42 496.11L446.86 496.39L447.29 496.89L447.71 497.07L448.13 497.29L448.55 497.7L448.95 497.93L449.35 498.13L449.75 498.29L450.14 498.61L450.52 498.73L450.9 498.85L451.28 498.98L451.65 499.48L452.02 499.82L452.38 500.09L452.73 500.31L453.09 500.54L453.43 500.81L453.78 501.23L454.12 501.71L454.45 501.91L454.79 501.96L455.12 502.06L455.44 502.16L455.76 502.27L456.08 502.32L456.39 502.53L456.7 502.63L457.01 502.84L457.32 503.1L457.62 503.27L457.92 503.43L458.21 503.49L458.5 503.6L469.94 514.4L480.54 525.21L491.14 534.75L495.99 540.07L500.49 540.07L500.49 541.53L502.18 541.53L502.18 544.01L505 544.01L505 547.38L508.37 547.38L508.37 551.32L512.31 551.32L512.31 554.14L516.25 554.14L516.25 556.61L520.76 556.61L520.76 559.2L521.88 559.2L521.88 562.02L524.14 562.02L524.14 564.83L526.05 564.83L526.05 581.46L530.54 581.46L530.54 592.33L559.74 592.33" fill="none" stroke="#000000" stroke-width="1.0" stroke-linejoin="round"/>
<path d="M324.6 457.3L344.75 458.53L356.54 459.34L364.91 460.28L371.4 461.37L376.7 462.53L381.18 463.71L385.06 464.89L388.49 466.05L391.55 467.27L394.32 468.44L396.85 469.45L399.18 470.27L401.34 471.13L403.34 472.04L405.22 473.07L406.98 473.99L408.64 474.8L410.22 475.6L411.71 476.22L413.13 477.02L414.48 477.41L415.77 477.93L417.01 478.53L418.19 478.99L419.34 479.64L420.43 480.08L421.49 480.74L422.51 481.3L423.5 481.85L424.45 482.61L425.37 483.09L426.27 483.62L427.14 483.99L427.98 484.57L428.8 485.19L429.59 485.73L430.37 486.34L431.12 486.88L431.86 487.36L432.58 487.71L433.28 488.21L433.96 488.67L434.63 489.22L435.29 489.68L435.92 489.96L436.55 490.32L437.16 490.75L437.76 490.92L438.35 491.21L438.93 491.71L439.49 492.17L440.04 492.48L440.59 492.81L441.12 493.11L441.64 493.61L442.16 493.98L442.66 494.43L443.16 494.85L443.65 495.31L444.13 495.54L444.6 496.06L445.07 496.59L445.53 496.9L445.98 497.04L446.42 497.58L446.86 497.87L447.29 498.39L447.71 498.59L448.13 498.82L448.55 499.26L448.95 499.5L449.35 499.71L449.75 499.87L450.14 500.21L450.52 500.34L450.9 500.47L451.28 500.6L451.65 501.13L452.02 501.5L452.38 501.78L452.73 502.01L453.09 502.25L453.43 502.55L453.78 502.99L454.12 503.5L454.45 503.71L454.79 503.77L455.12 503.88L455.44 503.98L455.76 504.09L456.08 504.15L456.39 504.37L456.7 504.48L457.01 504.7L457.32 504.99L457.62 505.16L457.92 505.33L458.21 505.39L458.5 505.51L469.2 517.47L470.2 518.67L471.2 519.86L472.2 521.05L473.2 522.23L474.2 523.41L475.2 524.59L476.2 525.77L477.2 526.94L478.2 528.11L479.2 529.28L480.2 530.45L481.2 531.61L482.2 532.77L483.2 533.92L484.2 535.07L485.2 536.22L486.2 537.37L487.2 538.51L488.2 539.66L489.2 540.8L490.2 541.94L491.2 543.06L492.2 544.17L493.2 545.39L494.2 546.77L495.2 548.26L496.2 549.82L497.2 551.41L498.2 553.04L499.2 554.76L500.2 556.46L501.2 557.98L502.2 559.31L503.2 560.58L504.2 561.94L505.2 563.48L506.2 565.13L507.2 566.72L508.2 568.23L509.2 569.7L509.89 570.69L512.7 575.53L514.39 581.46L517.2 581.46L517.77 587.46L518.33 592.33L522.83 592.33L522.83 599.83" fill="none" stroke="#ff0000" stroke-width="0.95" stroke-dasharray="3.8 4" stroke-linejoin="round"/>
<path d="M324.6 457.3L344.75 458.33L356.54 459.07L364.91 459.95L371.4 460.97L376.7 462.06L381.18 463.18L385.06 464.3L388.49 465.4L391.55 466.56L394.32 467.65L396.85 468.6L399.18 469.37L401.34 470.19L403.34 471.05L405.22 472.01L406.98 472.88L408.64 473.64L410.22 474.39L411.71 474.97L413.13 475.71L414.48 476.08L415.77 476.56L417.01 477.12L418.19 477.55L419.34 478.15L420.43 478.56L421.49 479.18L422.51 479.71L423.5 480.23L424.45 480.94L425.37 481.39L426.27 481.89L427.14 482.24L427.98 482.77L428.8 483.36L429.59 483.86L430.37 484.43L431.12 484.93L431.86 485.38L432.58 485.71L433.28 486.17L433.96 486.6L434.63 487.11L435.29 487.54L435.92 487.79L436.55 488.13L437.16 488.52L437.76 488.68L438.35 488.95L438.93 489.4L439.49 489.83L440.04 490.12L440.59 490.41L441.12 490.69L441.64 491.15L442.16 491.49L442.66 491.9L443.16 492.29L443.65 492.71L444.13 492.91L444.6 493.39L445.07 493.87L445.53 494.16L445.98 494.29L446.42 494.77L446.86 495.04L447.29 495.51L447.71 495.69L448.13 495.9L448.55 496.29L448.95 496.51L449.35 496.7L449.75 496.85L450.14 497.15L450.52 497.27L450.9 497.39L451.28 497.51L451.65 497.98L452.02 498.31L452.38 498.56L452.73 498.77L453.09 498.99L453.43 499.25L453.78 499.65L454.12 500.1L454.45 500.29L454.79 500.34L455.12 500.44L455.44 500.53L455.76 500.63L456.08 500.68L456.39 500.88L456.7 500.98L457.01 501.17L457.32 501.43L457.62 501.58L457.92 501.73L458.21 501.79L458.5 501.89L469.2 514.08L470.2 515.05L471.2 516.02L472.2 516.99L473.2 517.94L474.2 518.9L475.2 519.85L476.2 520.79L477.2 521.73L478.2 522.67L479.2 523.6L480.2 524.52L481.2 525.44L482.2 526.35L483.2 527.25L484.2 528.15L485.2 529.04L486.2 529.94L487.2 530.83L488.2 531.72L489.2 532.61L490.2 533.51L491.2 534.42L492.2 535.37L493.2 536.33L494.2 537.3L495.2 538.27L496.2 539.23L497.2 540.15L498.2 541.04L499.2 541.88L500.2 542.66L501.2 543.37L502.2 543.96L503.2 544.5L504.2 545.1L505.2 545.79L506.2 546.55L507.2 547.36L508.2 548.2L509.2 549.05L510.2 549.91L511.2 550.79L512.2 551.71L513.2 552.63L514.2 553.55L515.2 554.43L516.2 555.28L517.2 556.11L518.2 556.92L519.2 557.71L520.2 558.49L521.2 559.25L522.2 559.99L523.2 560.71L524.2 561.41L525.08 562.02L527.9 561.82L530.15 565.24L530.37 570.59L535.78 570.59L538.03 575.1L545.91 575.1L546.25 581.46L559 581.46" fill="none" stroke="#ff0000" stroke-width="0.95" stroke-dasharray="3.8 4" stroke-linejoin="round"/>
<path d="M324.6 457.3L344.75 458.43L356.54 459.21L364.91 460.12L371.4 461.16L376.7 462.3L381.18 463.44L385.06 464.59L388.49 465.72L391.55 466.91L394.32 468.04L396.85 469.02L399.18 469.81L401.34 470.65L403.34 471.54L405.22 472.53L406.98 473.43L408.64 474.21L410.22 474.98L411.71 475.58L413.13 476.35L414.48 476.73L415.77 477.23L417.01 477.81L418.19 478.26L419.34 478.88L420.43 479.3L421.49 479.94L422.51 480.49L423.5 481.02L424.45 481.75L425.37 482.22L426.27 482.73L427.14 483.09L427.98 483.64L428.8 484.25L429.59 484.77L430.37 485.36L431.12 485.88L431.86 486.34L432.58 486.68L433.28 487.16L433.96 487.6L434.63 488.13L435.29 488.57L435.92 488.83L436.55 489.19L437.16 489.59L437.76 489.76L438.35 490.04L438.93 490.51L439.49 490.95L440.04 491.26L440.59 491.57L441.12 491.85L441.64 492.33L442.16 492.69L442.66 493.11L443.16 493.51L443.65 493.96L444.13 494.17L444.6 494.67L445.07 495.17L445.53 495.47L445.98 495.6L446.42 496.11L446.86 496.39L447.29 496.89L447.71 497.07L448.13 497.29L448.55 497.7L448.95 497.93L449.35 498.13L449.75 498.29L450.14 498.61L450.52 498.73L450.9 498.85L451.28 498.98L451.65 499.48L452.02 499.82L452.38 500.09L452.73 500.31L453.09 500.54L453.43 500.81L453.78 501.23L454.12 501.71L454.45 501.91L454.79 501.96L455.12 502.06L455.44 502.16L455.76 502.27L456.08 502.32L456.39 502.53L456.7 502.63L457.01 502.84L457.32 503.1L457.62 503.27L457.92 503.43L458.21 503.49L458.5 503.6L459.6 505.77L460.6 506.8L461.6 507.82L462.6 508.85L463.6 509.88L464.6 510.91L465.6 511.94L466.6 512.97L467.6 514.01L468.6 515.05L469.6 516.09L470.6 517.13L471.6 518.19L472.6 519.24L473.6 520.3L474.6 521.36L475.6 522.42L476.6 523.47L477.6 524.52L478.6 525.56L479.6 526.6L480.6 527.62L481.6 528.64L482.6 529.65L483.6 530.66L484.6 531.67L485.6 532.67L486.6 533.66L487.6 534.65L488.6 535.64L489.6 536.62L490.6 537.6L491.6 538.56L492.6 539.52L493.6 540.47L494.6 541.41L495.6 542.35L496.6 543.29L497.6 544.23L498.6 545.18L499.6 546.13L500.6 547.08L501.6 548.05L502.6 549L503.6 549.95L504.6 550.9L505.6 551.88L506.6 552.88L507.6 553.93L508.6 555.04L509.6 556.23L510.6 557.48L511.6 558.76L512.6 560.06L513.6 561.35L514.6 562.61L515.6 563.81L516.6 564.96L517.6 566.09L518.6 567.19L519.6 568.28L520.6 569.35L521.6 570.42L522.6 571.5L523.6 572.57L524.6 573.66L525.6 574.77L526.6 575.89L527.6 577.04L528.6 578.21L529.6 579.39L530.6 580.57L531.6 581.77L532.6 582.97L533.6 584.18L534.6 585.4L535.6 586.61L536.6 587.83L537.6 589.05L538.6 590.26L539.6 591.47L540.6 592.68L541.6 593.87L542.6 595.04L543.6 596.2L544.6 597.34L545.6 598.48L546.6 599.62L547.6 600.76L548.6 601.91L549.6 603.07L550.6 604.25L551.6 605.45L552.6 606.67L553.6 607.92L554.6 609.2L555.6 610.52L556.6 611.88L557.6 613.28L558.6 614.85L559 615.5" fill="none" stroke="#ff0000" stroke-width="1.0" stroke-linejoin="round"/>
<path d="M324.6 457.3L344.75 458.53L356.54 459.34L364.91 460.28L371.4 461.37L376.7 462.53L381.18 463.71L385.06 464.89L388.49 466.05L391.55 467.27L394.32 468.44L396.85 469.45L399.18 470.27L401.34 471.13L403.34 472.04L405.22 473.07L406.98 473.99L408.64 474.8L410.22 475.6L411.71 476.22L413.13 477.02L414.48 477.41L415.77 477.93L417.01 478.53L418.19 478.99L419.34 479.64L420.43 480.08L421.49 480.74L422.51 481.3L423.5 481.85L424.45 482.61L425.37 483.09L426.27 483.62L427.14 483.99L427.98 484.57L428.8 485.19L429.59 485.73L430.37 486.34L431.12 486.88L431.86 487.36L432.58 487.71L433.28 488.21L433.96 488.67L434.63 489.22L435.29 489.68L435.92 489.96L436.55 490.32L437.16 490.75L437.76 490.92L438.35 491.21L438.93 491.71L439.49 492.17L440.04 492.48L440.59 492.81L441.12 493.11L441.64 493.61L442.16 493.98L442.66 494.43L443.16 494.85L443.65 495.31L444.13 495.54L444.6 496.06L445.07 496.59L445.53 496.9L445.98 497.04L446.42 497.58L446.86 497.87L447.29 498.39L447.71 498.59L448.13 498.82L448.55 499.26L448.95 499.5L449.35 499.71L449.75 499.87L450.14 500.21L450.52 500.34L450.9 500.47L451.28 500.6L451.65 501.13L452.02 501.5L452.38 501.78L452.73 502.01L453.09 502.25L453.43 502.55L453.78 502.99L454.12 503.5L454.45 503.71L454.79 503.77L455.12 503.88L455.44 503.98L455.76 504.09L456.08 504.15L456.39 504.37L456.7 504.48L457.01 504.7L457.32 504.99L457.62 505.16L457.92 505.33L458.21 505.39L458.5 505.51L469.2 516.73L470.2 517.94L471.2 519.12L472.2 520.3L473.2 521.46L474.2 522.6L475.2 523.73L476.2 524.84L477.2 525.94L478.2 527.02L479.2 528.08L480.2 529.12L481.2 530.1L482.2 531.04L483.2 531.93L484.2 532.81L485.2 533.69L486.2 534.59L487.2 535.53L488.2 536.53L489.2 537.59L490.2 538.75L491.2 540.14L492.2 541.77L493.2 543.11L494.2 544.15L495.2 545.05L496.2 545.88L497.2 546.69L498.2 547.55L499.2 548.49L500.2 549.46L501.2 550.45L502.2 551.45L503.2 552.48L504.2 553.52L505.2 554.57L506.2 555.65L507.2 556.74L508.2 557.86L509.2 558.98L510.2 560.13L511.2 561.25L512.2 562.38L513.2 563.54L514.2 564.77L515.2 566.08L516.2 567.52L517.2 569.07L518.2 570.81L519.2 572.83L520.2 575.46L521.2 577.9L522.2 579.82L523.2 581.45L523.4 581.72L524.52 584.53L525.08 592.33L526.77 592.33" fill="none" stroke="#0000ff" stroke-width="0.95" stroke-dasharray="3.8 4" stroke-linejoin="round"/>
<path d="M324.6 457.3L344.75 458.33L356.54 459.07L364.91 459.95L371.4 460.97L376.7 462.06L381.18 463.18L385.06 464.3L388.49 465.4L391.55 466.56L394.32 467.65L396.85 468.6L399.18 469.37L401.34 470.19L403.34 471.05L405.22 472.01L406.98 472.88L408.64 473.64L410.22 474.39L411.71 474.97L413.13 475.71L414.48 476.08L415.77 476.56L417.01 477.12L418.19 477.55L419.34 478.15L420.43 478.56L421.49 479.18L422.51 479.71L423.5 480.23L424.45 480.94L425.37 481.39L426.27 481.89L427.14 482.24L427.98 482.77L428.8 483.36L429.59 483.86L430.37 484.43L431.12 484.93L431.86 485.38L432.58 485.71L433.28 486.17L433.96 486.6L434.63 487.11L435.29 487.54L435.92 487.79L436.55 488.13L437.16 488.52L437.76 488.68L438.35 488.95L438.93 489.4L439.49 489.83L440.04 490.12L440.59 490.41L441.12 490.69L441.64 491.15L442.16 491.49L442.66 491.9L443.16 492.29L443.65 492.71L444.13 492.91L444.6 493.39L445.07 493.87L445.53 494.16L445.98 494.29L446.42 494.77L446.86 495.04L447.29 495.51L447.71 495.69L448.13 495.9L448.55 496.29L448.95 496.51L449.35 496.7L449.75 496.85L450.14 497.15L450.52 497.27L450.9 497.39L451.28 497.51L451.65 497.98L452.02 498.31L452.38 498.56L452.73 498.77L453.09 498.99L453.43 499.25L453.78 499.65L454.12 500.1L454.45 500.29L454.79 500.34L455.12 500.44L455.44 500.53L455.76 500.63L456.08 500.68L456.39 500.88L456.7 500.98L457.01 501.17L457.32 501.43L457.62 501.58L457.92 501.73L458.21 501.79L458.5 501.89L469.2 513.66L470.2 514.58L471.2 515.49L472.2 516.38L473.2 517.26L474.2 518.14L475.2 519L476.2 519.84L477.2 520.67L478.2 521.49L479.2 522.3L480.2 523.09L481.2 523.87L482.2 524.64L483.2 525.4L484.2 526.15L485.2 526.89L486.2 527.62L487.2 528.33L488.2 529.03L489.2 529.71L490.2 530.38L491.2 531.03L492.2 531.64L493.2 532.22L494.2 532.79L495.2 533.35L496.2 533.91L497.2 534.48L498.2 535.06L499.2 535.67L500.2 536.32L501.2 537.02L502.2 537.82L503.2 538.68L504.2 539.46L505.2 540.13L506.2 540.73L507.2 541.3L508.2 541.87L509.2 542.45L510.2 543.08L511.2 543.74L512.2 544.41L513.2 545.1L514.2 545.82L515.2 546.58L516.2 547.38L517.2 548.23L518.2 549.12L519.2 550.05L520.2 550.99L521.2 551.94L522.2 552.93L523.2 553.96L524.2 554.99L525.2 555.98L526.2 556.89L527.2 557.75L528.2 558.56L529.02 559.2L530.15 564.27L533.53 564.83L536.9 568.77L539.16 572.15L539.72 575.1L542.53 575.1L543.1 581.46L548.16 581.46L548.39 592.33L559 592.33" fill="none" stroke="#0000ff" stroke-width="0.95" stroke-dasharray="3.8 4" stroke-linejoin="round"/>
<path d="M324.6 457.3L344.75 458.43L356.54 459.21L364.91 460.12L371.4 461.16L376.7 462.3L381.18 463.44L385.06 464.59L388.49 465.72L391.55 466.91L394.32 468.04L396.85 469.02L399.18 469.81L401.34 470.65L403.34 471.54L405.22 472.53L406.98 473.43L408.64 474.21L410.22 474.98L411.71 475.58L413.13 476.35L414.48 476.73L415.77 477.23L417.01 477.81L418.19 478.26L419.34 478.88L420.43 479.3L421.49 479.94L422.51 480.49L423.5 481.02L424.45 481.75L425.37 482.22L426.27 482.73L427.14 483.09L427.98 483.64L428.8 484.25L429.59 484.77L430.37 485.36L431.12 485.88L431.86 486.34L432.58 486.68L433.28 487.16L433.96 487.6L434.63 488.13L435.29 488.57L435.92 488.83L436.55 489.19L437.16 489.59L437.76 489.76L438.35 490.04L438.93 490.51L439.49 490.95L440.04 491.26L440.59 491.57L441.12 491.85L441.64 492.33L442.16 492.69L442.66 493.11L443.16 493.51L443.65 493.96L444.13 494.17L444.6 494.67L445.07 495.17L445.53 495.47L445.98 495.6L446.42 496.11L446.86 496.39L447.29 496.89L447.71 497.07L448.13 497.29L448.55 497.7L448.95 497.93L449.35 498.13L449.75 498.29L450.14 498.61L450.52 498.73L450.9 498.85L451.28 498.98L451.65 499.48L452.02 499.82L452.38 500.09L452.73 500.31L453.09 500.54L453.43 500.81L453.78 501.23L454.12 501.71L454.45 501.91L454.79 501.96L455.12 502.06L455.44 502.16L455.76 502.27L456.08 502.32L456.39 502.53L456.7 502.63L457.01 502.84L457.32 503.1L457.62 503.27L457.92 503.43L458.21 503.49L458.5 503.6L459.3 505.24L460 505.94L460.7 506.64L461.4 507.34L462.1 508.04L462.8 508.74L463.5 509.44L464.2 510.14L464.9 510.84L465.6 511.54L466.3 512.24L467 512.94L467.7 513.64L468.4 514.34L469.1 515.04L469.8 515.74L470.5 516.45L471.2 517.17L471.9 517.88L472.6 518.6L473.3 519.32L474 520.04L474.7 520.75L475.4 521.46L476.1 522.17L476.8 522.87L477.5 523.56L478.2 524.23L478.9 524.9L479.6 525.56L480.3 526.2L481 526.84L481.7 527.48L482.4 528.11L483.1 528.74L483.8 529.36L484.5 529.97L485.2 530.58L485.9 531.18L486.6 531.76L487.3 532.34L488 532.91L488.7 533.46L489.4 534L490.1 534.53L490.8 535.04L491.5 535.52L492.2 535.97L492.9 536.42L493.6 536.86L494.3 537.3L495 537.76L495.7 538.25L496.4 538.75L497.1 539.25L497.8 539.77L498.5 540.3L499.2 540.84L499.9 541.42L500.6 542.02L501.3 542.67L502 543.42L502.7 544.23L503.4 545.03L504.1 545.77L504.8 546.41L505.5 547.01L506.2 547.57L506.9 548.1L507.6 548.63L508.3 549.16L509 549.7L509.7 550.27L510.4 550.86L511.1 551.46L511.8 552.07L512.5 552.69L513.2 553.32L513.9 553.96L514.6 554.61L515.3 555.28L516 555.96L516.7 556.66L517.4 557.37L518.1 558.1L518.8 558.84L519.5 559.6L520.2 560.37L520.9 561.17L521.6 561.99L522.3 562.83L523 563.69L523.7 564.57L524.4 565.48L525.1 566.41L525.8 567.38L526.5 568.38L527.2 569.42L527.9 570.52L528.6 571.68L529.3 572.88L530 574.1L530.7 575.34L531.4 576.59L532.1 577.82L532.8 579.03L533.5 580.22L534.2 581.39L534.9 582.56L535.6 583.74L536.3 584.92L537 586.12L537.7 587.36L538.4 588.62L539.1 589.93L539.8 591.3L540.5 592.73L541.2 594.23L541.9 595.81L542.6 597.46L543.3 599.19L544 600.97L544.7 602.82L545.4 604.77L546.1 606.84L546.8 608.97L547.5 611.15L548.2 613.33L548.9 615.49L549.6 617.63L550.3 619.77L551 621.95L551.7 624.18L552.4 626.51L553.1 628.94L553.8 631.46L554.5 634.06L555.2 636.72L555.9 639.42L556.6 642.18L557.3 645.01L558 647.9L558.5 650" fill="none" stroke="#0000ff" stroke-width="1.0" stroke-linejoin="round"/>
</g>
<rect x="482.25" y="462.95" width="70.35" height="39.4" fill="#fff" stroke="#000" stroke-width="1"/>
<path d="M487.2 471.45H515.45" stroke="#000000" stroke-width="1"/>
<text x="517.8" y="475.05" font-size="10.6">Data</text>
<path d="M487.2 483.25H515.45" stroke="#ff0000" stroke-width="1"/>
<text x="517.8" y="486.85" font-size="10.6">(3,Yes)</text>
<path d="M487.2 495.25H515.45" stroke="#0000ff" stroke-width="1"/>
<text x="517.8" y="498.85" font-size="10.6">(3,No)</text>
</svg>
</body></html>
